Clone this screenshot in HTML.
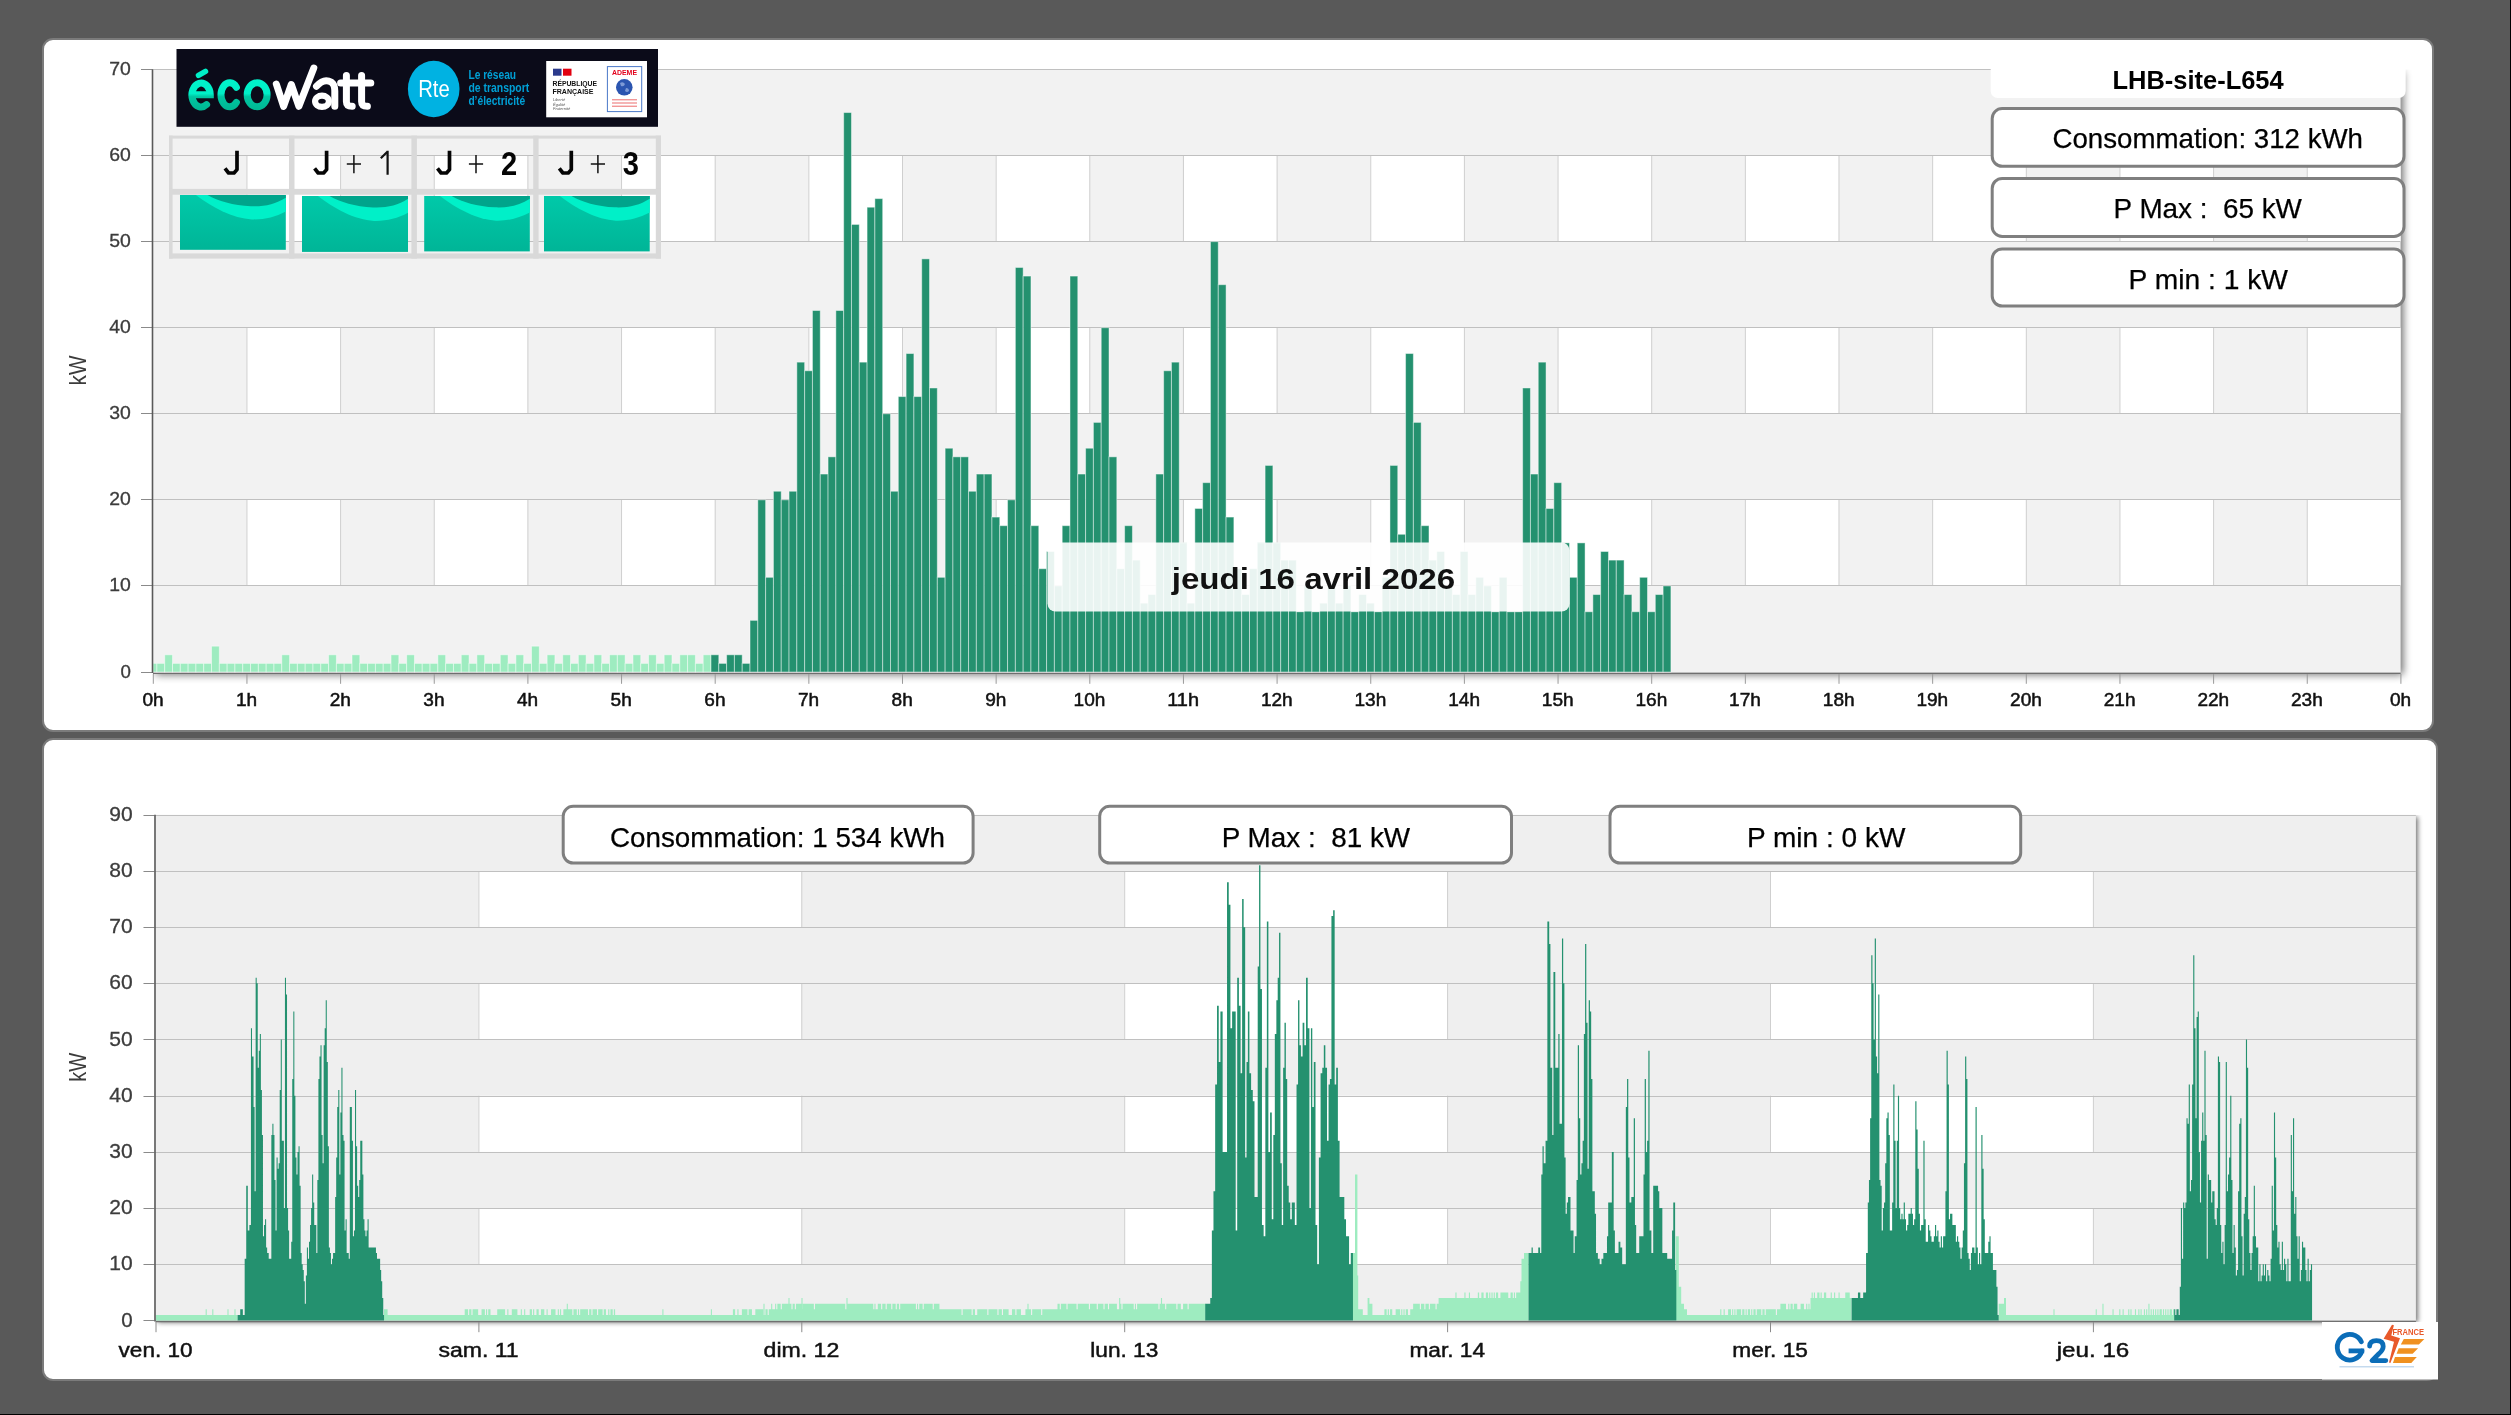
<!DOCTYPE html>
<html><head><meta charset="utf-8"><title>Consommation</title>
<style>
html,body{margin:0;padding:0;}
body{width:2511px;height:1415px;background:#595959;overflow:hidden;position:relative;font-family:'Liberation Sans', sans-serif;}
svg{position:absolute;left:0;top:0;will-change:transform;}
svg text{font-family:'Liberation Sans', sans-serif;}
</style></head><body>
<svg width="2511" height="1415" viewBox="0 0 2511 1415">
<defs>
<clipPath id="tclip"><rect x="153" y="69.5" width="2300" height="660"/></clipPath>
<clipPath id="bclip"><rect x="155.6" y="815" width="2300" height="560"/></clipPath>
<filter id="psh" x="-5%" y="-5%" width="110%" height="120%"><feGaussianBlur stdDeviation="4"/></filter>
<filter id="psh2" x="-5%" y="-5%" width="110%" height="120%"><feGaussianBlur stdDeviation="2.6"/></filter>
<filter id="bsh" x="-10%" y="-20%" width="120%" height="160%"><feGaussianBlur stdDeviation="2"/></filter>
</defs>
<rect x="2510" y="0" width="1" height="1415" fill="#000"/>
<rect x="0" y="1414" width="2511" height="1" fill="#000"/>

<rect x="43" y="39" width="2390" height="692" rx="10" ry="10" fill="#fff" stroke="#7b7b7b" stroke-width="2"/>
<rect x="43" y="739" width="2394" height="641" rx="10" ry="10" fill="#fff" stroke="#7b7b7b" stroke-width="2"/>
<rect x="155.5" y="72.0" width="2247.6" height="602.5" fill="#000" opacity="0.58" filter="url(#psh)" clip-path="url(#tclip)"/>
<rect x="153.0" y="69.5" width="2247.6" height="602.5" fill="#f2f2f2"/>
<rect x="246.65" y="499.86" width="93.65" height="86.07" fill="#fff"/>
<rect x="433.95" y="499.86" width="93.65" height="86.07" fill="#fff"/>
<rect x="621.25" y="499.86" width="93.65" height="86.07" fill="#fff"/>
<rect x="808.55" y="499.86" width="93.65" height="86.07" fill="#fff"/>
<rect x="995.85" y="499.86" width="93.65" height="86.07" fill="#fff"/>
<rect x="1183.15" y="499.86" width="93.65" height="86.07" fill="#fff"/>
<rect x="1370.45" y="499.86" width="93.65" height="86.07" fill="#fff"/>
<rect x="1557.75" y="499.86" width="93.65" height="86.07" fill="#fff"/>
<rect x="1745.05" y="499.86" width="93.65" height="86.07" fill="#fff"/>
<rect x="1932.35" y="499.86" width="93.65" height="86.07" fill="#fff"/>
<rect x="2119.65" y="499.86" width="93.65" height="86.07" fill="#fff"/>
<rect x="2306.95" y="499.86" width="93.65" height="86.07" fill="#fff"/>
<line x1="246.95" y1="499.9" x2="246.95" y2="585.9" stroke="#cfcfcf" stroke-width="1"/>
<line x1="340.6" y1="499.9" x2="340.6" y2="585.9" stroke="#cfcfcf" stroke-width="1"/>
<line x1="434.25" y1="499.9" x2="434.25" y2="585.9" stroke="#cfcfcf" stroke-width="1"/>
<line x1="527.9" y1="499.9" x2="527.9" y2="585.9" stroke="#cfcfcf" stroke-width="1"/>
<line x1="621.55" y1="499.9" x2="621.55" y2="585.9" stroke="#cfcfcf" stroke-width="1"/>
<line x1="715.2" y1="499.9" x2="715.2" y2="585.9" stroke="#cfcfcf" stroke-width="1"/>
<line x1="808.85" y1="499.9" x2="808.85" y2="585.9" stroke="#cfcfcf" stroke-width="1"/>
<line x1="902.5" y1="499.9" x2="902.5" y2="585.9" stroke="#cfcfcf" stroke-width="1"/>
<line x1="996.15" y1="499.9" x2="996.15" y2="585.9" stroke="#cfcfcf" stroke-width="1"/>
<line x1="1089.8" y1="499.9" x2="1089.8" y2="585.9" stroke="#cfcfcf" stroke-width="1"/>
<line x1="1183.45" y1="499.9" x2="1183.45" y2="585.9" stroke="#cfcfcf" stroke-width="1"/>
<line x1="1277.1" y1="499.9" x2="1277.1" y2="585.9" stroke="#cfcfcf" stroke-width="1"/>
<line x1="1370.75" y1="499.9" x2="1370.75" y2="585.9" stroke="#cfcfcf" stroke-width="1"/>
<line x1="1464.4" y1="499.9" x2="1464.4" y2="585.9" stroke="#cfcfcf" stroke-width="1"/>
<line x1="1558.05" y1="499.9" x2="1558.05" y2="585.9" stroke="#cfcfcf" stroke-width="1"/>
<line x1="1651.7" y1="499.9" x2="1651.7" y2="585.9" stroke="#cfcfcf" stroke-width="1"/>
<line x1="1745.35" y1="499.9" x2="1745.35" y2="585.9" stroke="#cfcfcf" stroke-width="1"/>
<line x1="1839.0" y1="499.9" x2="1839.0" y2="585.9" stroke="#cfcfcf" stroke-width="1"/>
<line x1="1932.65" y1="499.9" x2="1932.65" y2="585.9" stroke="#cfcfcf" stroke-width="1"/>
<line x1="2026.3" y1="499.9" x2="2026.3" y2="585.9" stroke="#cfcfcf" stroke-width="1"/>
<line x1="2119.95" y1="499.9" x2="2119.95" y2="585.9" stroke="#cfcfcf" stroke-width="1"/>
<line x1="2213.6" y1="499.9" x2="2213.6" y2="585.9" stroke="#cfcfcf" stroke-width="1"/>
<line x1="2307.25" y1="499.9" x2="2307.25" y2="585.9" stroke="#cfcfcf" stroke-width="1"/>
<rect x="246.65" y="327.72" width="93.65" height="86.07" fill="#fff"/>
<rect x="433.95" y="327.72" width="93.65" height="86.07" fill="#fff"/>
<rect x="621.25" y="327.72" width="93.65" height="86.07" fill="#fff"/>
<rect x="808.55" y="327.72" width="93.65" height="86.07" fill="#fff"/>
<rect x="995.85" y="327.72" width="93.65" height="86.07" fill="#fff"/>
<rect x="1183.15" y="327.72" width="93.65" height="86.07" fill="#fff"/>
<rect x="1370.45" y="327.72" width="93.65" height="86.07" fill="#fff"/>
<rect x="1557.75" y="327.72" width="93.65" height="86.07" fill="#fff"/>
<rect x="1745.05" y="327.72" width="93.65" height="86.07" fill="#fff"/>
<rect x="1932.35" y="327.72" width="93.65" height="86.07" fill="#fff"/>
<rect x="2119.65" y="327.72" width="93.65" height="86.07" fill="#fff"/>
<rect x="2306.95" y="327.72" width="93.65" height="86.07" fill="#fff"/>
<line x1="246.95" y1="327.7" x2="246.95" y2="413.8" stroke="#cfcfcf" stroke-width="1"/>
<line x1="340.6" y1="327.7" x2="340.6" y2="413.8" stroke="#cfcfcf" stroke-width="1"/>
<line x1="434.25" y1="327.7" x2="434.25" y2="413.8" stroke="#cfcfcf" stroke-width="1"/>
<line x1="527.9" y1="327.7" x2="527.9" y2="413.8" stroke="#cfcfcf" stroke-width="1"/>
<line x1="621.55" y1="327.7" x2="621.55" y2="413.8" stroke="#cfcfcf" stroke-width="1"/>
<line x1="715.2" y1="327.7" x2="715.2" y2="413.8" stroke="#cfcfcf" stroke-width="1"/>
<line x1="808.85" y1="327.7" x2="808.85" y2="413.8" stroke="#cfcfcf" stroke-width="1"/>
<line x1="902.5" y1="327.7" x2="902.5" y2="413.8" stroke="#cfcfcf" stroke-width="1"/>
<line x1="996.15" y1="327.7" x2="996.15" y2="413.8" stroke="#cfcfcf" stroke-width="1"/>
<line x1="1089.8" y1="327.7" x2="1089.8" y2="413.8" stroke="#cfcfcf" stroke-width="1"/>
<line x1="1183.45" y1="327.7" x2="1183.45" y2="413.8" stroke="#cfcfcf" stroke-width="1"/>
<line x1="1277.1" y1="327.7" x2="1277.1" y2="413.8" stroke="#cfcfcf" stroke-width="1"/>
<line x1="1370.75" y1="327.7" x2="1370.75" y2="413.8" stroke="#cfcfcf" stroke-width="1"/>
<line x1="1464.4" y1="327.7" x2="1464.4" y2="413.8" stroke="#cfcfcf" stroke-width="1"/>
<line x1="1558.05" y1="327.7" x2="1558.05" y2="413.8" stroke="#cfcfcf" stroke-width="1"/>
<line x1="1651.7" y1="327.7" x2="1651.7" y2="413.8" stroke="#cfcfcf" stroke-width="1"/>
<line x1="1745.35" y1="327.7" x2="1745.35" y2="413.8" stroke="#cfcfcf" stroke-width="1"/>
<line x1="1839.0" y1="327.7" x2="1839.0" y2="413.8" stroke="#cfcfcf" stroke-width="1"/>
<line x1="1932.65" y1="327.7" x2="1932.65" y2="413.8" stroke="#cfcfcf" stroke-width="1"/>
<line x1="2026.3" y1="327.7" x2="2026.3" y2="413.8" stroke="#cfcfcf" stroke-width="1"/>
<line x1="2119.95" y1="327.7" x2="2119.95" y2="413.8" stroke="#cfcfcf" stroke-width="1"/>
<line x1="2213.6" y1="327.7" x2="2213.6" y2="413.8" stroke="#cfcfcf" stroke-width="1"/>
<line x1="2307.25" y1="327.7" x2="2307.25" y2="413.8" stroke="#cfcfcf" stroke-width="1"/>
<rect x="246.65" y="155.58" width="93.65" height="86.07" fill="#fff"/>
<rect x="433.95" y="155.58" width="93.65" height="86.07" fill="#fff"/>
<rect x="621.25" y="155.58" width="93.65" height="86.07" fill="#fff"/>
<rect x="808.55" y="155.58" width="93.65" height="86.07" fill="#fff"/>
<rect x="995.85" y="155.58" width="93.65" height="86.07" fill="#fff"/>
<rect x="1183.15" y="155.58" width="93.65" height="86.07" fill="#fff"/>
<rect x="1370.45" y="155.58" width="93.65" height="86.07" fill="#fff"/>
<rect x="1557.75" y="155.58" width="93.65" height="86.07" fill="#fff"/>
<rect x="1745.05" y="155.58" width="93.65" height="86.07" fill="#fff"/>
<rect x="1932.35" y="155.58" width="93.65" height="86.07" fill="#fff"/>
<rect x="2119.65" y="155.58" width="93.65" height="86.07" fill="#fff"/>
<rect x="2306.95" y="155.58" width="93.65" height="86.07" fill="#fff"/>
<line x1="246.95" y1="155.6" x2="246.95" y2="241.7" stroke="#cfcfcf" stroke-width="1"/>
<line x1="340.6" y1="155.6" x2="340.6" y2="241.7" stroke="#cfcfcf" stroke-width="1"/>
<line x1="434.25" y1="155.6" x2="434.25" y2="241.7" stroke="#cfcfcf" stroke-width="1"/>
<line x1="527.9" y1="155.6" x2="527.9" y2="241.7" stroke="#cfcfcf" stroke-width="1"/>
<line x1="621.55" y1="155.6" x2="621.55" y2="241.7" stroke="#cfcfcf" stroke-width="1"/>
<line x1="715.2" y1="155.6" x2="715.2" y2="241.7" stroke="#cfcfcf" stroke-width="1"/>
<line x1="808.85" y1="155.6" x2="808.85" y2="241.7" stroke="#cfcfcf" stroke-width="1"/>
<line x1="902.5" y1="155.6" x2="902.5" y2="241.7" stroke="#cfcfcf" stroke-width="1"/>
<line x1="996.15" y1="155.6" x2="996.15" y2="241.7" stroke="#cfcfcf" stroke-width="1"/>
<line x1="1089.8" y1="155.6" x2="1089.8" y2="241.7" stroke="#cfcfcf" stroke-width="1"/>
<line x1="1183.45" y1="155.6" x2="1183.45" y2="241.7" stroke="#cfcfcf" stroke-width="1"/>
<line x1="1277.1" y1="155.6" x2="1277.1" y2="241.7" stroke="#cfcfcf" stroke-width="1"/>
<line x1="1370.75" y1="155.6" x2="1370.75" y2="241.7" stroke="#cfcfcf" stroke-width="1"/>
<line x1="1464.4" y1="155.6" x2="1464.4" y2="241.7" stroke="#cfcfcf" stroke-width="1"/>
<line x1="1558.05" y1="155.6" x2="1558.05" y2="241.7" stroke="#cfcfcf" stroke-width="1"/>
<line x1="1651.7" y1="155.6" x2="1651.7" y2="241.7" stroke="#cfcfcf" stroke-width="1"/>
<line x1="1745.35" y1="155.6" x2="1745.35" y2="241.7" stroke="#cfcfcf" stroke-width="1"/>
<line x1="1839.0" y1="155.6" x2="1839.0" y2="241.7" stroke="#cfcfcf" stroke-width="1"/>
<line x1="1932.65" y1="155.6" x2="1932.65" y2="241.7" stroke="#cfcfcf" stroke-width="1"/>
<line x1="2026.3" y1="155.6" x2="2026.3" y2="241.7" stroke="#cfcfcf" stroke-width="1"/>
<line x1="2119.95" y1="155.6" x2="2119.95" y2="241.7" stroke="#cfcfcf" stroke-width="1"/>
<line x1="2213.6" y1="155.6" x2="2213.6" y2="241.7" stroke="#cfcfcf" stroke-width="1"/>
<line x1="2307.25" y1="155.6" x2="2307.25" y2="241.7" stroke="#cfcfcf" stroke-width="1"/>
<line x1="141.0" y1="672.5" x2="2400.6" y2="672.5" stroke="#c0c0c0" stroke-width="1"/>
<line x1="141.0" y1="672.5" x2="153.0" y2="672.5" stroke="#8a8a8a" stroke-width="1"/>
<line x1="141.0" y1="585.5" x2="2400.6" y2="585.5" stroke="#c0c0c0" stroke-width="1"/>
<line x1="141.0" y1="585.5" x2="153.0" y2="585.5" stroke="#8a8a8a" stroke-width="1"/>
<line x1="141.0" y1="499.5" x2="2400.6" y2="499.5" stroke="#c0c0c0" stroke-width="1"/>
<line x1="141.0" y1="499.5" x2="153.0" y2="499.5" stroke="#8a8a8a" stroke-width="1"/>
<line x1="141.0" y1="413.5" x2="2400.6" y2="413.5" stroke="#c0c0c0" stroke-width="1"/>
<line x1="141.0" y1="413.5" x2="153.0" y2="413.5" stroke="#8a8a8a" stroke-width="1"/>
<line x1="141.0" y1="327.5" x2="2400.6" y2="327.5" stroke="#c0c0c0" stroke-width="1"/>
<line x1="141.0" y1="327.5" x2="153.0" y2="327.5" stroke="#8a8a8a" stroke-width="1"/>
<line x1="141.0" y1="241.5" x2="2400.6" y2="241.5" stroke="#c0c0c0" stroke-width="1"/>
<line x1="141.0" y1="241.5" x2="153.0" y2="241.5" stroke="#8a8a8a" stroke-width="1"/>
<line x1="141.0" y1="155.5" x2="2400.6" y2="155.5" stroke="#c0c0c0" stroke-width="1"/>
<line x1="141.0" y1="155.5" x2="153.0" y2="155.5" stroke="#8a8a8a" stroke-width="1"/>
<line x1="141.0" y1="69.5" x2="2400.6" y2="69.5" stroke="#c0c0c0" stroke-width="1"/>
<line x1="141.0" y1="69.5" x2="153.0" y2="69.5" stroke="#8a8a8a" stroke-width="1"/>
<rect x="153.00" y="663.39" width="3.90" height="8.61" fill="#9eecc0" stroke="#fff" stroke-opacity="0.45" stroke-width="1"/>
<rect x="156.90" y="663.39" width="7.80" height="8.61" fill="#9eecc0" stroke="#fff" stroke-opacity="0.45" stroke-width="1"/>
<rect x="164.71" y="654.79" width="7.80" height="17.21" fill="#9eecc0" stroke="#fff" stroke-opacity="0.45" stroke-width="1"/>
<rect x="172.51" y="663.39" width="7.80" height="8.61" fill="#9eecc0" stroke="#fff" stroke-opacity="0.45" stroke-width="1"/>
<rect x="180.31" y="663.39" width="7.80" height="8.61" fill="#9eecc0" stroke="#fff" stroke-opacity="0.45" stroke-width="1"/>
<rect x="188.12" y="663.39" width="7.80" height="8.61" fill="#9eecc0" stroke="#fff" stroke-opacity="0.45" stroke-width="1"/>
<rect x="195.92" y="663.39" width="7.80" height="8.61" fill="#9eecc0" stroke="#fff" stroke-opacity="0.45" stroke-width="1"/>
<rect x="203.73" y="663.39" width="7.80" height="8.61" fill="#9eecc0" stroke="#fff" stroke-opacity="0.45" stroke-width="1"/>
<rect x="211.53" y="646.18" width="7.80" height="25.82" fill="#9eecc0" stroke="#fff" stroke-opacity="0.45" stroke-width="1"/>
<rect x="219.34" y="663.39" width="7.80" height="8.61" fill="#9eecc0" stroke="#fff" stroke-opacity="0.45" stroke-width="1"/>
<rect x="227.14" y="663.39" width="7.80" height="8.61" fill="#9eecc0" stroke="#fff" stroke-opacity="0.45" stroke-width="1"/>
<rect x="234.94" y="663.39" width="7.80" height="8.61" fill="#9eecc0" stroke="#fff" stroke-opacity="0.45" stroke-width="1"/>
<rect x="242.75" y="663.39" width="7.80" height="8.61" fill="#9eecc0" stroke="#fff" stroke-opacity="0.45" stroke-width="1"/>
<rect x="250.55" y="663.39" width="7.80" height="8.61" fill="#9eecc0" stroke="#fff" stroke-opacity="0.45" stroke-width="1"/>
<rect x="258.36" y="663.39" width="7.80" height="8.61" fill="#9eecc0" stroke="#fff" stroke-opacity="0.45" stroke-width="1"/>
<rect x="266.16" y="663.39" width="7.80" height="8.61" fill="#9eecc0" stroke="#fff" stroke-opacity="0.45" stroke-width="1"/>
<rect x="273.96" y="663.39" width="7.80" height="8.61" fill="#9eecc0" stroke="#fff" stroke-opacity="0.45" stroke-width="1"/>
<rect x="281.77" y="654.79" width="7.80" height="17.21" fill="#9eecc0" stroke="#fff" stroke-opacity="0.45" stroke-width="1"/>
<rect x="289.57" y="663.39" width="7.80" height="8.61" fill="#9eecc0" stroke="#fff" stroke-opacity="0.45" stroke-width="1"/>
<rect x="297.38" y="663.39" width="7.80" height="8.61" fill="#9eecc0" stroke="#fff" stroke-opacity="0.45" stroke-width="1"/>
<rect x="305.18" y="663.39" width="7.80" height="8.61" fill="#9eecc0" stroke="#fff" stroke-opacity="0.45" stroke-width="1"/>
<rect x="312.99" y="663.39" width="7.80" height="8.61" fill="#9eecc0" stroke="#fff" stroke-opacity="0.45" stroke-width="1"/>
<rect x="320.79" y="663.39" width="7.80" height="8.61" fill="#9eecc0" stroke="#fff" stroke-opacity="0.45" stroke-width="1"/>
<rect x="328.59" y="654.79" width="7.80" height="17.21" fill="#9eecc0" stroke="#fff" stroke-opacity="0.45" stroke-width="1"/>
<rect x="336.40" y="663.39" width="7.80" height="8.61" fill="#9eecc0" stroke="#fff" stroke-opacity="0.45" stroke-width="1"/>
<rect x="344.20" y="663.39" width="7.80" height="8.61" fill="#9eecc0" stroke="#fff" stroke-opacity="0.45" stroke-width="1"/>
<rect x="352.01" y="654.79" width="7.80" height="17.21" fill="#9eecc0" stroke="#fff" stroke-opacity="0.45" stroke-width="1"/>
<rect x="359.81" y="663.39" width="7.80" height="8.61" fill="#9eecc0" stroke="#fff" stroke-opacity="0.45" stroke-width="1"/>
<rect x="367.61" y="663.39" width="7.80" height="8.61" fill="#9eecc0" stroke="#fff" stroke-opacity="0.45" stroke-width="1"/>
<rect x="375.42" y="663.39" width="7.80" height="8.61" fill="#9eecc0" stroke="#fff" stroke-opacity="0.45" stroke-width="1"/>
<rect x="383.22" y="663.39" width="7.80" height="8.61" fill="#9eecc0" stroke="#fff" stroke-opacity="0.45" stroke-width="1"/>
<rect x="391.03" y="654.79" width="7.80" height="17.21" fill="#9eecc0" stroke="#fff" stroke-opacity="0.45" stroke-width="1"/>
<rect x="398.83" y="663.39" width="7.80" height="8.61" fill="#9eecc0" stroke="#fff" stroke-opacity="0.45" stroke-width="1"/>
<rect x="406.64" y="654.79" width="7.80" height="17.21" fill="#9eecc0" stroke="#fff" stroke-opacity="0.45" stroke-width="1"/>
<rect x="414.44" y="663.39" width="7.80" height="8.61" fill="#9eecc0" stroke="#fff" stroke-opacity="0.45" stroke-width="1"/>
<rect x="422.24" y="663.39" width="7.80" height="8.61" fill="#9eecc0" stroke="#fff" stroke-opacity="0.45" stroke-width="1"/>
<rect x="430.05" y="663.39" width="7.80" height="8.61" fill="#9eecc0" stroke="#fff" stroke-opacity="0.45" stroke-width="1"/>
<rect x="437.85" y="654.79" width="7.80" height="17.21" fill="#9eecc0" stroke="#fff" stroke-opacity="0.45" stroke-width="1"/>
<rect x="445.66" y="663.39" width="7.80" height="8.61" fill="#9eecc0" stroke="#fff" stroke-opacity="0.45" stroke-width="1"/>
<rect x="453.46" y="663.39" width="7.80" height="8.61" fill="#9eecc0" stroke="#fff" stroke-opacity="0.45" stroke-width="1"/>
<rect x="461.26" y="654.79" width="7.80" height="17.21" fill="#9eecc0" stroke="#fff" stroke-opacity="0.45" stroke-width="1"/>
<rect x="469.07" y="663.39" width="7.80" height="8.61" fill="#9eecc0" stroke="#fff" stroke-opacity="0.45" stroke-width="1"/>
<rect x="476.87" y="654.79" width="7.80" height="17.21" fill="#9eecc0" stroke="#fff" stroke-opacity="0.45" stroke-width="1"/>
<rect x="484.68" y="663.39" width="7.80" height="8.61" fill="#9eecc0" stroke="#fff" stroke-opacity="0.45" stroke-width="1"/>
<rect x="492.48" y="663.39" width="7.80" height="8.61" fill="#9eecc0" stroke="#fff" stroke-opacity="0.45" stroke-width="1"/>
<rect x="500.29" y="654.79" width="7.80" height="17.21" fill="#9eecc0" stroke="#fff" stroke-opacity="0.45" stroke-width="1"/>
<rect x="508.09" y="663.39" width="7.80" height="8.61" fill="#9eecc0" stroke="#fff" stroke-opacity="0.45" stroke-width="1"/>
<rect x="515.89" y="654.79" width="7.80" height="17.21" fill="#9eecc0" stroke="#fff" stroke-opacity="0.45" stroke-width="1"/>
<rect x="523.70" y="663.39" width="7.80" height="8.61" fill="#9eecc0" stroke="#fff" stroke-opacity="0.45" stroke-width="1"/>
<rect x="531.50" y="646.18" width="7.80" height="25.82" fill="#9eecc0" stroke="#fff" stroke-opacity="0.45" stroke-width="1"/>
<rect x="539.31" y="663.39" width="7.80" height="8.61" fill="#9eecc0" stroke="#fff" stroke-opacity="0.45" stroke-width="1"/>
<rect x="547.11" y="654.79" width="7.80" height="17.21" fill="#9eecc0" stroke="#fff" stroke-opacity="0.45" stroke-width="1"/>
<rect x="554.91" y="663.39" width="7.80" height="8.61" fill="#9eecc0" stroke="#fff" stroke-opacity="0.45" stroke-width="1"/>
<rect x="562.72" y="654.79" width="7.80" height="17.21" fill="#9eecc0" stroke="#fff" stroke-opacity="0.45" stroke-width="1"/>
<rect x="570.52" y="663.39" width="7.80" height="8.61" fill="#9eecc0" stroke="#fff" stroke-opacity="0.45" stroke-width="1"/>
<rect x="578.33" y="654.79" width="7.80" height="17.21" fill="#9eecc0" stroke="#fff" stroke-opacity="0.45" stroke-width="1"/>
<rect x="586.13" y="663.39" width="7.80" height="8.61" fill="#9eecc0" stroke="#fff" stroke-opacity="0.45" stroke-width="1"/>
<rect x="593.94" y="654.79" width="7.80" height="17.21" fill="#9eecc0" stroke="#fff" stroke-opacity="0.45" stroke-width="1"/>
<rect x="601.74" y="663.39" width="7.80" height="8.61" fill="#9eecc0" stroke="#fff" stroke-opacity="0.45" stroke-width="1"/>
<rect x="609.54" y="654.79" width="7.80" height="17.21" fill="#9eecc0" stroke="#fff" stroke-opacity="0.45" stroke-width="1"/>
<rect x="617.35" y="654.79" width="7.80" height="17.21" fill="#9eecc0" stroke="#fff" stroke-opacity="0.45" stroke-width="1"/>
<rect x="625.15" y="663.39" width="7.80" height="8.61" fill="#9eecc0" stroke="#fff" stroke-opacity="0.45" stroke-width="1"/>
<rect x="632.96" y="654.79" width="7.80" height="17.21" fill="#9eecc0" stroke="#fff" stroke-opacity="0.45" stroke-width="1"/>
<rect x="640.76" y="663.39" width="7.80" height="8.61" fill="#9eecc0" stroke="#fff" stroke-opacity="0.45" stroke-width="1"/>
<rect x="648.56" y="654.79" width="7.80" height="17.21" fill="#9eecc0" stroke="#fff" stroke-opacity="0.45" stroke-width="1"/>
<rect x="656.37" y="663.39" width="7.80" height="8.61" fill="#9eecc0" stroke="#fff" stroke-opacity="0.45" stroke-width="1"/>
<rect x="664.17" y="654.79" width="7.80" height="17.21" fill="#9eecc0" stroke="#fff" stroke-opacity="0.45" stroke-width="1"/>
<rect x="671.98" y="663.39" width="7.80" height="8.61" fill="#9eecc0" stroke="#fff" stroke-opacity="0.45" stroke-width="1"/>
<rect x="679.78" y="654.79" width="7.80" height="17.21" fill="#9eecc0" stroke="#fff" stroke-opacity="0.45" stroke-width="1"/>
<rect x="687.59" y="654.79" width="7.80" height="17.21" fill="#9eecc0" stroke="#fff" stroke-opacity="0.45" stroke-width="1"/>
<rect x="695.39" y="663.39" width="7.80" height="8.61" fill="#9eecc0" stroke="#fff" stroke-opacity="0.45" stroke-width="1"/>
<rect x="703.19" y="654.79" width="7.80" height="17.21" fill="#9eecc0" stroke="#fff" stroke-opacity="0.45" stroke-width="1"/>
<rect x="711.00" y="654.79" width="7.80" height="17.21" fill="#24916f" stroke="#fff" stroke-opacity="0.45" stroke-width="1"/>
<rect x="718.80" y="663.39" width="7.80" height="8.61" fill="#24916f" stroke="#fff" stroke-opacity="0.45" stroke-width="1"/>
<rect x="726.61" y="654.79" width="7.80" height="17.21" fill="#24916f" stroke="#fff" stroke-opacity="0.45" stroke-width="1"/>
<rect x="734.41" y="654.79" width="7.80" height="17.21" fill="#24916f" stroke="#fff" stroke-opacity="0.45" stroke-width="1"/>
<rect x="742.21" y="663.39" width="7.80" height="8.61" fill="#24916f" stroke="#fff" stroke-opacity="0.45" stroke-width="1"/>
<rect x="750.02" y="620.36" width="7.80" height="51.64" fill="#24916f" stroke="#fff" stroke-opacity="0.45" stroke-width="1"/>
<rect x="757.82" y="499.86" width="7.80" height="172.14" fill="#24916f" stroke="#fff" stroke-opacity="0.45" stroke-width="1"/>
<rect x="765.63" y="577.32" width="7.80" height="94.68" fill="#24916f" stroke="#fff" stroke-opacity="0.45" stroke-width="1"/>
<rect x="773.43" y="491.25" width="7.80" height="180.75" fill="#24916f" stroke="#fff" stroke-opacity="0.45" stroke-width="1"/>
<rect x="781.24" y="499.86" width="7.80" height="172.14" fill="#24916f" stroke="#fff" stroke-opacity="0.45" stroke-width="1"/>
<rect x="789.04" y="491.25" width="7.80" height="180.75" fill="#24916f" stroke="#fff" stroke-opacity="0.45" stroke-width="1"/>
<rect x="796.84" y="362.15" width="7.80" height="309.85" fill="#24916f" stroke="#fff" stroke-opacity="0.45" stroke-width="1"/>
<rect x="804.65" y="370.75" width="7.80" height="301.25" fill="#24916f" stroke="#fff" stroke-opacity="0.45" stroke-width="1"/>
<rect x="812.45" y="310.51" width="7.80" height="361.49" fill="#24916f" stroke="#fff" stroke-opacity="0.45" stroke-width="1"/>
<rect x="820.26" y="474.04" width="7.80" height="197.96" fill="#24916f" stroke="#fff" stroke-opacity="0.45" stroke-width="1"/>
<rect x="828.06" y="456.83" width="7.80" height="215.17" fill="#24916f" stroke="#fff" stroke-opacity="0.45" stroke-width="1"/>
<rect x="835.86" y="310.51" width="7.80" height="361.49" fill="#24916f" stroke="#fff" stroke-opacity="0.45" stroke-width="1"/>
<rect x="843.67" y="112.55" width="7.80" height="559.45" fill="#24916f" stroke="#fff" stroke-opacity="0.45" stroke-width="1"/>
<rect x="851.47" y="224.44" width="7.80" height="447.56" fill="#24916f" stroke="#fff" stroke-opacity="0.45" stroke-width="1"/>
<rect x="859.28" y="362.15" width="7.80" height="309.85" fill="#24916f" stroke="#fff" stroke-opacity="0.45" stroke-width="1"/>
<rect x="867.08" y="207.22" width="7.80" height="464.78" fill="#24916f" stroke="#fff" stroke-opacity="0.45" stroke-width="1"/>
<rect x="874.89" y="198.62" width="7.80" height="473.38" fill="#24916f" stroke="#fff" stroke-opacity="0.45" stroke-width="1"/>
<rect x="882.69" y="413.79" width="7.80" height="258.21" fill="#24916f" stroke="#fff" stroke-opacity="0.45" stroke-width="1"/>
<rect x="890.49" y="491.25" width="7.80" height="180.75" fill="#24916f" stroke="#fff" stroke-opacity="0.45" stroke-width="1"/>
<rect x="898.30" y="396.58" width="7.80" height="275.42" fill="#24916f" stroke="#fff" stroke-opacity="0.45" stroke-width="1"/>
<rect x="906.10" y="353.54" width="7.80" height="318.46" fill="#24916f" stroke="#fff" stroke-opacity="0.45" stroke-width="1"/>
<rect x="913.91" y="396.58" width="7.80" height="275.42" fill="#24916f" stroke="#fff" stroke-opacity="0.45" stroke-width="1"/>
<rect x="921.71" y="258.86" width="7.80" height="413.14" fill="#24916f" stroke="#fff" stroke-opacity="0.45" stroke-width="1"/>
<rect x="929.51" y="387.97" width="7.80" height="284.03" fill="#24916f" stroke="#fff" stroke-opacity="0.45" stroke-width="1"/>
<rect x="937.32" y="577.32" width="7.80" height="94.68" fill="#24916f" stroke="#fff" stroke-opacity="0.45" stroke-width="1"/>
<rect x="945.12" y="448.22" width="7.80" height="223.78" fill="#24916f" stroke="#fff" stroke-opacity="0.45" stroke-width="1"/>
<rect x="952.93" y="456.83" width="7.80" height="215.17" fill="#24916f" stroke="#fff" stroke-opacity="0.45" stroke-width="1"/>
<rect x="960.73" y="456.83" width="7.80" height="215.17" fill="#24916f" stroke="#fff" stroke-opacity="0.45" stroke-width="1"/>
<rect x="968.54" y="491.25" width="7.80" height="180.75" fill="#24916f" stroke="#fff" stroke-opacity="0.45" stroke-width="1"/>
<rect x="976.34" y="474.04" width="7.80" height="197.96" fill="#24916f" stroke="#fff" stroke-opacity="0.45" stroke-width="1"/>
<rect x="984.14" y="474.04" width="7.80" height="197.96" fill="#24916f" stroke="#fff" stroke-opacity="0.45" stroke-width="1"/>
<rect x="991.95" y="517.07" width="7.80" height="154.93" fill="#24916f" stroke="#fff" stroke-opacity="0.45" stroke-width="1"/>
<rect x="999.75" y="525.68" width="7.80" height="146.32" fill="#24916f" stroke="#fff" stroke-opacity="0.45" stroke-width="1"/>
<rect x="1007.56" y="499.86" width="7.80" height="172.14" fill="#24916f" stroke="#fff" stroke-opacity="0.45" stroke-width="1"/>
<rect x="1015.36" y="267.47" width="7.80" height="404.53" fill="#24916f" stroke="#fff" stroke-opacity="0.45" stroke-width="1"/>
<rect x="1023.16" y="276.08" width="7.80" height="395.92" fill="#24916f" stroke="#fff" stroke-opacity="0.45" stroke-width="1"/>
<rect x="1030.97" y="525.68" width="7.80" height="146.32" fill="#24916f" stroke="#fff" stroke-opacity="0.45" stroke-width="1"/>
<rect x="1038.77" y="568.72" width="7.80" height="103.28" fill="#24916f" stroke="#fff" stroke-opacity="0.45" stroke-width="1"/>
<rect x="1046.58" y="551.50" width="7.80" height="120.50" fill="#24916f" stroke="#fff" stroke-opacity="0.45" stroke-width="1"/>
<rect x="1054.38" y="585.93" width="7.80" height="86.07" fill="#24916f" stroke="#fff" stroke-opacity="0.45" stroke-width="1"/>
<rect x="1062.19" y="525.68" width="7.80" height="146.32" fill="#24916f" stroke="#fff" stroke-opacity="0.45" stroke-width="1"/>
<rect x="1069.99" y="276.08" width="7.80" height="395.92" fill="#24916f" stroke="#fff" stroke-opacity="0.45" stroke-width="1"/>
<rect x="1077.79" y="474.04" width="7.80" height="197.96" fill="#24916f" stroke="#fff" stroke-opacity="0.45" stroke-width="1"/>
<rect x="1085.60" y="448.22" width="7.80" height="223.78" fill="#24916f" stroke="#fff" stroke-opacity="0.45" stroke-width="1"/>
<rect x="1093.40" y="422.40" width="7.80" height="249.60" fill="#24916f" stroke="#fff" stroke-opacity="0.45" stroke-width="1"/>
<rect x="1101.21" y="327.72" width="7.80" height="344.28" fill="#24916f" stroke="#fff" stroke-opacity="0.45" stroke-width="1"/>
<rect x="1109.01" y="456.83" width="7.80" height="215.17" fill="#24916f" stroke="#fff" stroke-opacity="0.45" stroke-width="1"/>
<rect x="1116.81" y="568.72" width="7.80" height="103.28" fill="#24916f" stroke="#fff" stroke-opacity="0.45" stroke-width="1"/>
<rect x="1124.62" y="525.68" width="7.80" height="146.32" fill="#24916f" stroke="#fff" stroke-opacity="0.45" stroke-width="1"/>
<rect x="1132.42" y="560.11" width="7.80" height="111.89" fill="#24916f" stroke="#fff" stroke-opacity="0.45" stroke-width="1"/>
<rect x="1140.23" y="603.14" width="7.80" height="68.86" fill="#24916f" stroke="#fff" stroke-opacity="0.45" stroke-width="1"/>
<rect x="1148.03" y="594.54" width="7.80" height="77.46" fill="#24916f" stroke="#fff" stroke-opacity="0.45" stroke-width="1"/>
<rect x="1155.84" y="474.04" width="7.80" height="197.96" fill="#24916f" stroke="#fff" stroke-opacity="0.45" stroke-width="1"/>
<rect x="1163.64" y="370.75" width="7.80" height="301.25" fill="#24916f" stroke="#fff" stroke-opacity="0.45" stroke-width="1"/>
<rect x="1171.44" y="362.15" width="7.80" height="309.85" fill="#24916f" stroke="#fff" stroke-opacity="0.45" stroke-width="1"/>
<rect x="1179.25" y="542.89" width="7.80" height="129.11" fill="#24916f" stroke="#fff" stroke-opacity="0.45" stroke-width="1"/>
<rect x="1187.05" y="603.14" width="7.80" height="68.86" fill="#24916f" stroke="#fff" stroke-opacity="0.45" stroke-width="1"/>
<rect x="1194.86" y="508.47" width="7.80" height="163.53" fill="#24916f" stroke="#fff" stroke-opacity="0.45" stroke-width="1"/>
<rect x="1202.66" y="482.65" width="7.80" height="189.35" fill="#24916f" stroke="#fff" stroke-opacity="0.45" stroke-width="1"/>
<rect x="1210.46" y="241.65" width="7.80" height="430.35" fill="#24916f" stroke="#fff" stroke-opacity="0.45" stroke-width="1"/>
<rect x="1218.27" y="284.69" width="7.80" height="387.31" fill="#24916f" stroke="#fff" stroke-opacity="0.45" stroke-width="1"/>
<rect x="1226.07" y="517.07" width="7.80" height="154.93" fill="#24916f" stroke="#fff" stroke-opacity="0.45" stroke-width="1"/>
<rect x="1233.88" y="568.72" width="7.80" height="103.28" fill="#24916f" stroke="#fff" stroke-opacity="0.45" stroke-width="1"/>
<rect x="1241.68" y="594.54" width="7.80" height="77.46" fill="#24916f" stroke="#fff" stroke-opacity="0.45" stroke-width="1"/>
<rect x="1249.49" y="568.72" width="7.80" height="103.28" fill="#24916f" stroke="#fff" stroke-opacity="0.45" stroke-width="1"/>
<rect x="1257.29" y="542.89" width="7.80" height="129.11" fill="#24916f" stroke="#fff" stroke-opacity="0.45" stroke-width="1"/>
<rect x="1265.09" y="465.43" width="7.80" height="206.57" fill="#24916f" stroke="#fff" stroke-opacity="0.45" stroke-width="1"/>
<rect x="1272.90" y="542.89" width="7.80" height="129.11" fill="#24916f" stroke="#fff" stroke-opacity="0.45" stroke-width="1"/>
<rect x="1280.70" y="560.11" width="7.80" height="111.89" fill="#24916f" stroke="#fff" stroke-opacity="0.45" stroke-width="1"/>
<rect x="1288.51" y="560.11" width="7.80" height="111.89" fill="#24916f" stroke="#fff" stroke-opacity="0.45" stroke-width="1"/>
<rect x="1296.31" y="611.75" width="7.80" height="60.25" fill="#24916f" stroke="#fff" stroke-opacity="0.45" stroke-width="1"/>
<rect x="1304.11" y="585.93" width="7.80" height="86.07" fill="#24916f" stroke="#fff" stroke-opacity="0.45" stroke-width="1"/>
<rect x="1311.92" y="611.75" width="7.80" height="60.25" fill="#24916f" stroke="#fff" stroke-opacity="0.45" stroke-width="1"/>
<rect x="1319.72" y="603.14" width="7.80" height="68.86" fill="#24916f" stroke="#fff" stroke-opacity="0.45" stroke-width="1"/>
<rect x="1327.53" y="585.93" width="7.80" height="86.07" fill="#24916f" stroke="#fff" stroke-opacity="0.45" stroke-width="1"/>
<rect x="1335.33" y="603.14" width="7.80" height="68.86" fill="#24916f" stroke="#fff" stroke-opacity="0.45" stroke-width="1"/>
<rect x="1343.14" y="585.93" width="7.80" height="86.07" fill="#24916f" stroke="#fff" stroke-opacity="0.45" stroke-width="1"/>
<rect x="1350.94" y="611.75" width="7.80" height="60.25" fill="#24916f" stroke="#fff" stroke-opacity="0.45" stroke-width="1"/>
<rect x="1358.74" y="594.54" width="7.80" height="77.46" fill="#24916f" stroke="#fff" stroke-opacity="0.45" stroke-width="1"/>
<rect x="1366.55" y="603.14" width="7.80" height="68.86" fill="#24916f" stroke="#fff" stroke-opacity="0.45" stroke-width="1"/>
<rect x="1374.35" y="611.75" width="7.80" height="60.25" fill="#24916f" stroke="#fff" stroke-opacity="0.45" stroke-width="1"/>
<rect x="1382.16" y="577.32" width="7.80" height="94.68" fill="#24916f" stroke="#fff" stroke-opacity="0.45" stroke-width="1"/>
<rect x="1389.96" y="465.43" width="7.80" height="206.57" fill="#24916f" stroke="#fff" stroke-opacity="0.45" stroke-width="1"/>
<rect x="1397.76" y="534.29" width="7.80" height="137.71" fill="#24916f" stroke="#fff" stroke-opacity="0.45" stroke-width="1"/>
<rect x="1405.57" y="353.54" width="7.80" height="318.46" fill="#24916f" stroke="#fff" stroke-opacity="0.45" stroke-width="1"/>
<rect x="1413.37" y="422.40" width="7.80" height="249.60" fill="#24916f" stroke="#fff" stroke-opacity="0.45" stroke-width="1"/>
<rect x="1421.18" y="525.68" width="7.80" height="146.32" fill="#24916f" stroke="#fff" stroke-opacity="0.45" stroke-width="1"/>
<rect x="1428.98" y="560.11" width="7.80" height="111.89" fill="#24916f" stroke="#fff" stroke-opacity="0.45" stroke-width="1"/>
<rect x="1436.79" y="551.50" width="7.80" height="120.50" fill="#24916f" stroke="#fff" stroke-opacity="0.45" stroke-width="1"/>
<rect x="1444.59" y="585.93" width="7.80" height="86.07" fill="#24916f" stroke="#fff" stroke-opacity="0.45" stroke-width="1"/>
<rect x="1452.39" y="594.54" width="7.80" height="77.46" fill="#24916f" stroke="#fff" stroke-opacity="0.45" stroke-width="1"/>
<rect x="1460.20" y="551.50" width="7.80" height="120.50" fill="#24916f" stroke="#fff" stroke-opacity="0.45" stroke-width="1"/>
<rect x="1468.00" y="594.54" width="7.80" height="77.46" fill="#24916f" stroke="#fff" stroke-opacity="0.45" stroke-width="1"/>
<rect x="1475.81" y="577.32" width="7.80" height="94.68" fill="#24916f" stroke="#fff" stroke-opacity="0.45" stroke-width="1"/>
<rect x="1483.61" y="585.93" width="7.80" height="86.07" fill="#24916f" stroke="#fff" stroke-opacity="0.45" stroke-width="1"/>
<rect x="1491.41" y="611.75" width="7.80" height="60.25" fill="#24916f" stroke="#fff" stroke-opacity="0.45" stroke-width="1"/>
<rect x="1499.22" y="577.32" width="7.80" height="94.68" fill="#24916f" stroke="#fff" stroke-opacity="0.45" stroke-width="1"/>
<rect x="1507.02" y="611.75" width="7.80" height="60.25" fill="#24916f" stroke="#fff" stroke-opacity="0.45" stroke-width="1"/>
<rect x="1514.83" y="611.75" width="7.80" height="60.25" fill="#24916f" stroke="#fff" stroke-opacity="0.45" stroke-width="1"/>
<rect x="1522.63" y="387.97" width="7.80" height="284.03" fill="#24916f" stroke="#fff" stroke-opacity="0.45" stroke-width="1"/>
<rect x="1530.44" y="474.04" width="7.80" height="197.96" fill="#24916f" stroke="#fff" stroke-opacity="0.45" stroke-width="1"/>
<rect x="1538.24" y="362.15" width="7.80" height="309.85" fill="#24916f" stroke="#fff" stroke-opacity="0.45" stroke-width="1"/>
<rect x="1546.04" y="508.47" width="7.80" height="163.53" fill="#24916f" stroke="#fff" stroke-opacity="0.45" stroke-width="1"/>
<rect x="1553.85" y="482.65" width="7.80" height="189.35" fill="#24916f" stroke="#fff" stroke-opacity="0.45" stroke-width="1"/>
<rect x="1561.65" y="542.89" width="7.80" height="129.11" fill="#24916f" stroke="#fff" stroke-opacity="0.45" stroke-width="1"/>
<rect x="1569.46" y="577.32" width="7.80" height="94.68" fill="#24916f" stroke="#fff" stroke-opacity="0.45" stroke-width="1"/>
<rect x="1577.26" y="542.89" width="7.80" height="129.11" fill="#24916f" stroke="#fff" stroke-opacity="0.45" stroke-width="1"/>
<rect x="1585.06" y="611.75" width="7.80" height="60.25" fill="#24916f" stroke="#fff" stroke-opacity="0.45" stroke-width="1"/>
<rect x="1592.87" y="594.54" width="7.80" height="77.46" fill="#24916f" stroke="#fff" stroke-opacity="0.45" stroke-width="1"/>
<rect x="1600.67" y="551.50" width="7.80" height="120.50" fill="#24916f" stroke="#fff" stroke-opacity="0.45" stroke-width="1"/>
<rect x="1608.48" y="560.11" width="7.80" height="111.89" fill="#24916f" stroke="#fff" stroke-opacity="0.45" stroke-width="1"/>
<rect x="1616.28" y="560.11" width="7.80" height="111.89" fill="#24916f" stroke="#fff" stroke-opacity="0.45" stroke-width="1"/>
<rect x="1624.09" y="594.54" width="7.80" height="77.46" fill="#24916f" stroke="#fff" stroke-opacity="0.45" stroke-width="1"/>
<rect x="1631.89" y="611.75" width="7.80" height="60.25" fill="#24916f" stroke="#fff" stroke-opacity="0.45" stroke-width="1"/>
<rect x="1639.69" y="577.32" width="7.80" height="94.68" fill="#24916f" stroke="#fff" stroke-opacity="0.45" stroke-width="1"/>
<rect x="1647.50" y="611.75" width="7.80" height="60.25" fill="#24916f" stroke="#fff" stroke-opacity="0.45" stroke-width="1"/>
<rect x="1655.30" y="594.54" width="7.80" height="77.46" fill="#24916f" stroke="#fff" stroke-opacity="0.45" stroke-width="1"/>
<rect x="1663.11" y="585.93" width="7.80" height="86.07" fill="#24916f" stroke="#fff" stroke-opacity="0.45" stroke-width="1"/>
<line x1="152.5" y1="69.5" x2="152.5" y2="673.0" stroke="#5a5a5a" stroke-width="1.6"/>
<line x1="153.0" y1="673.5" x2="2400.6" y2="673.5" stroke="#6f6f6f" stroke-width="1"/>
<line x1="153.30" y1="674" x2="153.30" y2="683.8" stroke="#9a9a9a" stroke-width="1"/>
<line x1="246.95" y1="674" x2="246.95" y2="683.8" stroke="#9a9a9a" stroke-width="1"/>
<line x1="340.60" y1="674" x2="340.60" y2="683.8" stroke="#9a9a9a" stroke-width="1"/>
<line x1="434.25" y1="674" x2="434.25" y2="683.8" stroke="#9a9a9a" stroke-width="1"/>
<line x1="527.90" y1="674" x2="527.90" y2="683.8" stroke="#9a9a9a" stroke-width="1"/>
<line x1="621.55" y1="674" x2="621.55" y2="683.8" stroke="#9a9a9a" stroke-width="1"/>
<line x1="715.20" y1="674" x2="715.20" y2="683.8" stroke="#9a9a9a" stroke-width="1"/>
<line x1="808.85" y1="674" x2="808.85" y2="683.8" stroke="#9a9a9a" stroke-width="1"/>
<line x1="902.50" y1="674" x2="902.50" y2="683.8" stroke="#9a9a9a" stroke-width="1"/>
<line x1="996.15" y1="674" x2="996.15" y2="683.8" stroke="#9a9a9a" stroke-width="1"/>
<line x1="1089.80" y1="674" x2="1089.80" y2="683.8" stroke="#9a9a9a" stroke-width="1"/>
<line x1="1183.45" y1="674" x2="1183.45" y2="683.8" stroke="#9a9a9a" stroke-width="1"/>
<line x1="1277.10" y1="674" x2="1277.10" y2="683.8" stroke="#9a9a9a" stroke-width="1"/>
<line x1="1370.75" y1="674" x2="1370.75" y2="683.8" stroke="#9a9a9a" stroke-width="1"/>
<line x1="1464.40" y1="674" x2="1464.40" y2="683.8" stroke="#9a9a9a" stroke-width="1"/>
<line x1="1558.05" y1="674" x2="1558.05" y2="683.8" stroke="#9a9a9a" stroke-width="1"/>
<line x1="1651.70" y1="674" x2="1651.70" y2="683.8" stroke="#9a9a9a" stroke-width="1"/>
<line x1="1745.35" y1="674" x2="1745.35" y2="683.8" stroke="#9a9a9a" stroke-width="1"/>
<line x1="1839.00" y1="674" x2="1839.00" y2="683.8" stroke="#9a9a9a" stroke-width="1"/>
<line x1="1932.65" y1="674" x2="1932.65" y2="683.8" stroke="#9a9a9a" stroke-width="1"/>
<line x1="2026.30" y1="674" x2="2026.30" y2="683.8" stroke="#9a9a9a" stroke-width="1"/>
<line x1="2119.95" y1="674" x2="2119.95" y2="683.8" stroke="#9a9a9a" stroke-width="1"/>
<line x1="2213.60" y1="674" x2="2213.60" y2="683.8" stroke="#9a9a9a" stroke-width="1"/>
<line x1="2307.25" y1="674" x2="2307.25" y2="683.8" stroke="#9a9a9a" stroke-width="1"/>
<line x1="2400.90" y1="674" x2="2400.90" y2="683.8" stroke="#9a9a9a" stroke-width="1"/>
<text x="130.8" y="677.5" font-size="17.5" fill="#3c3c3c" text-anchor="end" font-weight="normal" textLength="10.4" lengthAdjust="spacingAndGlyphs" stroke="#3c3c3c" stroke-width="0.3">0</text>
<text x="130.8" y="591.4" font-size="17.5" fill="#3c3c3c" text-anchor="end" font-weight="normal" textLength="21.6" lengthAdjust="spacingAndGlyphs" stroke="#3c3c3c" stroke-width="0.3">10</text>
<text x="130.8" y="505.4" font-size="17.5" fill="#3c3c3c" text-anchor="end" font-weight="normal" textLength="21.6" lengthAdjust="spacingAndGlyphs" stroke="#3c3c3c" stroke-width="0.3">20</text>
<text x="130.8" y="419.3" font-size="17.5" fill="#3c3c3c" text-anchor="end" font-weight="normal" textLength="21.6" lengthAdjust="spacingAndGlyphs" stroke="#3c3c3c" stroke-width="0.3">30</text>
<text x="130.8" y="333.2" font-size="17.5" fill="#3c3c3c" text-anchor="end" font-weight="normal" textLength="21.6" lengthAdjust="spacingAndGlyphs" stroke="#3c3c3c" stroke-width="0.3">40</text>
<text x="130.8" y="247.2" font-size="17.5" fill="#3c3c3c" text-anchor="end" font-weight="normal" textLength="21.6" lengthAdjust="spacingAndGlyphs" stroke="#3c3c3c" stroke-width="0.3">50</text>
<text x="130.8" y="161.1" font-size="17.5" fill="#3c3c3c" text-anchor="end" font-weight="normal" textLength="21.6" lengthAdjust="spacingAndGlyphs" stroke="#3c3c3c" stroke-width="0.3">60</text>
<text x="130.8" y="75.0" font-size="17.5" fill="#3c3c3c" text-anchor="end" font-weight="normal" textLength="21.6" lengthAdjust="spacingAndGlyphs" stroke="#3c3c3c" stroke-width="0.3">70</text>
<text x="153.0" y="706.4" font-size="17.9" fill="#111" text-anchor="middle" font-weight="normal" textLength="21.2" lengthAdjust="spacingAndGlyphs" stroke="#111" stroke-width="0.5">0h</text>
<text x="246.6" y="706.4" font-size="17.9" fill="#111" text-anchor="middle" font-weight="normal" textLength="21.2" lengthAdjust="spacingAndGlyphs" stroke="#111" stroke-width="0.5">1h</text>
<text x="340.3" y="706.4" font-size="17.9" fill="#111" text-anchor="middle" font-weight="normal" textLength="21.2" lengthAdjust="spacingAndGlyphs" stroke="#111" stroke-width="0.5">2h</text>
<text x="433.9" y="706.4" font-size="17.9" fill="#111" text-anchor="middle" font-weight="normal" textLength="21.2" lengthAdjust="spacingAndGlyphs" stroke="#111" stroke-width="0.5">3h</text>
<text x="527.6" y="706.4" font-size="17.9" fill="#111" text-anchor="middle" font-weight="normal" textLength="21.2" lengthAdjust="spacingAndGlyphs" stroke="#111" stroke-width="0.5">4h</text>
<text x="621.2" y="706.4" font-size="17.9" fill="#111" text-anchor="middle" font-weight="normal" textLength="21.2" lengthAdjust="spacingAndGlyphs" stroke="#111" stroke-width="0.5">5h</text>
<text x="714.9" y="706.4" font-size="17.9" fill="#111" text-anchor="middle" font-weight="normal" textLength="21.2" lengthAdjust="spacingAndGlyphs" stroke="#111" stroke-width="0.5">6h</text>
<text x="808.5" y="706.4" font-size="17.9" fill="#111" text-anchor="middle" font-weight="normal" textLength="21.2" lengthAdjust="spacingAndGlyphs" stroke="#111" stroke-width="0.5">7h</text>
<text x="902.2" y="706.4" font-size="17.9" fill="#111" text-anchor="middle" font-weight="normal" textLength="21.2" lengthAdjust="spacingAndGlyphs" stroke="#111" stroke-width="0.5">8h</text>
<text x="995.8" y="706.4" font-size="17.9" fill="#111" text-anchor="middle" font-weight="normal" textLength="21.2" lengthAdjust="spacingAndGlyphs" stroke="#111" stroke-width="0.5">9h</text>
<text x="1089.5" y="706.4" font-size="17.9" fill="#111" text-anchor="middle" font-weight="normal" textLength="31.8" lengthAdjust="spacingAndGlyphs" stroke="#111" stroke-width="0.5">10h</text>
<text x="1183.1" y="706.4" font-size="17.9" fill="#111" text-anchor="middle" font-weight="normal" textLength="31.8" lengthAdjust="spacingAndGlyphs" stroke="#111" stroke-width="0.5">11h</text>
<text x="1276.8" y="706.4" font-size="17.9" fill="#111" text-anchor="middle" font-weight="normal" textLength="31.8" lengthAdjust="spacingAndGlyphs" stroke="#111" stroke-width="0.5">12h</text>
<text x="1370.4" y="706.4" font-size="17.9" fill="#111" text-anchor="middle" font-weight="normal" textLength="31.8" lengthAdjust="spacingAndGlyphs" stroke="#111" stroke-width="0.5">13h</text>
<text x="1464.1" y="706.4" font-size="17.9" fill="#111" text-anchor="middle" font-weight="normal" textLength="31.8" lengthAdjust="spacingAndGlyphs" stroke="#111" stroke-width="0.5">14h</text>
<text x="1557.7" y="706.4" font-size="17.9" fill="#111" text-anchor="middle" font-weight="normal" textLength="31.8" lengthAdjust="spacingAndGlyphs" stroke="#111" stroke-width="0.5">15h</text>
<text x="1651.4" y="706.4" font-size="17.9" fill="#111" text-anchor="middle" font-weight="normal" textLength="31.8" lengthAdjust="spacingAndGlyphs" stroke="#111" stroke-width="0.5">16h</text>
<text x="1745.0" y="706.4" font-size="17.9" fill="#111" text-anchor="middle" font-weight="normal" textLength="31.8" lengthAdjust="spacingAndGlyphs" stroke="#111" stroke-width="0.5">17h</text>
<text x="1838.7" y="706.4" font-size="17.9" fill="#111" text-anchor="middle" font-weight="normal" textLength="31.8" lengthAdjust="spacingAndGlyphs" stroke="#111" stroke-width="0.5">18h</text>
<text x="1932.3" y="706.4" font-size="17.9" fill="#111" text-anchor="middle" font-weight="normal" textLength="31.8" lengthAdjust="spacingAndGlyphs" stroke="#111" stroke-width="0.5">19h</text>
<text x="2026.0" y="706.4" font-size="17.9" fill="#111" text-anchor="middle" font-weight="normal" textLength="31.8" lengthAdjust="spacingAndGlyphs" stroke="#111" stroke-width="0.5">20h</text>
<text x="2119.6" y="706.4" font-size="17.9" fill="#111" text-anchor="middle" font-weight="normal" textLength="31.8" lengthAdjust="spacingAndGlyphs" stroke="#111" stroke-width="0.5">21h</text>
<text x="2213.3" y="706.4" font-size="17.9" fill="#111" text-anchor="middle" font-weight="normal" textLength="31.8" lengthAdjust="spacingAndGlyphs" stroke="#111" stroke-width="0.5">22h</text>
<text x="2306.9" y="706.4" font-size="17.9" fill="#111" text-anchor="middle" font-weight="normal" textLength="31.8" lengthAdjust="spacingAndGlyphs" stroke="#111" stroke-width="0.5">23h</text>
<text x="2400.6" y="706.4" font-size="17.9" fill="#111" text-anchor="middle" font-weight="normal" textLength="21.2" lengthAdjust="spacingAndGlyphs" stroke="#111" stroke-width="0.5">0h</text>
<text transform="translate(85.8,370.5) rotate(-90)" font-size="24" fill="#3c3c3c" text-anchor="middle" textLength="30" lengthAdjust="spacingAndGlyphs">kW</text>
<rect x="157.6" y="816.8" width="2260.3" height="505.7" fill="#000" opacity="0.55" filter="url(#psh2)" clip-path="url(#bclip)"/>
<rect x="155.6" y="814.8" width="2260.3" height="505.7" fill="#efefef"/>
<rect x="478.50" y="1208.12" width="322.90" height="56.19" fill="#fff"/>
<rect x="1124.30" y="1208.12" width="322.90" height="56.19" fill="#fff"/>
<rect x="1770.10" y="1208.12" width="322.90" height="56.19" fill="#fff"/>
<line x1="478.9" y1="1208.1" x2="478.9" y2="1264.3" stroke="#cfcfcf" stroke-width="1"/>
<line x1="801.8" y1="1208.1" x2="801.8" y2="1264.3" stroke="#cfcfcf" stroke-width="1"/>
<line x1="1124.7" y1="1208.1" x2="1124.7" y2="1264.3" stroke="#cfcfcf" stroke-width="1"/>
<line x1="1447.6" y1="1208.1" x2="1447.6" y2="1264.3" stroke="#cfcfcf" stroke-width="1"/>
<line x1="1770.5" y1="1208.1" x2="1770.5" y2="1264.3" stroke="#cfcfcf" stroke-width="1"/>
<line x1="2093.4" y1="1208.1" x2="2093.4" y2="1264.3" stroke="#cfcfcf" stroke-width="1"/>
<rect x="478.50" y="1095.74" width="322.90" height="56.19" fill="#fff"/>
<rect x="1124.30" y="1095.74" width="322.90" height="56.19" fill="#fff"/>
<rect x="1770.10" y="1095.74" width="322.90" height="56.19" fill="#fff"/>
<line x1="478.9" y1="1095.7" x2="478.9" y2="1151.9" stroke="#cfcfcf" stroke-width="1"/>
<line x1="801.8" y1="1095.7" x2="801.8" y2="1151.9" stroke="#cfcfcf" stroke-width="1"/>
<line x1="1124.7" y1="1095.7" x2="1124.7" y2="1151.9" stroke="#cfcfcf" stroke-width="1"/>
<line x1="1447.6" y1="1095.7" x2="1447.6" y2="1151.9" stroke="#cfcfcf" stroke-width="1"/>
<line x1="1770.5" y1="1095.7" x2="1770.5" y2="1151.9" stroke="#cfcfcf" stroke-width="1"/>
<line x1="2093.4" y1="1095.7" x2="2093.4" y2="1151.9" stroke="#cfcfcf" stroke-width="1"/>
<rect x="478.50" y="983.36" width="322.90" height="56.19" fill="#fff"/>
<rect x="1124.30" y="983.36" width="322.90" height="56.19" fill="#fff"/>
<rect x="1770.10" y="983.36" width="322.90" height="56.19" fill="#fff"/>
<line x1="478.9" y1="983.4" x2="478.9" y2="1039.5" stroke="#cfcfcf" stroke-width="1"/>
<line x1="801.8" y1="983.4" x2="801.8" y2="1039.5" stroke="#cfcfcf" stroke-width="1"/>
<line x1="1124.7" y1="983.4" x2="1124.7" y2="1039.5" stroke="#cfcfcf" stroke-width="1"/>
<line x1="1447.6" y1="983.4" x2="1447.6" y2="1039.5" stroke="#cfcfcf" stroke-width="1"/>
<line x1="1770.5" y1="983.4" x2="1770.5" y2="1039.5" stroke="#cfcfcf" stroke-width="1"/>
<line x1="2093.4" y1="983.4" x2="2093.4" y2="1039.5" stroke="#cfcfcf" stroke-width="1"/>
<rect x="478.50" y="870.98" width="322.90" height="56.19" fill="#fff"/>
<rect x="1124.30" y="870.98" width="322.90" height="56.19" fill="#fff"/>
<rect x="1770.10" y="870.98" width="322.90" height="56.19" fill="#fff"/>
<line x1="478.9" y1="871.0" x2="478.9" y2="927.2" stroke="#cfcfcf" stroke-width="1"/>
<line x1="801.8" y1="871.0" x2="801.8" y2="927.2" stroke="#cfcfcf" stroke-width="1"/>
<line x1="1124.7" y1="871.0" x2="1124.7" y2="927.2" stroke="#cfcfcf" stroke-width="1"/>
<line x1="1447.6" y1="871.0" x2="1447.6" y2="927.2" stroke="#cfcfcf" stroke-width="1"/>
<line x1="1770.5" y1="871.0" x2="1770.5" y2="927.2" stroke="#cfcfcf" stroke-width="1"/>
<line x1="2093.4" y1="871.0" x2="2093.4" y2="927.2" stroke="#cfcfcf" stroke-width="1"/>
<line x1="143.6" y1="1320.5" x2="2415.9" y2="1320.5" stroke="#c0c0c0" stroke-width="1"/>
<line x1="143.6" y1="1320.5" x2="155.6" y2="1320.5" stroke="#8a8a8a" stroke-width="1"/>
<line x1="143.6" y1="1264.5" x2="2415.9" y2="1264.5" stroke="#c0c0c0" stroke-width="1"/>
<line x1="143.6" y1="1264.5" x2="155.6" y2="1264.5" stroke="#8a8a8a" stroke-width="1"/>
<line x1="143.6" y1="1208.5" x2="2415.9" y2="1208.5" stroke="#c0c0c0" stroke-width="1"/>
<line x1="143.6" y1="1208.5" x2="155.6" y2="1208.5" stroke="#8a8a8a" stroke-width="1"/>
<line x1="143.6" y1="1152.5" x2="2415.9" y2="1152.5" stroke="#c0c0c0" stroke-width="1"/>
<line x1="143.6" y1="1152.5" x2="155.6" y2="1152.5" stroke="#8a8a8a" stroke-width="1"/>
<line x1="143.6" y1="1096.5" x2="2415.9" y2="1096.5" stroke="#c0c0c0" stroke-width="1"/>
<line x1="143.6" y1="1096.5" x2="155.6" y2="1096.5" stroke="#8a8a8a" stroke-width="1"/>
<line x1="143.6" y1="1039.5" x2="2415.9" y2="1039.5" stroke="#c0c0c0" stroke-width="1"/>
<line x1="143.6" y1="1039.5" x2="155.6" y2="1039.5" stroke="#8a8a8a" stroke-width="1"/>
<line x1="143.6" y1="983.5" x2="2415.9" y2="983.5" stroke="#c0c0c0" stroke-width="1"/>
<line x1="143.6" y1="983.5" x2="155.6" y2="983.5" stroke="#8a8a8a" stroke-width="1"/>
<line x1="143.6" y1="927.5" x2="2415.9" y2="927.5" stroke="#c0c0c0" stroke-width="1"/>
<line x1="143.6" y1="927.5" x2="155.6" y2="927.5" stroke="#8a8a8a" stroke-width="1"/>
<line x1="143.6" y1="871.5" x2="2415.9" y2="871.5" stroke="#c0c0c0" stroke-width="1"/>
<line x1="143.6" y1="871.5" x2="155.6" y2="871.5" stroke="#8a8a8a" stroke-width="1"/>
<line x1="143.6" y1="815.5" x2="2415.9" y2="815.5" stroke="#c0c0c0" stroke-width="1"/>
<line x1="143.6" y1="815.5" x2="155.6" y2="815.5" stroke="#8a8a8a" stroke-width="1"/>
<path d="M155.60 1320.5V1314.88H156.72V1320.5ZM156.72 1320.5V1314.88H157.84V1320.5ZM157.84 1320.5V1314.88H158.96V1320.5ZM158.96 1320.5V1314.88H160.08V1320.5ZM160.08 1320.5V1314.88H161.21V1320.5ZM161.21 1320.5V1314.88H162.33V1320.5ZM162.33 1320.5V1314.88H163.45V1320.5ZM163.45 1320.5V1314.88H164.57V1320.5ZM164.57 1320.5V1314.88H165.69V1320.5ZM165.69 1320.5V1314.88H166.81V1320.5ZM166.81 1320.5V1314.88H167.93V1320.5ZM167.93 1320.5V1314.88H169.05V1320.5ZM169.05 1320.5V1314.88H170.18V1320.5ZM170.18 1320.5V1314.88H171.30V1320.5ZM171.30 1320.5V1314.88H172.42V1320.5ZM172.42 1320.5V1314.88H173.54V1320.5ZM173.54 1320.5V1314.88H174.66V1320.5ZM174.66 1320.5V1314.88H175.78V1320.5ZM175.78 1320.5V1314.88H176.90V1320.5ZM176.90 1320.5V1314.88H178.02V1320.5ZM178.02 1320.5V1314.88H179.14V1320.5ZM179.14 1320.5V1314.88H180.27V1320.5ZM180.27 1320.5V1314.88H181.39V1320.5ZM181.39 1320.5V1314.88H182.51V1320.5ZM182.51 1320.5V1314.88H183.63V1320.5ZM183.63 1320.5V1314.88H184.75V1320.5ZM184.75 1320.5V1314.88H185.87V1320.5ZM185.87 1320.5V1314.88H186.99V1320.5ZM186.99 1320.5V1314.88H188.11V1320.5ZM188.11 1320.5V1314.88H189.24V1320.5ZM189.24 1320.5V1314.88H190.36V1320.5ZM190.36 1320.5V1314.88H191.48V1320.5ZM191.48 1320.5V1314.88H192.60V1320.5ZM192.60 1320.5V1314.88H193.72V1320.5ZM193.72 1320.5V1314.88H194.84V1320.5ZM194.84 1320.5V1314.88H195.96V1320.5ZM195.96 1320.5V1314.88H197.08V1320.5ZM197.08 1320.5V1314.88H198.20V1320.5ZM198.20 1320.5V1314.88H199.33V1320.5ZM199.33 1320.5V1314.88H200.45V1320.5ZM200.45 1320.5V1314.88H201.57V1320.5ZM201.57 1320.5V1314.88H202.69V1320.5ZM202.69 1320.5V1314.88H203.81V1320.5ZM203.81 1320.5V1314.88H204.93V1320.5ZM204.93 1320.5V1314.88H206.05V1320.5ZM206.05 1320.5V1314.88H207.17V1320.5ZM207.17 1320.5V1314.88H208.30V1320.5ZM208.30 1320.5V1314.88H209.42V1320.5ZM209.42 1320.5V1314.88H210.54V1320.5ZM210.54 1320.5V1314.88H211.66V1320.5ZM211.66 1320.5V1314.88H212.78V1320.5ZM212.78 1320.5V1314.88H213.90V1320.5ZM213.90 1320.5V1314.88H215.02V1320.5ZM215.02 1320.5V1314.88H216.14V1320.5ZM216.14 1320.5V1314.88H217.26V1320.5ZM217.26 1320.5V1314.88H218.39V1320.5ZM218.39 1320.5V1314.88H219.51V1320.5ZM219.51 1320.5V1314.88H220.63V1320.5ZM220.63 1320.5V1314.88H221.75V1320.5ZM221.75 1320.5V1314.88H222.87V1320.5ZM222.87 1320.5V1314.88H223.99V1320.5ZM223.99 1320.5V1314.88H225.11V1320.5ZM225.11 1320.5V1314.88H226.23V1320.5ZM226.23 1320.5V1314.88H227.36V1320.5ZM227.36 1320.5V1314.88H228.48V1320.5ZM228.48 1320.5V1314.88H229.60V1320.5ZM229.60 1320.5V1314.88H230.72V1320.5ZM230.72 1320.5V1314.88H231.84V1320.5ZM231.84 1320.5V1314.88H232.96V1320.5ZM232.96 1320.5V1314.88H234.08V1320.5ZM234.08 1320.5V1314.88H235.20V1320.5ZM235.20 1320.5V1314.88H236.32V1320.5ZM236.32 1320.5V1314.88H237.45V1320.5ZM237.45 1320.5V1314.88H237.60V1320.5ZM384.00 1320.5V1309.26H385.12V1320.5ZM385.12 1320.5V1309.26H386.24V1320.5ZM386.24 1320.5V1309.26H387.36V1320.5ZM387.36 1320.5V1309.26H387.60V1320.5ZM387.60 1320.5V1314.88H388.72V1320.5ZM388.72 1320.5V1314.88H389.84V1320.5ZM389.84 1320.5V1314.88H390.96V1320.5ZM390.96 1320.5V1314.88H392.08V1320.5ZM392.08 1320.5V1314.88H393.21V1320.5ZM393.21 1320.5V1314.88H394.33V1320.5ZM394.33 1320.5V1314.88H395.45V1320.5ZM395.45 1320.5V1314.88H396.57V1320.5ZM396.57 1320.5V1314.88H397.69V1320.5ZM397.69 1320.5V1314.88H398.81V1320.5ZM398.81 1320.5V1314.88H399.93V1320.5ZM399.93 1320.5V1314.88H401.05V1320.5ZM401.05 1320.5V1314.88H402.18V1320.5ZM402.18 1320.5V1314.88H403.30V1320.5ZM403.30 1320.5V1314.88H404.42V1320.5ZM404.42 1320.5V1314.88H405.54V1320.5ZM405.54 1320.5V1314.88H406.66V1320.5ZM406.66 1320.5V1314.88H407.78V1320.5ZM407.78 1320.5V1314.88H408.90V1320.5ZM408.90 1320.5V1314.88H410.02V1320.5ZM410.02 1320.5V1314.88H411.14V1320.5ZM411.14 1320.5V1314.88H412.27V1320.5ZM412.27 1320.5V1314.88H413.39V1320.5ZM413.39 1320.5V1314.88H414.51V1320.5ZM414.51 1320.5V1314.88H415.63V1320.5ZM415.63 1320.5V1314.88H416.75V1320.5ZM416.75 1320.5V1314.88H417.87V1320.5ZM417.87 1320.5V1314.88H418.99V1320.5ZM418.99 1320.5V1314.88H420.11V1320.5ZM420.11 1320.5V1314.88H421.24V1320.5ZM421.24 1320.5V1314.88H422.36V1320.5ZM422.36 1320.5V1314.88H423.48V1320.5ZM423.48 1320.5V1314.88H424.60V1320.5ZM424.60 1320.5V1314.88H425.72V1320.5ZM425.72 1320.5V1314.88H426.84V1320.5ZM426.84 1320.5V1314.88H427.96V1320.5ZM427.96 1320.5V1314.88H429.08V1320.5ZM429.08 1320.5V1314.88H430.20V1320.5ZM430.20 1320.5V1314.88H431.33V1320.5ZM431.33 1320.5V1314.88H432.45V1320.5ZM432.45 1320.5V1314.88H433.57V1320.5ZM433.57 1320.5V1314.88H434.69V1320.5ZM434.69 1320.5V1314.88H435.81V1320.5ZM435.81 1320.5V1314.88H436.93V1320.5ZM436.93 1320.5V1314.88H438.05V1320.5ZM438.05 1320.5V1314.88H439.17V1320.5ZM439.17 1320.5V1314.88H440.30V1320.5ZM440.30 1320.5V1314.88H441.42V1320.5ZM441.42 1320.5V1314.88H442.54V1320.5ZM442.54 1320.5V1314.88H443.66V1320.5ZM443.66 1320.5V1314.88H444.78V1320.5ZM444.78 1320.5V1314.88H445.90V1320.5ZM445.90 1320.5V1314.88H447.02V1320.5ZM447.02 1320.5V1314.88H448.14V1320.5ZM448.14 1320.5V1314.88H449.26V1320.5ZM449.26 1320.5V1314.88H450.39V1320.5ZM450.39 1320.5V1314.88H451.51V1320.5ZM451.51 1320.5V1314.88H452.63V1320.5ZM452.63 1320.5V1314.88H453.75V1320.5ZM453.75 1320.5V1314.88H454.87V1320.5ZM454.87 1320.5V1314.88H455.99V1320.5ZM455.99 1320.5V1314.88H457.11V1320.5ZM457.11 1320.5V1314.88H458.23V1320.5ZM458.23 1320.5V1314.88H459.36V1320.5ZM459.36 1320.5V1314.88H460.48V1320.5ZM460.48 1320.5V1314.88H461.60V1320.5ZM461.60 1320.5V1314.88H462.72V1320.5ZM462.72 1320.5V1314.88H463.84V1320.5ZM463.84 1320.5V1314.88H464.70V1320.5ZM464.70 1320.5V1309.26H465.82V1320.5ZM465.82 1320.5V1309.26H466.94V1320.5ZM466.94 1320.5V1309.26H468.06V1320.5ZM468.06 1320.5V1314.88H469.18V1320.5ZM469.18 1320.5V1309.26H470.31V1320.5ZM470.31 1320.5V1309.26H471.43V1320.5ZM471.43 1320.5V1314.88H472.55V1320.5ZM472.55 1320.5V1309.26H473.67V1320.5ZM473.67 1320.5V1309.26H474.79V1320.5ZM474.79 1320.5V1309.26H475.91V1320.5ZM475.91 1320.5V1309.26H477.03V1320.5ZM477.03 1320.5V1309.26H478.15V1320.5ZM478.15 1320.5V1314.88H479.28V1320.5ZM479.28 1320.5V1314.88H480.40V1320.5ZM480.40 1320.5V1314.88H481.52V1320.5ZM481.52 1320.5V1309.26H482.64V1320.5ZM482.64 1320.5V1309.26H483.76V1320.5ZM483.76 1320.5V1309.26H484.88V1320.5ZM484.88 1320.5V1314.88H486.00V1320.5ZM486.00 1320.5V1309.26H487.12V1320.5ZM487.12 1320.5V1314.88H488.24V1320.5ZM488.24 1320.5V1309.26H489.37V1320.5ZM489.37 1320.5V1309.26H490.49V1320.5ZM490.49 1320.5V1314.88H491.61V1320.5ZM491.61 1320.5V1314.88H492.73V1320.5ZM492.73 1320.5V1314.88H493.85V1320.5ZM493.85 1320.5V1314.88H494.97V1320.5ZM494.97 1320.5V1314.88H496.09V1320.5ZM496.09 1320.5V1314.88H497.21V1320.5ZM497.21 1320.5V1309.26H498.34V1320.5ZM498.34 1320.5V1309.26H499.46V1320.5ZM499.46 1320.5V1309.26H500.58V1320.5ZM500.58 1320.5V1309.26H501.70V1320.5ZM501.70 1320.5V1309.26H502.82V1320.5ZM502.82 1320.5V1309.26H503.94V1320.5ZM503.94 1320.5V1309.26H505.06V1320.5ZM505.06 1320.5V1314.88H506.18V1320.5ZM506.18 1320.5V1314.88H507.30V1320.5ZM507.30 1320.5V1309.26H508.43V1320.5ZM508.43 1320.5V1314.88H509.55V1320.5ZM509.55 1320.5V1314.88H510.67V1320.5ZM510.67 1320.5V1314.88H511.79V1320.5ZM511.79 1320.5V1309.26H512.91V1320.5ZM512.91 1320.5V1309.26H514.03V1320.5ZM514.03 1320.5V1309.26H515.15V1320.5ZM515.15 1320.5V1309.26H516.27V1320.5ZM516.27 1320.5V1309.26H517.40V1320.5ZM517.40 1320.5V1314.88H518.52V1320.5ZM518.52 1320.5V1314.88H519.64V1320.5ZM519.64 1320.5V1314.88H520.76V1320.5ZM520.76 1320.5V1309.26H521.88V1320.5ZM521.88 1320.5V1314.88H523.00V1320.5ZM523.00 1320.5V1314.88H524.12V1320.5ZM524.12 1320.5V1309.26H525.24V1320.5ZM525.24 1320.5V1314.88H526.36V1320.5ZM526.36 1320.5V1314.88H527.49V1320.5ZM527.49 1320.5V1314.88H528.61V1320.5ZM528.61 1320.5V1314.88H529.73V1320.5ZM529.73 1320.5V1309.26H530.85V1320.5ZM530.85 1320.5V1309.26H531.97V1320.5ZM531.97 1320.5V1314.88H533.09V1320.5ZM533.09 1320.5V1309.26H534.21V1320.5ZM534.21 1320.5V1314.88H535.33V1320.5ZM535.33 1320.5V1314.88H536.46V1320.5ZM536.46 1320.5V1309.26H537.58V1320.5ZM537.58 1320.5V1309.26H538.70V1320.5ZM538.70 1320.5V1314.88H539.82V1320.5ZM539.82 1320.5V1314.88H540.94V1320.5ZM540.94 1320.5V1309.26H542.06V1320.5ZM542.06 1320.5V1309.26H543.18V1320.5ZM543.18 1320.5V1309.26H544.30V1320.5ZM544.30 1320.5V1314.88H545.43V1320.5ZM545.43 1320.5V1314.88H546.55V1320.5ZM546.55 1320.5V1309.26H547.67V1320.5ZM547.67 1320.5V1314.88H548.79V1320.5ZM548.79 1320.5V1314.88H549.91V1320.5ZM549.91 1320.5V1314.88H551.03V1320.5ZM551.03 1320.5V1309.26H552.15V1320.5ZM552.15 1320.5V1309.26H553.27V1320.5ZM553.27 1320.5V1309.26H554.39V1320.5ZM554.39 1320.5V1309.26H555.52V1320.5ZM555.52 1320.5V1314.88H556.64V1320.5ZM556.64 1320.5V1314.88H557.76V1320.5ZM557.76 1320.5V1309.26H558.88V1320.5ZM558.88 1320.5V1314.88H560.00V1320.5ZM560.00 1320.5V1309.26H561.12V1320.5ZM561.12 1320.5V1314.88H562.24V1320.5ZM562.24 1320.5V1314.88H563.36V1320.5ZM563.36 1320.5V1309.26H564.49V1320.5ZM564.49 1320.5V1309.26H565.61V1320.5ZM565.61 1320.5V1309.26H566.73V1320.5ZM566.73 1320.5V1309.26H567.85V1320.5ZM567.85 1320.5V1309.26H568.97V1320.5ZM568.97 1320.5V1309.26H570.09V1320.5ZM570.09 1320.5V1309.26H571.21V1320.5ZM571.21 1320.5V1309.26H572.33V1320.5ZM572.33 1320.5V1314.88H573.45V1320.5ZM573.45 1320.5V1309.26H574.58V1320.5ZM574.58 1320.5V1309.26H575.70V1320.5ZM575.70 1320.5V1309.26H576.82V1320.5ZM576.82 1320.5V1314.88H577.94V1320.5ZM577.94 1320.5V1309.26H579.06V1320.5ZM579.06 1320.5V1314.88H580.18V1320.5ZM580.18 1320.5V1309.26H581.30V1320.5ZM581.30 1320.5V1309.26H582.42V1320.5ZM582.42 1320.5V1309.26H583.55V1320.5ZM583.55 1320.5V1309.26H584.67V1320.5ZM584.67 1320.5V1309.26H585.79V1320.5ZM585.79 1320.5V1309.26H586.91V1320.5ZM586.91 1320.5V1309.26H588.03V1320.5ZM588.03 1320.5V1314.88H589.15V1320.5ZM589.15 1320.5V1309.26H590.27V1320.5ZM590.27 1320.5V1309.26H591.39V1320.5ZM591.39 1320.5V1314.88H592.51V1320.5ZM592.51 1320.5V1309.26H593.64V1320.5ZM593.64 1320.5V1309.26H594.76V1320.5ZM594.76 1320.5V1309.26H595.88V1320.5ZM595.88 1320.5V1309.26H597.00V1320.5ZM597.00 1320.5V1314.88H598.12V1320.5ZM598.12 1320.5V1309.26H599.24V1320.5ZM599.24 1320.5V1309.26H600.36V1320.5ZM600.36 1320.5V1309.26H601.48V1320.5ZM601.48 1320.5V1309.26H602.61V1320.5ZM602.61 1320.5V1314.88H603.73V1320.5ZM603.73 1320.5V1309.26H604.85V1320.5ZM604.85 1320.5V1309.26H605.97V1320.5ZM605.97 1320.5V1314.88H607.09V1320.5ZM607.09 1320.5V1314.88H608.21V1320.5ZM608.21 1320.5V1309.26H609.33V1320.5ZM609.33 1320.5V1314.88H610.45V1320.5ZM610.45 1320.5V1309.26H611.57V1320.5ZM611.57 1320.5V1309.26H612.70V1320.5ZM612.70 1320.5V1314.88H613.82V1320.5ZM613.82 1320.5V1309.26H614.94V1320.5ZM614.94 1320.5V1309.26H615.10V1320.5ZM615.10 1320.5V1314.88H616.22V1320.5ZM616.22 1320.5V1314.88H617.34V1320.5ZM617.34 1320.5V1314.88H618.46V1320.5ZM618.46 1320.5V1314.88H619.58V1320.5ZM619.58 1320.5V1314.88H620.71V1320.5ZM620.71 1320.5V1314.88H621.83V1320.5ZM621.83 1320.5V1314.88H622.95V1320.5ZM622.95 1320.5V1314.88H624.07V1320.5ZM624.07 1320.5V1314.88H625.19V1320.5ZM625.19 1320.5V1314.88H626.31V1320.5ZM626.31 1320.5V1314.88H627.43V1320.5ZM627.43 1320.5V1314.88H628.55V1320.5ZM628.55 1320.5V1314.88H629.68V1320.5ZM629.68 1320.5V1314.88H630.80V1320.5ZM630.80 1320.5V1314.88H631.92V1320.5ZM631.92 1320.5V1314.88H633.04V1320.5ZM633.04 1320.5V1314.88H634.16V1320.5ZM634.16 1320.5V1314.88H635.28V1320.5ZM635.28 1320.5V1314.88H636.40V1320.5ZM636.40 1320.5V1314.88H637.52V1320.5ZM637.52 1320.5V1314.88H638.64V1320.5ZM638.64 1320.5V1314.88H639.77V1320.5ZM639.77 1320.5V1314.88H640.89V1320.5ZM640.89 1320.5V1314.88H642.01V1320.5ZM642.01 1320.5V1314.88H643.13V1320.5ZM643.13 1320.5V1314.88H644.25V1320.5ZM644.25 1320.5V1314.88H645.37V1320.5ZM645.37 1320.5V1314.88H646.49V1320.5ZM646.49 1320.5V1314.88H647.61V1320.5ZM647.61 1320.5V1314.88H648.74V1320.5ZM648.74 1320.5V1314.88H649.86V1320.5ZM649.86 1320.5V1314.88H650.98V1320.5ZM650.98 1320.5V1314.88H652.10V1320.5ZM652.10 1320.5V1314.88H653.22V1320.5ZM653.22 1320.5V1314.88H654.34V1320.5ZM654.34 1320.5V1314.88H655.46V1320.5ZM655.46 1320.5V1314.88H656.58V1320.5ZM656.58 1320.5V1314.88H657.70V1320.5ZM657.70 1320.5V1314.88H658.83V1320.5ZM658.83 1320.5V1314.88H659.95V1320.5ZM659.95 1320.5V1314.88H661.07V1320.5ZM661.07 1320.5V1314.88H662.19V1320.5ZM662.19 1320.5V1314.88H663.31V1320.5ZM663.31 1320.5V1314.88H664.43V1320.5ZM664.43 1320.5V1314.88H665.55V1320.5ZM665.55 1320.5V1314.88H666.67V1320.5ZM666.67 1320.5V1314.88H667.80V1320.5ZM667.80 1320.5V1314.88H668.92V1320.5ZM668.92 1320.5V1314.88H670.04V1320.5ZM670.04 1320.5V1314.88H671.16V1320.5ZM671.16 1320.5V1314.88H672.28V1320.5ZM672.28 1320.5V1314.88H673.40V1320.5ZM673.40 1320.5V1314.88H674.52V1320.5ZM674.52 1320.5V1314.88H675.64V1320.5ZM675.64 1320.5V1314.88H676.76V1320.5ZM676.76 1320.5V1314.88H677.89V1320.5ZM677.89 1320.5V1314.88H679.01V1320.5ZM679.01 1320.5V1314.88H680.13V1320.5ZM680.13 1320.5V1314.88H681.25V1320.5ZM681.25 1320.5V1314.88H682.37V1320.5ZM682.37 1320.5V1314.88H683.49V1320.5ZM683.49 1320.5V1314.88H684.61V1320.5ZM684.61 1320.5V1314.88H685.73V1320.5ZM685.73 1320.5V1314.88H686.86V1320.5ZM686.86 1320.5V1314.88H687.98V1320.5ZM687.98 1320.5V1314.88H689.10V1320.5ZM689.10 1320.5V1314.88H690.22V1320.5ZM690.22 1320.5V1314.88H691.34V1320.5ZM691.34 1320.5V1314.88H692.46V1320.5ZM692.46 1320.5V1314.88H693.58V1320.5ZM693.58 1320.5V1314.88H694.70V1320.5ZM694.70 1320.5V1314.88H695.83V1320.5ZM695.83 1320.5V1314.88H696.95V1320.5ZM696.95 1320.5V1314.88H698.07V1320.5ZM698.07 1320.5V1314.88H699.19V1320.5ZM699.19 1320.5V1314.88H700.31V1320.5ZM700.31 1320.5V1314.88H701.43V1320.5ZM701.43 1320.5V1314.88H702.55V1320.5ZM702.55 1320.5V1314.88H703.67V1320.5ZM703.67 1320.5V1314.88H704.79V1320.5ZM704.79 1320.5V1314.88H705.92V1320.5ZM705.92 1320.5V1314.88H707.04V1320.5ZM707.04 1320.5V1314.88H708.16V1320.5ZM708.16 1320.5V1314.88H709.28V1320.5ZM709.28 1320.5V1314.88H710.40V1320.5ZM710.40 1320.5V1314.88H711.52V1320.5ZM711.52 1320.5V1314.88H712.64V1320.5ZM712.64 1320.5V1314.88H713.76V1320.5ZM713.76 1320.5V1314.88H714.89V1320.5ZM714.89 1320.5V1314.88H716.01V1320.5ZM716.01 1320.5V1314.88H717.13V1320.5ZM717.13 1320.5V1314.88H718.25V1320.5ZM718.25 1320.5V1314.88H719.37V1320.5ZM719.37 1320.5V1314.88H720.49V1320.5ZM720.49 1320.5V1314.88H721.61V1320.5ZM721.61 1320.5V1314.88H722.73V1320.5ZM722.73 1320.5V1314.88H723.85V1320.5ZM723.85 1320.5V1314.88H724.98V1320.5ZM724.98 1320.5V1314.88H726.10V1320.5ZM726.10 1320.5V1314.88H727.22V1320.5ZM727.22 1320.5V1314.88H728.34V1320.5ZM728.34 1320.5V1314.88H729.46V1320.5ZM729.46 1320.5V1314.88H730.58V1320.5ZM730.58 1320.5V1314.88H731.70V1320.5ZM731.70 1320.5V1314.88H732.82V1320.5ZM732.82 1320.5V1314.88H732.90V1320.5ZM732.90 1320.5V1309.26H734.02V1320.5ZM734.02 1320.5V1309.26H735.14V1320.5ZM735.14 1320.5V1314.88H736.26V1320.5ZM736.26 1320.5V1314.88H737.38V1320.5ZM737.38 1320.5V1309.26H738.51V1320.5ZM738.51 1320.5V1314.88H739.63V1320.5ZM739.63 1320.5V1314.88H740.75V1320.5ZM740.75 1320.5V1314.88H741.87V1320.5ZM741.87 1320.5V1309.26H742.99V1320.5ZM742.99 1320.5V1309.26H744.11V1320.5ZM744.11 1320.5V1309.26H745.23V1320.5ZM745.23 1320.5V1309.26H746.35V1320.5ZM746.35 1320.5V1309.26H747.48V1320.5ZM747.48 1320.5V1314.88H748.60V1320.5ZM748.60 1320.5V1309.26H749.72V1320.5ZM749.72 1320.5V1309.26H750.84V1320.5ZM750.84 1320.5V1309.26H751.96V1320.5ZM751.96 1320.5V1314.88H753.08V1320.5ZM753.08 1320.5V1314.88H754.20V1320.5ZM754.20 1320.5V1314.88H755.32V1320.5ZM755.32 1320.5V1309.26H756.44V1320.5ZM756.44 1320.5V1309.26H757.57V1320.5ZM757.57 1320.5V1309.26H758.69V1320.5ZM758.69 1320.5V1309.26H759.81V1320.5ZM759.81 1320.5V1309.26H760.93V1320.5ZM760.93 1320.5V1309.26H762.05V1320.5ZM762.05 1320.5V1309.26H763.17V1320.5ZM763.17 1320.5V1314.88H764.29V1320.5ZM764.29 1320.5V1314.88H765.41V1320.5ZM765.41 1320.5V1309.26H766.54V1320.5ZM766.54 1320.5V1309.26H767.66V1320.5ZM767.66 1320.5V1314.88H768.78V1320.5ZM768.78 1320.5V1309.26H769.90V1320.5ZM769.90 1320.5V1309.26H771.02V1320.5ZM771.02 1320.5V1309.26H772.14V1320.5ZM772.14 1320.5V1309.26H773.26V1320.5ZM773.26 1320.5V1309.26H774.00V1320.5ZM774.00 1320.5V1309.26H775.12V1320.5ZM775.12 1320.5V1303.64H776.24V1320.5ZM776.24 1320.5V1309.26H777.36V1320.5ZM777.36 1320.5V1303.64H778.48V1320.5ZM778.48 1320.5V1303.64H779.61V1320.5ZM779.61 1320.5V1303.64H780.73V1320.5ZM780.73 1320.5V1309.26H781.85V1320.5ZM781.85 1320.5V1303.64H782.97V1320.5ZM782.97 1320.5V1303.64H783.60V1320.5ZM783.60 1320.5V1303.64H784.72V1320.5ZM784.72 1320.5V1303.64H785.84V1320.5ZM785.84 1320.5V1303.64H786.96V1320.5ZM786.96 1320.5V1303.64H788.08V1320.5ZM788.08 1320.5V1303.64H789.21V1320.5ZM789.21 1320.5V1303.64H790.33V1320.5ZM790.33 1320.5V1303.64H791.45V1320.5ZM791.45 1320.5V1309.26H792.57V1320.5ZM792.57 1320.5V1303.64H793.69V1320.5ZM793.69 1320.5V1303.64H794.81V1320.5ZM794.81 1320.5V1309.26H795.93V1320.5ZM795.93 1320.5V1303.64H797.05V1320.5ZM797.05 1320.5V1303.64H798.18V1320.5ZM798.18 1320.5V1303.64H799.30V1320.5ZM799.30 1320.5V1303.64H800.42V1320.5ZM800.42 1320.5V1303.64H801.54V1320.5ZM801.54 1320.5V1309.26H802.66V1320.5ZM802.66 1320.5V1303.64H803.78V1320.5ZM803.78 1320.5V1303.64H804.90V1320.5ZM804.90 1320.5V1303.64H806.02V1320.5ZM806.02 1320.5V1303.64H807.14V1320.5ZM807.14 1320.5V1303.64H808.27V1320.5ZM808.27 1320.5V1303.64H809.39V1320.5ZM809.39 1320.5V1303.64H810.51V1320.5ZM810.51 1320.5V1303.64H811.63V1320.5ZM811.63 1320.5V1303.64H812.75V1320.5ZM812.75 1320.5V1303.64H813.87V1320.5ZM813.87 1320.5V1309.26H814.99V1320.5ZM814.99 1320.5V1303.64H816.11V1320.5ZM816.11 1320.5V1303.64H817.24V1320.5ZM817.24 1320.5V1303.64H818.36V1320.5ZM818.36 1320.5V1303.64H819.48V1320.5ZM819.48 1320.5V1303.64H820.60V1320.5ZM820.60 1320.5V1303.64H821.72V1320.5ZM821.72 1320.5V1303.64H822.84V1320.5ZM822.84 1320.5V1303.64H823.96V1320.5ZM823.96 1320.5V1303.64H825.08V1320.5ZM825.08 1320.5V1303.64H826.20V1320.5ZM826.20 1320.5V1303.64H827.33V1320.5ZM827.33 1320.5V1303.64H828.45V1320.5ZM828.45 1320.5V1303.64H829.57V1320.5ZM829.57 1320.5V1303.64H830.69V1320.5ZM830.69 1320.5V1303.64H831.81V1320.5ZM831.81 1320.5V1303.64H832.93V1320.5ZM832.93 1320.5V1303.64H834.05V1320.5ZM834.05 1320.5V1303.64H835.17V1320.5ZM835.17 1320.5V1303.64H836.30V1320.5ZM836.30 1320.5V1303.64H837.42V1320.5ZM837.42 1320.5V1303.64H838.54V1320.5ZM838.54 1320.5V1303.64H839.66V1320.5ZM839.66 1320.5V1303.64H840.78V1320.5ZM840.78 1320.5V1303.64H841.90V1320.5ZM841.90 1320.5V1303.64H843.02V1320.5ZM843.02 1320.5V1303.64H844.14V1320.5ZM844.14 1320.5V1303.64H845.26V1320.5ZM845.26 1320.5V1309.26H846.39V1320.5ZM846.39 1320.5V1303.64H847.51V1320.5ZM847.51 1320.5V1303.64H848.63V1320.5ZM848.63 1320.5V1303.64H849.75V1320.5ZM849.75 1320.5V1303.64H850.87V1320.5ZM850.87 1320.5V1303.64H851.99V1320.5ZM851.99 1320.5V1303.64H853.11V1320.5ZM853.11 1320.5V1303.64H854.23V1320.5ZM854.23 1320.5V1303.64H855.36V1320.5ZM855.36 1320.5V1303.64H856.48V1320.5ZM856.48 1320.5V1303.64H857.60V1320.5ZM857.60 1320.5V1303.64H858.72V1320.5ZM858.72 1320.5V1303.64H859.84V1320.5ZM859.84 1320.5V1303.64H860.96V1320.5ZM860.96 1320.5V1303.64H862.08V1320.5ZM862.08 1320.5V1303.64H863.20V1320.5ZM863.20 1320.5V1303.64H864.33V1320.5ZM864.33 1320.5V1303.64H865.45V1320.5ZM865.45 1320.5V1303.64H866.57V1320.5ZM866.57 1320.5V1303.64H867.69V1320.5ZM867.69 1320.5V1303.64H868.81V1320.5ZM868.81 1320.5V1303.64H869.93V1320.5ZM869.93 1320.5V1303.64H871.05V1320.5ZM871.05 1320.5V1303.64H872.17V1320.5ZM872.17 1320.5V1303.64H873.29V1320.5ZM873.29 1320.5V1309.26H874.42V1320.5ZM874.42 1320.5V1303.64H875.54V1320.5ZM875.54 1320.5V1309.26H876.66V1320.5ZM876.66 1320.5V1309.26H877.78V1320.5ZM877.78 1320.5V1303.64H878.90V1320.5ZM878.90 1320.5V1303.64H880.02V1320.5ZM880.02 1320.5V1303.64H881.14V1320.5ZM881.14 1320.5V1309.26H882.26V1320.5ZM882.26 1320.5V1303.64H883.39V1320.5ZM883.39 1320.5V1303.64H884.51V1320.5ZM884.51 1320.5V1303.64H885.63V1320.5ZM885.63 1320.5V1309.26H886.75V1320.5ZM886.75 1320.5V1303.64H887.87V1320.5ZM887.87 1320.5V1303.64H888.99V1320.5ZM888.99 1320.5V1303.64H890.11V1320.5ZM890.11 1320.5V1303.64H891.23V1320.5ZM891.23 1320.5V1309.26H892.35V1320.5ZM892.35 1320.5V1303.64H893.48V1320.5ZM893.48 1320.5V1303.64H894.60V1320.5ZM894.60 1320.5V1303.64H895.72V1320.5ZM895.72 1320.5V1309.26H896.84V1320.5ZM896.84 1320.5V1303.64H897.96V1320.5ZM897.96 1320.5V1303.64H899.08V1320.5ZM899.08 1320.5V1309.26H900.20V1320.5ZM900.20 1320.5V1303.64H901.32V1320.5ZM901.32 1320.5V1303.64H902.45V1320.5ZM902.45 1320.5V1303.64H903.57V1320.5ZM903.57 1320.5V1303.64H904.69V1320.5ZM904.69 1320.5V1303.64H905.81V1320.5ZM905.81 1320.5V1303.64H906.93V1320.5ZM906.93 1320.5V1303.64H908.05V1320.5ZM908.05 1320.5V1303.64H909.17V1320.5ZM909.17 1320.5V1303.64H910.29V1320.5ZM910.29 1320.5V1303.64H911.41V1320.5ZM911.41 1320.5V1303.64H912.54V1320.5ZM912.54 1320.5V1303.64H913.66V1320.5ZM913.66 1320.5V1303.64H914.78V1320.5ZM914.78 1320.5V1303.64H915.90V1320.5ZM915.90 1320.5V1309.26H917.02V1320.5ZM917.02 1320.5V1303.64H918.14V1320.5ZM918.14 1320.5V1309.26H919.26V1320.5ZM919.26 1320.5V1303.64H920.38V1320.5ZM920.38 1320.5V1303.64H921.51V1320.5ZM921.51 1320.5V1303.64H922.63V1320.5ZM922.63 1320.5V1309.26H923.75V1320.5ZM923.75 1320.5V1303.64H924.87V1320.5ZM924.87 1320.5V1303.64H925.99V1320.5ZM925.99 1320.5V1303.64H927.11V1320.5ZM927.11 1320.5V1303.64H928.23V1320.5ZM928.23 1320.5V1303.64H929.35V1320.5ZM929.35 1320.5V1303.64H930.47V1320.5ZM930.47 1320.5V1303.64H931.60V1320.5ZM931.60 1320.5V1303.64H932.72V1320.5ZM932.72 1320.5V1309.26H933.84V1320.5ZM933.84 1320.5V1303.64H934.96V1320.5ZM934.96 1320.5V1303.64H936.08V1320.5ZM936.08 1320.5V1303.64H937.20V1320.5ZM937.20 1320.5V1303.64H938.32V1320.5ZM938.32 1320.5V1303.64H939.44V1320.5ZM939.44 1320.5V1309.26H940.57V1320.5ZM940.57 1320.5V1309.26H941.30V1320.5ZM941.30 1320.5V1309.26H942.42V1320.5ZM942.42 1320.5V1309.26H943.54V1320.5ZM943.54 1320.5V1309.26H944.66V1320.5ZM944.66 1320.5V1309.26H945.78V1320.5ZM945.78 1320.5V1309.26H946.91V1320.5ZM946.91 1320.5V1309.26H948.03V1320.5ZM948.03 1320.5V1309.26H949.15V1320.5ZM949.15 1320.5V1309.26H950.27V1320.5ZM950.27 1320.5V1309.26H951.39V1320.5ZM951.39 1320.5V1309.26H952.51V1320.5ZM952.51 1320.5V1309.26H953.63V1320.5ZM953.63 1320.5V1309.26H954.75V1320.5ZM954.75 1320.5V1309.26H955.88V1320.5ZM955.88 1320.5V1309.26H957.00V1320.5ZM957.00 1320.5V1309.26H958.12V1320.5ZM958.12 1320.5V1309.26H959.24V1320.5ZM959.24 1320.5V1309.26H960.36V1320.5ZM960.36 1320.5V1309.26H960.40V1320.5ZM960.40 1320.5V1309.26H961.52V1320.5ZM961.52 1320.5V1314.88H962.64V1320.5ZM962.64 1320.5V1309.26H963.76V1320.5ZM963.76 1320.5V1309.26H964.88V1320.5ZM964.88 1320.5V1309.26H966.01V1320.5ZM966.01 1320.5V1309.26H967.13V1320.5ZM967.13 1320.5V1309.26H968.25V1320.5ZM968.25 1320.5V1309.26H969.37V1320.5ZM969.37 1320.5V1309.26H970.49V1320.5ZM970.49 1320.5V1309.26H971.61V1320.5ZM971.61 1320.5V1314.88H972.73V1320.5ZM972.73 1320.5V1309.26H973.85V1320.5ZM973.85 1320.5V1309.26H974.98V1320.5ZM974.98 1320.5V1314.88H976.10V1320.5ZM976.10 1320.5V1314.88H977.22V1320.5ZM977.22 1320.5V1309.26H978.34V1320.5ZM978.34 1320.5V1309.26H979.46V1320.5ZM979.46 1320.5V1309.26H980.58V1320.5ZM980.58 1320.5V1309.26H981.70V1320.5ZM981.70 1320.5V1309.26H982.82V1320.5ZM982.82 1320.5V1309.26H983.94V1320.5ZM983.94 1320.5V1309.26H985.07V1320.5ZM985.07 1320.5V1309.26H986.19V1320.5ZM986.19 1320.5V1309.26H987.31V1320.5ZM987.31 1320.5V1314.88H988.43V1320.5ZM988.43 1320.5V1309.26H989.55V1320.5ZM989.55 1320.5V1309.26H990.67V1320.5ZM990.67 1320.5V1309.26H991.79V1320.5ZM991.79 1320.5V1309.26H992.91V1320.5ZM992.91 1320.5V1309.26H994.04V1320.5ZM994.04 1320.5V1309.26H995.16V1320.5ZM995.16 1320.5V1309.26H996.28V1320.5ZM996.28 1320.5V1309.26H997.40V1320.5ZM997.40 1320.5V1314.88H998.52V1320.5ZM998.52 1320.5V1309.26H999.64V1320.5ZM999.64 1320.5V1309.26H1000.76V1320.5ZM1000.76 1320.5V1309.26H1001.88V1320.5ZM1001.88 1320.5V1314.88H1003.00V1320.5ZM1003.00 1320.5V1309.26H1004.13V1320.5ZM1004.13 1320.5V1309.26H1005.25V1320.5ZM1005.25 1320.5V1309.26H1006.37V1320.5ZM1006.37 1320.5V1309.26H1007.49V1320.5ZM1007.49 1320.5V1309.26H1008.61V1320.5ZM1008.61 1320.5V1314.88H1009.73V1320.5ZM1009.73 1320.5V1314.88H1010.85V1320.5ZM1010.85 1320.5V1314.88H1011.97V1320.5ZM1011.97 1320.5V1309.26H1013.10V1320.5ZM1013.10 1320.5V1309.26H1014.22V1320.5ZM1014.22 1320.5V1309.26H1015.34V1320.5ZM1015.34 1320.5V1314.88H1016.46V1320.5ZM1016.46 1320.5V1309.26H1017.58V1320.5ZM1017.58 1320.5V1309.26H1018.70V1320.5ZM1018.70 1320.5V1309.26H1019.82V1320.5ZM1019.82 1320.5V1309.26H1020.94V1320.5ZM1020.94 1320.5V1314.88H1022.06V1320.5ZM1022.06 1320.5V1314.88H1023.19V1320.5ZM1023.19 1320.5V1314.88H1024.31V1320.5ZM1024.31 1320.5V1314.88H1025.43V1320.5ZM1025.43 1320.5V1309.26H1026.55V1320.5ZM1026.55 1320.5V1309.26H1027.67V1320.5ZM1027.67 1320.5V1309.26H1028.79V1320.5ZM1028.79 1320.5V1309.26H1029.91V1320.5ZM1029.91 1320.5V1309.26H1031.03V1320.5ZM1031.03 1320.5V1314.88H1032.16V1320.5ZM1032.16 1320.5V1309.26H1033.28V1320.5ZM1033.28 1320.5V1309.26H1034.40V1320.5ZM1034.40 1320.5V1309.26H1035.52V1320.5ZM1035.52 1320.5V1309.26H1036.64V1320.5ZM1036.64 1320.5V1309.26H1037.76V1320.5ZM1037.76 1320.5V1309.26H1038.88V1320.5ZM1038.88 1320.5V1309.26H1040.00V1320.5ZM1040.00 1320.5V1309.26H1041.13V1320.5ZM1041.13 1320.5V1314.88H1042.25V1320.5ZM1042.25 1320.5V1309.26H1043.37V1320.5ZM1043.37 1320.5V1309.26H1044.49V1320.5ZM1044.49 1320.5V1309.26H1045.61V1320.5ZM1045.61 1320.5V1309.26H1046.73V1320.5ZM1046.73 1320.5V1309.26H1047.85V1320.5ZM1047.85 1320.5V1309.26H1048.97V1320.5ZM1048.97 1320.5V1309.26H1050.09V1320.5ZM1050.09 1320.5V1309.26H1051.22V1320.5ZM1051.22 1320.5V1309.26H1052.34V1320.5ZM1052.34 1320.5V1309.26H1053.46V1320.5ZM1053.46 1320.5V1309.26H1054.58V1320.5ZM1054.58 1320.5V1309.26H1055.70V1320.5ZM1055.70 1320.5V1309.26H1056.82V1320.5ZM1056.82 1320.5V1309.26H1057.50V1320.5ZM1057.50 1320.5V1303.64H1058.62V1320.5ZM1058.62 1320.5V1303.64H1059.74V1320.5ZM1059.74 1320.5V1309.26H1060.86V1320.5ZM1060.86 1320.5V1303.64H1061.98V1320.5ZM1061.98 1320.5V1303.64H1063.11V1320.5ZM1063.11 1320.5V1303.64H1064.23V1320.5ZM1064.23 1320.5V1303.64H1065.35V1320.5ZM1065.35 1320.5V1303.64H1066.47V1320.5ZM1066.47 1320.5V1309.26H1067.59V1320.5ZM1067.59 1320.5V1303.64H1068.71V1320.5ZM1068.71 1320.5V1303.64H1069.83V1320.5ZM1069.83 1320.5V1303.64H1070.95V1320.5ZM1070.95 1320.5V1303.64H1072.08V1320.5ZM1072.08 1320.5V1303.64H1073.20V1320.5ZM1073.20 1320.5V1303.64H1074.32V1320.5ZM1074.32 1320.5V1303.64H1075.44V1320.5ZM1075.44 1320.5V1303.64H1076.56V1320.5ZM1076.56 1320.5V1309.26H1077.68V1320.5ZM1077.68 1320.5V1303.64H1078.80V1320.5ZM1078.80 1320.5V1303.64H1079.92V1320.5ZM1079.92 1320.5V1303.64H1081.04V1320.5ZM1081.04 1320.5V1303.64H1082.17V1320.5ZM1082.17 1320.5V1303.64H1083.29V1320.5ZM1083.29 1320.5V1303.64H1084.41V1320.5ZM1084.41 1320.5V1303.64H1085.53V1320.5ZM1085.53 1320.5V1303.64H1086.65V1320.5ZM1086.65 1320.5V1303.64H1087.77V1320.5ZM1087.77 1320.5V1303.64H1088.89V1320.5ZM1088.89 1320.5V1309.26H1090.01V1320.5ZM1090.01 1320.5V1303.64H1091.14V1320.5ZM1091.14 1320.5V1303.64H1092.26V1320.5ZM1092.26 1320.5V1303.64H1093.38V1320.5ZM1093.38 1320.5V1303.64H1094.50V1320.5ZM1094.50 1320.5V1303.64H1095.62V1320.5ZM1095.62 1320.5V1303.64H1096.74V1320.5ZM1096.74 1320.5V1309.26H1097.86V1320.5ZM1097.86 1320.5V1303.64H1098.98V1320.5ZM1098.98 1320.5V1303.64H1100.10V1320.5ZM1100.10 1320.5V1303.64H1101.23V1320.5ZM1101.23 1320.5V1303.64H1102.35V1320.5ZM1102.35 1320.5V1303.64H1103.47V1320.5ZM1103.47 1320.5V1309.26H1104.59V1320.5ZM1104.59 1320.5V1303.64H1105.71V1320.5ZM1105.71 1320.5V1303.64H1106.83V1320.5ZM1106.83 1320.5V1303.64H1107.95V1320.5ZM1107.95 1320.5V1309.26H1109.07V1320.5ZM1109.07 1320.5V1303.64H1110.20V1320.5ZM1110.20 1320.5V1303.64H1111.32V1320.5ZM1111.32 1320.5V1303.64H1112.44V1320.5ZM1112.44 1320.5V1303.64H1113.56V1320.5ZM1113.56 1320.5V1303.64H1114.68V1320.5ZM1114.68 1320.5V1303.64H1115.80V1320.5ZM1115.80 1320.5V1303.64H1116.92V1320.5ZM1116.92 1320.5V1309.26H1118.04V1320.5ZM1118.04 1320.5V1309.26H1119.16V1320.5ZM1119.16 1320.5V1303.64H1120.29V1320.5ZM1120.29 1320.5V1303.64H1121.41V1320.5ZM1121.41 1320.5V1309.26H1122.53V1320.5ZM1122.53 1320.5V1303.64H1123.65V1320.5ZM1123.65 1320.5V1303.64H1124.77V1320.5ZM1124.77 1320.5V1303.64H1125.89V1320.5ZM1125.89 1320.5V1303.64H1127.01V1320.5ZM1127.01 1320.5V1303.64H1128.13V1320.5ZM1128.13 1320.5V1303.64H1129.26V1320.5ZM1129.26 1320.5V1303.64H1130.38V1320.5ZM1130.38 1320.5V1303.64H1131.50V1320.5ZM1131.50 1320.5V1303.64H1132.62V1320.5ZM1132.62 1320.5V1303.64H1133.74V1320.5ZM1133.74 1320.5V1309.26H1134.86V1320.5ZM1134.86 1320.5V1303.64H1135.98V1320.5ZM1135.98 1320.5V1309.26H1137.10V1320.5ZM1137.10 1320.5V1303.64H1138.23V1320.5ZM1138.23 1320.5V1303.64H1139.35V1320.5ZM1139.35 1320.5V1303.64H1140.47V1320.5ZM1140.47 1320.5V1303.64H1141.59V1320.5ZM1141.59 1320.5V1303.64H1142.71V1320.5ZM1142.71 1320.5V1303.64H1143.83V1320.5ZM1143.83 1320.5V1303.64H1144.95V1320.5ZM1144.95 1320.5V1303.64H1146.07V1320.5ZM1146.07 1320.5V1303.64H1147.19V1320.5ZM1147.19 1320.5V1303.64H1148.32V1320.5ZM1148.32 1320.5V1303.64H1149.44V1320.5ZM1149.44 1320.5V1303.64H1150.56V1320.5ZM1150.56 1320.5V1303.64H1151.68V1320.5ZM1151.68 1320.5V1303.64H1152.80V1320.5ZM1152.80 1320.5V1303.64H1153.92V1320.5ZM1153.92 1320.5V1303.64H1155.04V1320.5ZM1155.04 1320.5V1303.64H1156.16V1320.5ZM1156.16 1320.5V1303.64H1157.29V1320.5ZM1157.29 1320.5V1303.64H1158.41V1320.5ZM1158.41 1320.5V1309.26H1159.53V1320.5ZM1159.53 1320.5V1303.64H1160.65V1320.5ZM1160.65 1320.5V1303.64H1161.77V1320.5ZM1161.77 1320.5V1303.64H1162.89V1320.5ZM1162.89 1320.5V1303.64H1164.01V1320.5ZM1164.01 1320.5V1303.64H1165.13V1320.5ZM1165.13 1320.5V1309.26H1166.25V1320.5ZM1166.25 1320.5V1303.64H1167.38V1320.5ZM1167.38 1320.5V1303.64H1168.50V1320.5ZM1168.50 1320.5V1303.64H1169.62V1320.5ZM1169.62 1320.5V1303.64H1170.74V1320.5ZM1170.74 1320.5V1303.64H1171.86V1320.5ZM1171.86 1320.5V1303.64H1172.98V1320.5ZM1172.98 1320.5V1303.64H1174.10V1320.5ZM1174.10 1320.5V1303.64H1175.22V1320.5ZM1175.22 1320.5V1303.64H1176.35V1320.5ZM1176.35 1320.5V1309.26H1177.47V1320.5ZM1177.47 1320.5V1303.64H1178.59V1320.5ZM1178.59 1320.5V1303.64H1179.71V1320.5ZM1179.71 1320.5V1303.64H1180.83V1320.5ZM1180.83 1320.5V1309.26H1181.95V1320.5ZM1181.95 1320.5V1309.26H1183.07V1320.5ZM1183.07 1320.5V1303.64H1184.19V1320.5ZM1184.19 1320.5V1303.64H1185.31V1320.5ZM1185.31 1320.5V1303.64H1186.44V1320.5ZM1186.44 1320.5V1303.64H1187.56V1320.5ZM1187.56 1320.5V1309.26H1188.68V1320.5ZM1188.68 1320.5V1303.64H1189.80V1320.5ZM1189.80 1320.5V1303.64H1190.92V1320.5ZM1190.92 1320.5V1303.64H1192.04V1320.5ZM1192.04 1320.5V1303.64H1193.16V1320.5ZM1193.16 1320.5V1303.64H1194.28V1320.5ZM1194.28 1320.5V1303.64H1195.41V1320.5ZM1195.41 1320.5V1303.64H1196.53V1320.5ZM1196.53 1320.5V1303.64H1197.65V1320.5ZM1197.65 1320.5V1303.64H1198.77V1320.5ZM1198.77 1320.5V1303.64H1199.89V1320.5ZM1199.89 1320.5V1303.64H1201.01V1320.5ZM1201.01 1320.5V1303.64H1202.13V1320.5ZM1202.13 1320.5V1303.64H1203.25V1320.5ZM1203.25 1320.5V1303.64H1204.37V1320.5ZM1204.37 1320.5V1303.64H1205.50V1320.5ZM1205.50 1320.5V1303.64H1205.60V1320.5ZM1352.60 1320.5V1253.07H1353.72V1320.5ZM1353.72 1320.5V1253.07H1354.84V1320.5ZM1354.84 1320.5V1253.07H1355.00V1320.5ZM1355.00 1320.5V1174.41H1356.12V1320.5ZM1356.12 1320.5V1174.41H1357.24V1320.5ZM1357.24 1320.5V1174.41H1357.40V1320.5ZM1357.40 1320.5V1275.55H1358.20V1320.5ZM1358.20 1320.5V1309.26H1359.32V1320.5ZM1359.32 1320.5V1309.26H1360.44V1320.5ZM1360.44 1320.5V1309.26H1361.56V1320.5ZM1361.56 1320.5V1309.26H1362.68V1320.5ZM1362.68 1320.5V1309.26H1362.80V1320.5ZM1362.80 1320.5V1314.88H1363.92V1320.5ZM1363.92 1320.5V1314.88H1365.04V1320.5ZM1365.04 1320.5V1314.88H1366.16V1320.5ZM1366.16 1320.5V1314.88H1367.28V1320.5ZM1367.28 1320.5V1314.88H1367.60V1320.5ZM1367.60 1320.5V1298.02H1368.72V1320.5ZM1368.72 1320.5V1298.02H1369.40V1320.5ZM1369.40 1320.5V1303.64H1370.52V1320.5ZM1370.52 1320.5V1303.64H1371.64V1320.5ZM1371.64 1320.5V1303.64H1372.40V1320.5ZM1372.40 1320.5V1314.88H1373.52V1320.5ZM1373.52 1320.5V1314.88H1374.64V1320.5ZM1374.64 1320.5V1314.88H1375.76V1320.5ZM1375.76 1320.5V1314.88H1376.88V1320.5ZM1376.88 1320.5V1314.88H1378.01V1320.5ZM1378.01 1320.5V1314.88H1379.13V1320.5ZM1379.13 1320.5V1314.88H1380.25V1320.5ZM1380.25 1320.5V1314.88H1381.37V1320.5ZM1381.37 1320.5V1314.88H1382.49V1320.5ZM1382.49 1320.5V1314.88H1383.30V1320.5ZM1383.30 1320.5V1314.88H1384.42V1320.5ZM1384.42 1320.5V1309.26H1385.54V1320.5ZM1385.54 1320.5V1309.26H1386.66V1320.5ZM1386.66 1320.5V1314.88H1387.78V1320.5ZM1387.78 1320.5V1309.26H1388.91V1320.5ZM1388.91 1320.5V1314.88H1390.03V1320.5ZM1390.03 1320.5V1309.26H1391.15V1320.5ZM1391.15 1320.5V1309.26H1392.27V1320.5ZM1392.27 1320.5V1314.88H1393.39V1320.5ZM1393.39 1320.5V1314.88H1394.51V1320.5ZM1394.51 1320.5V1314.88H1395.63V1320.5ZM1395.63 1320.5V1309.26H1396.75V1320.5ZM1396.75 1320.5V1309.26H1397.88V1320.5ZM1397.88 1320.5V1309.26H1399.00V1320.5ZM1399.00 1320.5V1309.26H1400.12V1320.5ZM1400.12 1320.5V1314.88H1401.24V1320.5ZM1401.24 1320.5V1309.26H1402.36V1320.5ZM1402.36 1320.5V1314.88H1403.48V1320.5ZM1403.48 1320.5V1309.26H1404.60V1320.5ZM1404.60 1320.5V1314.88H1405.72V1320.5ZM1405.72 1320.5V1309.26H1406.84V1320.5ZM1406.84 1320.5V1309.26H1407.97V1320.5ZM1407.97 1320.5V1314.88H1409.09V1320.5ZM1409.09 1320.5V1314.88H1410.21V1320.5ZM1410.21 1320.5V1309.26H1411.33V1320.5ZM1411.33 1320.5V1309.26H1412.00V1320.5ZM1412.00 1320.5V1309.26H1413.12V1320.5ZM1413.12 1320.5V1303.64H1414.24V1320.5ZM1414.24 1320.5V1303.64H1415.36V1320.5ZM1415.36 1320.5V1303.64H1416.48V1320.5ZM1416.48 1320.5V1303.64H1417.61V1320.5ZM1417.61 1320.5V1303.64H1418.73V1320.5ZM1418.73 1320.5V1303.64H1419.85V1320.5ZM1419.85 1320.5V1309.26H1420.97V1320.5ZM1420.97 1320.5V1303.64H1422.09V1320.5ZM1422.09 1320.5V1303.64H1423.21V1320.5ZM1423.21 1320.5V1303.64H1424.33V1320.5ZM1424.33 1320.5V1309.26H1425.45V1320.5ZM1425.45 1320.5V1303.64H1426.58V1320.5ZM1426.58 1320.5V1303.64H1427.70V1320.5ZM1427.70 1320.5V1303.64H1428.82V1320.5ZM1428.82 1320.5V1309.26H1429.94V1320.5ZM1429.94 1320.5V1303.64H1431.06V1320.5ZM1431.06 1320.5V1303.64H1432.18V1320.5ZM1432.18 1320.5V1303.64H1433.30V1320.5ZM1433.30 1320.5V1303.64H1434.42V1320.5ZM1434.42 1320.5V1303.64H1435.54V1320.5ZM1435.54 1320.5V1309.26H1436.67V1320.5ZM1436.67 1320.5V1303.64H1437.79V1320.5ZM1437.79 1320.5V1303.64H1438.60V1320.5ZM1438.60 1320.5V1298.02H1439.72V1320.5ZM1439.72 1320.5V1298.02H1440.84V1320.5ZM1440.84 1320.5V1298.02H1441.96V1320.5ZM1441.96 1320.5V1298.02H1443.08V1320.5ZM1443.08 1320.5V1298.02H1444.21V1320.5ZM1444.21 1320.5V1298.02H1445.33V1320.5ZM1445.33 1320.5V1298.02H1446.45V1320.5ZM1446.45 1320.5V1298.02H1447.57V1320.5ZM1447.57 1320.5V1298.02H1448.69V1320.5ZM1448.69 1320.5V1298.02H1449.81V1320.5ZM1449.81 1320.5V1298.02H1450.93V1320.5ZM1450.93 1320.5V1298.02H1452.05V1320.5ZM1452.05 1320.5V1298.02H1453.18V1320.5ZM1453.18 1320.5V1298.02H1454.30V1320.5ZM1454.30 1320.5V1298.02H1455.42V1320.5ZM1455.42 1320.5V1292.40H1456.54V1320.5ZM1456.54 1320.5V1298.02H1457.66V1320.5ZM1457.66 1320.5V1298.02H1458.78V1320.5ZM1458.78 1320.5V1298.02H1459.90V1320.5ZM1459.90 1320.5V1298.02H1461.02V1320.5ZM1461.02 1320.5V1298.02H1462.14V1320.5ZM1462.14 1320.5V1298.02H1463.27V1320.5ZM1463.27 1320.5V1298.02H1464.39V1320.5ZM1464.39 1320.5V1292.40H1465.51V1320.5ZM1465.51 1320.5V1298.02H1466.63V1320.5ZM1466.63 1320.5V1298.02H1467.75V1320.5ZM1467.75 1320.5V1298.02H1468.87V1320.5ZM1468.87 1320.5V1292.40H1469.99V1320.5ZM1469.99 1320.5V1298.02H1471.11V1320.5ZM1471.11 1320.5V1298.02H1472.24V1320.5ZM1472.24 1320.5V1298.02H1473.36V1320.5ZM1473.36 1320.5V1298.02H1474.48V1320.5ZM1474.48 1320.5V1298.02H1475.60V1320.5ZM1475.60 1320.5V1298.02H1476.72V1320.5ZM1476.72 1320.5V1298.02H1477.84V1320.5ZM1477.84 1320.5V1292.40H1478.00V1320.5ZM1478.00 1320.5V1292.40H1479.12V1320.5ZM1479.12 1320.5V1298.02H1480.24V1320.5ZM1480.24 1320.5V1298.02H1481.36V1320.5ZM1481.36 1320.5V1292.40H1482.48V1320.5ZM1482.48 1320.5V1292.40H1483.61V1320.5ZM1483.61 1320.5V1298.02H1484.73V1320.5ZM1484.73 1320.5V1298.02H1485.85V1320.5ZM1485.85 1320.5V1292.40H1486.97V1320.5ZM1486.97 1320.5V1292.40H1488.09V1320.5ZM1488.09 1320.5V1298.02H1489.21V1320.5ZM1489.21 1320.5V1292.40H1490.33V1320.5ZM1490.33 1320.5V1298.02H1491.45V1320.5ZM1491.45 1320.5V1292.40H1492.58V1320.5ZM1492.58 1320.5V1298.02H1493.70V1320.5ZM1493.70 1320.5V1292.40H1494.82V1320.5ZM1494.82 1320.5V1298.02H1495.94V1320.5ZM1495.94 1320.5V1292.40H1497.06V1320.5ZM1497.06 1320.5V1292.40H1498.18V1320.5ZM1498.18 1320.5V1298.02H1499.30V1320.5ZM1499.30 1320.5V1298.02H1500.42V1320.5ZM1500.42 1320.5V1292.40H1501.54V1320.5ZM1501.54 1320.5V1292.40H1502.67V1320.5ZM1502.67 1320.5V1292.40H1503.79V1320.5ZM1503.79 1320.5V1292.40H1504.91V1320.5ZM1504.91 1320.5V1292.40H1506.03V1320.5ZM1506.03 1320.5V1292.40H1507.15V1320.5ZM1507.15 1320.5V1292.40H1508.27V1320.5ZM1508.27 1320.5V1298.02H1509.39V1320.5ZM1509.39 1320.5V1298.02H1510.51V1320.5ZM1510.51 1320.5V1292.40H1511.64V1320.5ZM1511.64 1320.5V1292.40H1512.76V1320.5ZM1512.76 1320.5V1298.02H1513.88V1320.5ZM1513.88 1320.5V1292.40H1515.00V1320.5ZM1515.00 1320.5V1298.02H1516.12V1320.5ZM1516.12 1320.5V1292.40H1517.24V1320.5ZM1517.24 1320.5V1292.40H1518.36V1320.5ZM1518.36 1320.5V1292.40H1519.48V1320.5ZM1519.48 1320.5V1292.40H1520.30V1320.5ZM1520.30 1320.5V1281.17H1521.42V1320.5ZM1521.42 1320.5V1281.17H1521.50V1320.5ZM1521.50 1320.5V1258.69H1522.62V1320.5ZM1522.62 1320.5V1258.69H1523.74V1320.5ZM1523.74 1320.5V1258.69H1524.00V1320.5ZM1524.00 1320.5V1253.07H1525.12V1320.5ZM1525.12 1320.5V1253.07H1526.24V1320.5ZM1526.24 1320.5V1253.07H1527.36V1320.5ZM1527.36 1320.5V1253.07H1528.48V1320.5ZM1528.48 1320.5V1253.07H1528.50V1320.5ZM1675.70 1320.5V1236.21H1676.82V1320.5ZM1676.82 1320.5V1236.21H1677.94V1320.5ZM1677.94 1320.5V1236.21H1678.80V1320.5ZM1678.80 1320.5V1286.79H1679.92V1320.5ZM1679.92 1320.5V1286.79H1681.04V1320.5ZM1681.04 1320.5V1286.79H1681.20V1320.5ZM1681.20 1320.5V1303.64H1682.32V1320.5ZM1682.32 1320.5V1303.64H1683.44V1320.5ZM1683.44 1320.5V1303.64H1684.00V1320.5ZM1684.00 1320.5V1309.26H1685.12V1320.5ZM1685.12 1320.5V1309.26H1686.24V1320.5ZM1686.24 1320.5V1309.26H1687.00V1320.5ZM1687.00 1320.5V1314.88H1688.12V1320.5ZM1688.12 1320.5V1314.88H1689.24V1320.5ZM1689.24 1320.5V1314.88H1690.36V1320.5ZM1690.36 1320.5V1314.88H1691.48V1320.5ZM1691.48 1320.5V1314.88H1692.61V1320.5ZM1692.61 1320.5V1314.88H1693.73V1320.5ZM1693.73 1320.5V1314.88H1694.85V1320.5ZM1694.85 1320.5V1314.88H1695.97V1320.5ZM1695.97 1320.5V1314.88H1697.09V1320.5ZM1697.09 1320.5V1314.88H1698.21V1320.5ZM1698.21 1320.5V1314.88H1699.33V1320.5ZM1699.33 1320.5V1314.88H1700.45V1320.5ZM1700.45 1320.5V1314.88H1701.58V1320.5ZM1701.58 1320.5V1314.88H1702.70V1320.5ZM1702.70 1320.5V1314.88H1703.82V1320.5ZM1703.82 1320.5V1314.88H1704.94V1320.5ZM1704.94 1320.5V1314.88H1706.06V1320.5ZM1706.06 1320.5V1314.88H1707.18V1320.5ZM1707.18 1320.5V1314.88H1708.30V1320.5ZM1708.30 1320.5V1314.88H1709.42V1320.5ZM1709.42 1320.5V1314.88H1710.54V1320.5ZM1710.54 1320.5V1314.88H1711.67V1320.5ZM1711.67 1320.5V1314.88H1712.79V1320.5ZM1712.79 1320.5V1314.88H1713.91V1320.5ZM1713.91 1320.5V1314.88H1715.03V1320.5ZM1715.03 1320.5V1314.88H1716.15V1320.5ZM1716.15 1320.5V1314.88H1717.27V1320.5ZM1717.27 1320.5V1314.88H1718.00V1320.5ZM1718.00 1320.5V1314.88H1719.12V1320.5ZM1719.12 1320.5V1314.88H1720.24V1320.5ZM1720.24 1320.5V1309.26H1721.36V1320.5ZM1721.36 1320.5V1314.88H1722.48V1320.5ZM1722.48 1320.5V1314.88H1723.61V1320.5ZM1723.61 1320.5V1309.26H1724.73V1320.5ZM1724.73 1320.5V1314.88H1725.85V1320.5ZM1725.85 1320.5V1314.88H1726.97V1320.5ZM1726.97 1320.5V1314.88H1728.09V1320.5ZM1728.09 1320.5V1309.26H1729.21V1320.5ZM1729.21 1320.5V1309.26H1730.33V1320.5ZM1730.33 1320.5V1309.26H1731.00V1320.5ZM1731.00 1320.5V1314.88H1732.12V1320.5ZM1732.12 1320.5V1309.26H1733.24V1320.5ZM1733.24 1320.5V1314.88H1734.36V1320.5ZM1734.36 1320.5V1309.26H1735.48V1320.5ZM1735.48 1320.5V1314.88H1736.61V1320.5ZM1736.61 1320.5V1309.26H1737.73V1320.5ZM1737.73 1320.5V1309.26H1738.85V1320.5ZM1738.85 1320.5V1309.26H1739.97V1320.5ZM1739.97 1320.5V1309.26H1741.09V1320.5ZM1741.09 1320.5V1314.88H1742.21V1320.5ZM1742.21 1320.5V1309.26H1743.33V1320.5ZM1743.33 1320.5V1309.26H1744.45V1320.5ZM1744.45 1320.5V1314.88H1745.58V1320.5ZM1745.58 1320.5V1309.26H1746.70V1320.5ZM1746.70 1320.5V1314.88H1747.82V1320.5ZM1747.82 1320.5V1309.26H1748.94V1320.5ZM1748.94 1320.5V1309.26H1750.06V1320.5ZM1750.06 1320.5V1314.88H1751.18V1320.5ZM1751.18 1320.5V1309.26H1752.30V1320.5ZM1752.30 1320.5V1314.88H1753.42V1320.5ZM1753.42 1320.5V1309.26H1754.54V1320.5ZM1754.54 1320.5V1309.26H1755.67V1320.5ZM1755.67 1320.5V1314.88H1756.79V1320.5ZM1756.79 1320.5V1309.26H1757.91V1320.5ZM1757.91 1320.5V1309.26H1759.03V1320.5ZM1759.03 1320.5V1309.26H1760.15V1320.5ZM1760.15 1320.5V1309.26H1761.27V1320.5ZM1761.27 1320.5V1314.88H1762.39V1320.5ZM1762.39 1320.5V1309.26H1763.51V1320.5ZM1763.51 1320.5V1309.26H1764.64V1320.5ZM1764.64 1320.5V1314.88H1765.76V1320.5ZM1765.76 1320.5V1309.26H1766.88V1320.5ZM1766.88 1320.5V1309.26H1768.00V1320.5ZM1768.00 1320.5V1309.26H1769.12V1320.5ZM1769.12 1320.5V1309.26H1770.24V1320.5ZM1770.24 1320.5V1309.26H1771.36V1320.5ZM1771.36 1320.5V1309.26H1772.48V1320.5ZM1772.48 1320.5V1309.26H1773.60V1320.5ZM1773.60 1320.5V1309.26H1774.73V1320.5ZM1774.73 1320.5V1309.26H1775.85V1320.5ZM1775.85 1320.5V1314.88H1776.97V1320.5ZM1776.97 1320.5V1309.26H1778.09V1320.5ZM1778.09 1320.5V1309.26H1779.21V1320.5ZM1779.21 1320.5V1309.26H1780.33V1320.5ZM1780.33 1320.5V1309.26H1780.40V1320.5ZM1780.40 1320.5V1303.64H1781.52V1320.5ZM1781.52 1320.5V1303.64H1782.64V1320.5ZM1782.64 1320.5V1303.64H1783.76V1320.5ZM1783.76 1320.5V1303.64H1784.88V1320.5ZM1784.88 1320.5V1303.64H1786.01V1320.5ZM1786.01 1320.5V1309.26H1787.13V1320.5ZM1787.13 1320.5V1309.26H1788.25V1320.5ZM1788.25 1320.5V1303.64H1789.37V1320.5ZM1789.37 1320.5V1309.26H1790.49V1320.5ZM1790.49 1320.5V1303.64H1791.61V1320.5ZM1791.61 1320.5V1303.64H1792.73V1320.5ZM1792.73 1320.5V1309.26H1793.85V1320.5ZM1793.85 1320.5V1303.64H1794.98V1320.5ZM1794.98 1320.5V1303.64H1796.10V1320.5ZM1796.10 1320.5V1303.64H1797.22V1320.5ZM1797.22 1320.5V1309.26H1798.34V1320.5ZM1798.34 1320.5V1309.26H1799.46V1320.5ZM1799.46 1320.5V1309.26H1800.58V1320.5ZM1800.58 1320.5V1303.64H1801.70V1320.5ZM1801.70 1320.5V1303.64H1802.82V1320.5ZM1802.82 1320.5V1303.64H1803.94V1320.5ZM1803.94 1320.5V1309.26H1805.07V1320.5ZM1805.07 1320.5V1309.26H1806.19V1320.5ZM1806.19 1320.5V1303.64H1807.31V1320.5ZM1807.31 1320.5V1309.26H1808.43V1320.5ZM1808.43 1320.5V1303.64H1809.55V1320.5ZM1809.55 1320.5V1309.26H1810.50V1320.5ZM1810.50 1320.5V1298.02H1811.62V1320.5ZM1811.62 1320.5V1292.40H1812.74V1320.5ZM1812.74 1320.5V1298.02H1813.86V1320.5ZM1813.86 1320.5V1292.40H1814.98V1320.5ZM1814.98 1320.5V1298.02H1816.11V1320.5ZM1816.11 1320.5V1298.02H1817.23V1320.5ZM1817.23 1320.5V1292.40H1818.35V1320.5ZM1818.35 1320.5V1292.40H1819.47V1320.5ZM1819.47 1320.5V1298.02H1820.59V1320.5ZM1820.59 1320.5V1292.40H1821.71V1320.5ZM1821.71 1320.5V1298.02H1822.83V1320.5ZM1822.83 1320.5V1298.02H1823.95V1320.5ZM1823.95 1320.5V1292.40H1825.08V1320.5ZM1825.08 1320.5V1292.40H1826.20V1320.5ZM1826.20 1320.5V1298.02H1827.32V1320.5ZM1827.32 1320.5V1298.02H1828.44V1320.5ZM1828.44 1320.5V1298.02H1829.56V1320.5ZM1829.56 1320.5V1298.02H1830.68V1320.5ZM1830.68 1320.5V1292.40H1831.80V1320.5ZM1831.80 1320.5V1298.02H1832.92V1320.5ZM1832.92 1320.5V1298.02H1834.04V1320.5ZM1834.04 1320.5V1292.40H1835.17V1320.5ZM1835.17 1320.5V1298.02H1836.29V1320.5ZM1836.29 1320.5V1298.02H1837.41V1320.5ZM1837.41 1320.5V1298.02H1838.53V1320.5ZM1838.53 1320.5V1292.40H1839.65V1320.5ZM1839.65 1320.5V1298.02H1840.77V1320.5ZM1840.77 1320.5V1298.02H1841.89V1320.5ZM1841.89 1320.5V1298.02H1843.01V1320.5ZM1843.01 1320.5V1298.02H1844.14V1320.5ZM1844.14 1320.5V1298.02H1845.26V1320.5ZM1845.26 1320.5V1292.40H1846.38V1320.5ZM1846.38 1320.5V1292.40H1847.50V1320.5ZM1847.50 1320.5V1292.40H1848.62V1320.5ZM1848.62 1320.5V1292.40H1849.74V1320.5ZM1849.74 1320.5V1298.02H1850.86V1320.5ZM1850.86 1320.5V1298.02H1851.40V1320.5ZM1998.70 1320.5V1303.64H1999.82V1320.5ZM1999.82 1320.5V1303.64H2000.94V1320.5ZM2000.94 1320.5V1303.64H2002.06V1320.5ZM2002.06 1320.5V1303.64H2003.18V1320.5ZM2003.18 1320.5V1303.64H2004.00V1320.5ZM2004.00 1320.5V1298.02H2005.12V1320.5ZM2005.12 1320.5V1298.02H2006.00V1320.5ZM2006.00 1320.5V1314.88H2007.12V1320.5ZM2007.12 1320.5V1314.88H2008.24V1320.5ZM2008.24 1320.5V1314.88H2009.36V1320.5ZM2009.36 1320.5V1314.88H2010.48V1320.5ZM2010.48 1320.5V1314.88H2011.61V1320.5ZM2011.61 1320.5V1314.88H2012.73V1320.5ZM2012.73 1320.5V1314.88H2013.85V1320.5ZM2013.85 1320.5V1314.88H2014.97V1320.5ZM2014.97 1320.5V1314.88H2016.09V1320.5ZM2016.09 1320.5V1314.88H2017.21V1320.5ZM2017.21 1320.5V1314.88H2018.33V1320.5ZM2018.33 1320.5V1314.88H2019.45V1320.5ZM2019.45 1320.5V1314.88H2020.58V1320.5ZM2020.58 1320.5V1314.88H2021.70V1320.5ZM2021.70 1320.5V1314.88H2022.82V1320.5ZM2022.82 1320.5V1314.88H2023.94V1320.5ZM2023.94 1320.5V1314.88H2025.06V1320.5ZM2025.06 1320.5V1314.88H2026.18V1320.5ZM2026.18 1320.5V1314.88H2027.30V1320.5ZM2027.30 1320.5V1314.88H2028.42V1320.5ZM2028.42 1320.5V1314.88H2029.54V1320.5ZM2029.54 1320.5V1314.88H2030.67V1320.5ZM2030.67 1320.5V1314.88H2031.79V1320.5ZM2031.79 1320.5V1314.88H2032.91V1320.5ZM2032.91 1320.5V1314.88H2034.03V1320.5ZM2034.03 1320.5V1314.88H2035.15V1320.5ZM2035.15 1320.5V1314.88H2036.27V1320.5ZM2036.27 1320.5V1314.88H2037.39V1320.5ZM2037.39 1320.5V1314.88H2038.51V1320.5ZM2038.51 1320.5V1314.88H2039.64V1320.5ZM2039.64 1320.5V1314.88H2040.76V1320.5ZM2040.76 1320.5V1314.88H2041.88V1320.5ZM2041.88 1320.5V1314.88H2043.00V1320.5ZM2043.00 1320.5V1314.88H2044.12V1320.5ZM2044.12 1320.5V1314.88H2045.24V1320.5ZM2045.24 1320.5V1314.88H2046.36V1320.5ZM2046.36 1320.5V1314.88H2047.48V1320.5ZM2047.48 1320.5V1314.88H2048.60V1320.5ZM2048.60 1320.5V1314.88H2049.73V1320.5ZM2049.73 1320.5V1314.88H2050.85V1320.5ZM2050.85 1320.5V1314.88H2051.97V1320.5ZM2051.97 1320.5V1314.88H2053.09V1320.5ZM2053.09 1320.5V1314.88H2054.21V1320.5ZM2054.21 1320.5V1314.88H2055.33V1320.5ZM2055.33 1320.5V1314.88H2056.45V1320.5ZM2056.45 1320.5V1314.88H2057.57V1320.5ZM2057.57 1320.5V1314.88H2058.70V1320.5ZM2058.70 1320.5V1314.88H2059.82V1320.5ZM2059.82 1320.5V1314.88H2060.94V1320.5ZM2060.94 1320.5V1314.88H2062.06V1320.5ZM2062.06 1320.5V1314.88H2063.18V1320.5ZM2063.18 1320.5V1314.88H2064.30V1320.5ZM2064.30 1320.5V1314.88H2065.42V1320.5ZM2065.42 1320.5V1314.88H2066.54V1320.5ZM2066.54 1320.5V1314.88H2067.66V1320.5ZM2067.66 1320.5V1314.88H2068.79V1320.5ZM2068.79 1320.5V1314.88H2069.91V1320.5ZM2069.91 1320.5V1314.88H2071.03V1320.5ZM2071.03 1320.5V1314.88H2072.15V1320.5ZM2072.15 1320.5V1314.88H2073.27V1320.5ZM2073.27 1320.5V1314.88H2074.39V1320.5ZM2074.39 1320.5V1314.88H2075.51V1320.5ZM2075.51 1320.5V1314.88H2076.63V1320.5ZM2076.63 1320.5V1314.88H2077.76V1320.5ZM2077.76 1320.5V1314.88H2078.88V1320.5ZM2078.88 1320.5V1314.88H2080.00V1320.5ZM2080.00 1320.5V1314.88H2081.12V1320.5ZM2081.12 1320.5V1314.88H2082.24V1320.5ZM2082.24 1320.5V1314.88H2083.36V1320.5ZM2083.36 1320.5V1314.88H2084.48V1320.5ZM2084.48 1320.5V1314.88H2085.60V1320.5ZM2085.60 1320.5V1314.88H2086.72V1320.5ZM2086.72 1320.5V1314.88H2087.85V1320.5ZM2087.85 1320.5V1314.88H2088.97V1320.5ZM2088.97 1320.5V1314.88H2090.09V1320.5ZM2090.09 1320.5V1314.88H2091.21V1320.5ZM2091.21 1320.5V1314.88H2092.33V1320.5ZM2092.33 1320.5V1314.88H2093.45V1320.5ZM2093.45 1320.5V1314.88H2093.50V1320.5ZM205.65 1320.5V1309.26H206.75V1320.5ZM212.25 1320.5V1309.26H213.35V1320.5ZM227.45 1320.5V1309.26H228.55V1320.5ZM234.45 1320.5V1309.26H235.55V1320.5ZM566.75 1320.5V1303.64H567.85V1320.5ZM662.35 1320.5V1309.26H663.45V1320.5ZM710.85 1320.5V1309.26H711.95V1320.5ZM763.45 1320.5V1303.64H764.55V1320.5ZM771.15 1320.5V1303.64H772.25V1320.5ZM788.45 1320.5V1298.02H789.55V1320.5ZM801.45 1320.5V1298.02H802.55V1320.5ZM846.45 1320.5V1298.02H847.55V1320.5ZM1027.45 1320.5V1303.64H1028.55V1320.5ZM1119.15 1320.5V1298.02H1120.25V1320.5ZM1160.95 1320.5V1298.02H1162.05V1320.5ZM2053.45 1320.5V1309.26H2054.55V1320.5ZM2093.44 1320.5V1314.88H2094.56V1320.5ZM2094.56 1320.5V1314.88H2095.68V1320.5ZM2095.68 1320.5V1309.26H2096.80V1320.5ZM2096.80 1320.5V1314.88H2097.92V1320.5ZM2097.92 1320.5V1314.88H2099.05V1320.5ZM2099.05 1320.5V1314.88H2100.17V1320.5ZM2100.17 1320.5V1314.88H2101.29V1320.5ZM2101.29 1320.5V1314.88H2102.41V1320.5ZM2102.41 1320.5V1303.64H2103.53V1320.5ZM2103.53 1320.5V1314.88H2104.65V1320.5ZM2104.65 1320.5V1314.88H2105.77V1320.5ZM2105.77 1320.5V1314.88H2106.89V1320.5ZM2106.89 1320.5V1314.88H2108.01V1320.5ZM2108.01 1320.5V1314.88H2109.14V1320.5ZM2109.14 1320.5V1314.88H2110.26V1320.5ZM2110.26 1320.5V1314.88H2111.38V1320.5ZM2111.38 1320.5V1314.88H2112.50V1320.5ZM2112.50 1320.5V1309.26H2113.62V1320.5ZM2113.62 1320.5V1314.88H2114.74V1320.5ZM2114.74 1320.5V1314.88H2115.86V1320.5ZM2115.86 1320.5V1314.88H2116.98V1320.5ZM2116.98 1320.5V1314.88H2118.11V1320.5ZM2118.11 1320.5V1314.88H2119.23V1320.5ZM2119.23 1320.5V1309.26H2120.35V1320.5ZM2120.35 1320.5V1314.88H2121.47V1320.5ZM2121.47 1320.5V1314.88H2122.59V1320.5ZM2122.59 1320.5V1309.26H2123.71V1320.5ZM2123.71 1320.5V1314.88H2124.83V1320.5ZM2124.83 1320.5V1314.88H2125.95V1320.5ZM2125.95 1320.5V1314.88H2127.07V1320.5ZM2127.07 1320.5V1314.88H2128.20V1320.5ZM2128.20 1320.5V1309.26H2129.32V1320.5ZM2129.32 1320.5V1314.88H2130.44V1320.5ZM2130.44 1320.5V1309.26H2131.56V1320.5ZM2131.56 1320.5V1314.88H2132.68V1320.5ZM2132.68 1320.5V1314.88H2133.80V1320.5ZM2133.80 1320.5V1314.88H2134.92V1320.5ZM2134.92 1320.5V1309.26H2136.04V1320.5ZM2136.04 1320.5V1314.88H2137.17V1320.5ZM2137.17 1320.5V1314.88H2138.29V1320.5ZM2138.29 1320.5V1309.26H2139.41V1320.5ZM2139.41 1320.5V1314.88H2140.53V1320.5ZM2140.53 1320.5V1309.26H2141.65V1320.5ZM2141.65 1320.5V1314.88H2142.77V1320.5ZM2142.77 1320.5V1314.88H2143.89V1320.5ZM2143.89 1320.5V1309.26H2145.01V1320.5ZM2145.01 1320.5V1314.88H2146.13V1320.5ZM2146.13 1320.5V1309.26H2147.26V1320.5ZM2147.26 1320.5V1314.88H2148.38V1320.5ZM2148.38 1320.5V1303.64H2149.50V1320.5ZM2149.50 1320.5V1314.88H2150.62V1320.5ZM2150.62 1320.5V1309.26H2151.74V1320.5ZM2151.74 1320.5V1314.88H2152.86V1320.5ZM2152.86 1320.5V1309.26H2153.98V1320.5ZM2153.98 1320.5V1314.88H2155.10V1320.5ZM2155.10 1320.5V1309.26H2156.23V1320.5ZM2156.23 1320.5V1314.88H2157.35V1320.5ZM2157.35 1320.5V1309.26H2158.47V1320.5ZM2158.47 1320.5V1314.88H2159.59V1320.5ZM2159.59 1320.5V1309.26H2160.71V1320.5ZM2160.71 1320.5V1309.26H2161.83V1320.5ZM2161.83 1320.5V1314.88H2162.95V1320.5ZM2162.95 1320.5V1309.26H2164.07V1320.5ZM2164.07 1320.5V1314.88H2165.19V1320.5ZM2165.19 1320.5V1309.26H2166.32V1320.5ZM2166.32 1320.5V1314.88H2167.44V1320.5ZM2167.44 1320.5V1309.26H2168.56V1320.5ZM2168.56 1320.5V1314.88H2169.68V1320.5ZM2169.68 1320.5V1309.26H2170.80V1320.5ZM2170.80 1320.5V1309.26H2171.92V1320.5ZM2171.92 1320.5V1314.88H2173.04V1320.5ZM2173.04 1320.5V1309.26H2174.16V1320.5Z" fill="#9eecc0"/>
<path d="M237.60 1320.5V1314.88H240.22V1320.5ZM240.22 1320.5V1309.26H242.83V1320.5ZM242.83 1320.5V1314.88H244.67V1320.5ZM244.67 1320.5V1258.69H246.23V1320.5ZM246.23 1320.5V1185.64H247.80V1320.5ZM247.80 1320.5V1230.60H249.37V1320.5ZM249.37 1320.5V1224.98H250.94V1320.5ZM250.94 1320.5V1028.31H251.99V1320.5ZM251.99 1320.5V1056.41H253.56V1320.5ZM253.56 1320.5V1106.98H254.60V1320.5ZM254.60 1320.5V1191.26H255.65V1320.5ZM255.65 1320.5V977.74H256.69V1320.5ZM256.69 1320.5V983.36H257.74V1320.5ZM257.74 1320.5V1067.64H258.79V1320.5ZM258.79 1320.5V1050.79H259.83V1320.5ZM259.83 1320.5V1033.93H260.88V1320.5ZM260.88 1320.5V1090.12H261.92V1320.5ZM261.92 1320.5V1135.07H262.97V1320.5ZM262.97 1320.5V1236.21H264.02V1320.5ZM264.02 1320.5V1224.98H265.06V1320.5ZM265.06 1320.5V1219.36H266.11V1320.5ZM266.11 1320.5V1247.45H267.15V1320.5ZM267.15 1320.5V1253.07H268.72V1320.5ZM268.72 1320.5V1258.69H271.34V1320.5ZM271.34 1320.5V1135.07H272.38V1320.5ZM272.38 1320.5V1123.84H273.43V1320.5ZM273.43 1320.5V1135.07H274.48V1320.5ZM274.48 1320.5V1180.03H275.52V1320.5ZM275.52 1320.5V1230.60H276.57V1320.5ZM276.57 1320.5V1157.55H277.62V1320.5ZM277.62 1320.5V1168.79H278.66V1320.5ZM278.66 1320.5V1163.17H279.71V1320.5ZM279.71 1320.5V1090.12H280.75V1320.5ZM280.75 1320.5V1039.55H281.80V1320.5ZM281.80 1320.5V1140.69H283.89V1320.5ZM283.89 1320.5V1208.12H284.94V1320.5ZM284.94 1320.5V977.74H285.98V1320.5ZM285.98 1320.5V994.60H287.03V1320.5ZM287.03 1320.5V1208.12H288.08V1320.5ZM288.08 1320.5V1230.60H289.12V1320.5ZM289.12 1320.5V1258.69H291.21V1320.5ZM291.21 1320.5V1241.83H292.26V1320.5ZM292.26 1320.5V1078.88H293.31V1320.5ZM293.31 1320.5V1011.46H294.35V1320.5ZM294.35 1320.5V1095.74H295.40V1320.5ZM295.40 1320.5V1157.55H296.44V1320.5ZM296.44 1320.5V1174.41H297.49V1320.5ZM297.49 1320.5V1151.93H298.54V1320.5ZM298.54 1320.5V1146.31H299.58V1320.5ZM299.58 1320.5V1185.64H300.63V1320.5ZM300.63 1320.5V1253.07H301.67V1320.5ZM301.67 1320.5V1264.31H302.72V1320.5ZM302.72 1320.5V1269.93H303.77V1320.5ZM303.77 1320.5V1281.17H304.81V1320.5ZM304.81 1320.5V1303.64H305.86V1320.5ZM305.86 1320.5V1275.55H306.90V1320.5ZM306.90 1320.5V1247.45H307.95V1320.5ZM307.95 1320.5V1258.69H309.00V1320.5ZM309.00 1320.5V1241.83H310.04V1320.5ZM310.04 1320.5V1224.98H311.09V1320.5ZM311.09 1320.5V1208.12H312.13V1320.5ZM312.13 1320.5V1174.41H313.18V1320.5ZM313.18 1320.5V1202.50H314.23V1320.5ZM314.23 1320.5V1224.98H316.32V1320.5ZM316.32 1320.5V1253.07H317.36V1320.5ZM317.36 1320.5V1180.03H318.41V1320.5ZM318.41 1320.5V1078.88H319.46V1320.5ZM319.46 1320.5V1056.41H320.50V1320.5ZM320.50 1320.5V1045.17H321.55V1320.5ZM321.55 1320.5V1135.07H322.59V1320.5ZM322.59 1320.5V1163.17H323.64V1320.5ZM323.64 1320.5V1045.17H324.69V1320.5ZM324.69 1320.5V1028.31H325.73V1320.5ZM325.73 1320.5V1000.22H326.78V1320.5ZM326.78 1320.5V1062.03H327.82V1320.5ZM327.82 1320.5V1146.31H328.87V1320.5ZM328.87 1320.5V1247.45H329.92V1320.5ZM329.92 1320.5V1253.07H330.96V1320.5ZM330.96 1320.5V1264.31H332.01V1320.5ZM332.01 1320.5V1258.69H333.05V1320.5ZM333.05 1320.5V1253.07H335.15V1320.5ZM335.15 1320.5V1196.88H336.19V1320.5ZM336.19 1320.5V1157.55H337.24V1320.5ZM337.24 1320.5V1106.98H338.28V1320.5ZM338.28 1320.5V1090.12H339.33V1320.5ZM339.33 1320.5V1174.41H340.38V1320.5ZM340.38 1320.5V1112.60H341.42V1320.5ZM341.42 1320.5V1067.64H342.47V1320.5ZM342.47 1320.5V1135.07H343.51V1320.5ZM343.51 1320.5V1140.69H344.56V1320.5ZM344.56 1320.5V1230.60H345.61V1320.5ZM345.61 1320.5V1219.36H346.65V1320.5ZM346.65 1320.5V1253.07H348.74V1320.5ZM348.74 1320.5V1258.69H349.79V1320.5ZM349.79 1320.5V1106.98H351.88V1320.5ZM351.88 1320.5V1140.69H352.93V1320.5ZM352.93 1320.5V1236.21H353.97V1320.5ZM353.97 1320.5V1230.60H355.02V1320.5ZM355.02 1320.5V1090.12H356.07V1320.5ZM356.07 1320.5V1146.31H357.11V1320.5ZM357.11 1320.5V1185.64H358.16V1320.5ZM358.16 1320.5V1196.88H359.21V1320.5ZM359.21 1320.5V1180.03H360.25V1320.5ZM360.25 1320.5V1140.69H362.34V1320.5ZM362.34 1320.5V1174.41H363.39V1320.5ZM363.39 1320.5V1219.36H364.44V1320.5ZM364.44 1320.5V1230.60H365.48V1320.5ZM365.48 1320.5V1236.21H366.53V1320.5ZM366.53 1320.5V1230.60H367.57V1320.5ZM367.57 1320.5V1219.36H368.62V1320.5ZM368.62 1320.5V1247.45H375.94V1320.5ZM375.94 1320.5V1253.07H376.99V1320.5ZM376.99 1320.5V1258.69H380.13V1320.5ZM380.13 1320.5V1269.93H381.17V1320.5ZM381.17 1320.5V1281.17H382.22V1320.5ZM382.22 1320.5V1298.02H383.26V1320.5ZM383.26 1320.5V1314.88H384.05V1320.5ZM1205.22 1320.5V1303.64H1206.86V1320.5ZM1206.86 1320.5V1303.64H1208.56V1320.5ZM1208.56 1320.5V1303.64H1210.25V1320.5ZM1210.25 1320.5V1298.02H1211.86V1320.5ZM1211.86 1320.5V1230.60H1213.47V1320.5ZM1213.47 1320.5V1191.26H1215.17V1320.5ZM1215.17 1320.5V1084.50H1217.03V1320.5ZM1217.03 1320.5V1005.84H1218.73V1320.5ZM1218.73 1320.5V1062.03H1220.42V1320.5ZM1220.42 1320.5V1011.46H1222.63V1320.5ZM1222.63 1320.5V1151.93H1225.00V1320.5ZM1225.00 1320.5V1151.93H1227.03V1320.5ZM1227.03 1320.5V882.22H1228.73V1320.5ZM1228.73 1320.5V904.69H1230.42V1320.5ZM1230.42 1320.5V1028.31H1232.12V1320.5ZM1232.12 1320.5V1011.46H1233.98V1320.5ZM1233.98 1320.5V1011.46H1235.68V1320.5ZM1235.68 1320.5V1230.60H1237.20V1320.5ZM1237.20 1320.5V977.74H1238.90V1320.5ZM1238.90 1320.5V1005.84H1240.59V1320.5ZM1240.59 1320.5V1073.26H1242.12V1320.5ZM1242.12 1320.5V899.08H1243.64V1320.5ZM1243.64 1320.5V927.17H1245.17V1320.5ZM1245.17 1320.5V1157.55H1246.53V1320.5ZM1246.53 1320.5V1062.03H1247.88V1320.5ZM1247.88 1320.5V1011.46H1249.41V1320.5ZM1249.41 1320.5V1073.26H1251.10V1320.5ZM1251.10 1320.5V1090.12H1252.80V1320.5ZM1252.80 1320.5V1101.36H1254.49V1320.5ZM1254.49 1320.5V1196.88H1256.19V1320.5ZM1256.19 1320.5V1196.88H1257.71V1320.5ZM1257.71 1320.5V966.50H1259.07V1320.5ZM1259.07 1320.5V865.36H1260.42V1320.5ZM1260.42 1320.5V988.98H1261.95V1320.5ZM1261.95 1320.5V1224.98H1263.64V1320.5ZM1263.64 1320.5V1236.21H1265.34V1320.5ZM1265.34 1320.5V1067.64H1266.86V1320.5ZM1266.86 1320.5V921.55H1268.39V1320.5ZM1268.39 1320.5V1151.93H1270.08V1320.5ZM1270.08 1320.5V1112.60H1271.78V1320.5ZM1271.78 1320.5V1219.36H1273.31V1320.5ZM1273.31 1320.5V1135.07H1274.83V1320.5ZM1274.83 1320.5V1033.93H1276.36V1320.5ZM1276.36 1320.5V1000.22H1277.71V1320.5ZM1277.71 1320.5V977.74H1279.07V1320.5ZM1279.07 1320.5V932.79H1280.42V1320.5ZM1280.42 1320.5V1163.17H1281.78V1320.5ZM1281.78 1320.5V1224.98H1283.14V1320.5ZM1283.14 1320.5V1067.64H1284.49V1320.5ZM1284.49 1320.5V1022.69H1285.85V1320.5ZM1285.85 1320.5V1078.88H1287.20V1320.5ZM1287.20 1320.5V1185.64H1288.73V1320.5ZM1288.73 1320.5V1202.50H1290.25V1320.5ZM1290.25 1320.5V1219.36H1291.78V1320.5ZM1291.78 1320.5V1202.50H1293.31V1320.5ZM1293.31 1320.5V1202.50H1294.83V1320.5ZM1294.83 1320.5V1224.98H1296.53V1320.5ZM1296.53 1320.5V1084.50H1298.05V1320.5ZM1298.05 1320.5V1000.22H1299.41V1320.5ZM1299.41 1320.5V1045.17H1300.93V1320.5ZM1300.93 1320.5V1056.41H1302.63V1320.5ZM1302.63 1320.5V1022.69H1304.32V1320.5ZM1304.32 1320.5V1045.17H1306.02V1320.5ZM1306.02 1320.5V977.74H1307.71V1320.5ZM1307.71 1320.5V1028.31H1309.41V1320.5ZM1309.41 1320.5V1208.12H1310.93V1320.5ZM1310.93 1320.5V1028.31H1312.29V1320.5ZM1312.29 1320.5V1106.98H1313.81V1320.5ZM1313.81 1320.5V1062.03H1315.51V1320.5ZM1315.51 1320.5V1224.98H1317.20V1320.5ZM1317.20 1320.5V1264.31H1318.90V1320.5ZM1318.90 1320.5V1157.55H1320.59V1320.5ZM1320.59 1320.5V1073.26H1322.29V1320.5ZM1322.29 1320.5V1067.64H1323.81V1320.5ZM1323.81 1320.5V1045.17H1325.34V1320.5ZM1325.34 1320.5V1067.64H1327.03V1320.5ZM1327.03 1320.5V1140.69H1328.56V1320.5ZM1328.56 1320.5V1084.50H1329.92V1320.5ZM1329.92 1320.5V1078.88H1331.44V1320.5ZM1331.44 1320.5V915.93H1333.14V1320.5ZM1333.14 1320.5V910.31H1334.66V1320.5ZM1334.66 1320.5V1084.50H1336.19V1320.5ZM1336.19 1320.5V1067.64H1337.88V1320.5ZM1337.88 1320.5V1140.69H1339.58V1320.5ZM1339.58 1320.5V1196.88H1341.27V1320.5ZM1341.27 1320.5V1196.88H1342.80V1320.5ZM1342.80 1320.5V1196.88H1344.32V1320.5ZM1344.32 1320.5V1219.36H1346.02V1320.5ZM1346.02 1320.5V1236.21H1347.54V1320.5ZM1347.54 1320.5V1236.21H1349.07V1320.5ZM1349.07 1320.5V1264.31H1350.76V1320.5ZM1350.76 1320.5V1253.07H1352.97V1320.5ZM1528.52 1320.5V1253.07H1531.56V1320.5ZM1531.56 1320.5V1247.45H1532.77V1320.5ZM1532.77 1320.5V1253.07H1538.25V1320.5ZM1538.25 1320.5V1247.45H1540.07V1320.5ZM1540.07 1320.5V1253.07H1541.29V1320.5ZM1541.29 1320.5V1174.41H1542.51V1320.5ZM1542.51 1320.5V1146.31H1543.72V1320.5ZM1543.72 1320.5V1163.17H1545.55V1320.5ZM1545.55 1320.5V1140.69H1547.37V1320.5ZM1547.37 1320.5V921.55H1549.20V1320.5ZM1549.20 1320.5V944.03H1550.41V1320.5ZM1550.41 1320.5V1067.64H1552.24V1320.5ZM1552.24 1320.5V1135.07H1553.45V1320.5ZM1553.45 1320.5V972.12H1555.28V1320.5ZM1555.28 1320.5V1067.64H1558.32V1320.5ZM1558.32 1320.5V1033.93H1559.54V1320.5ZM1559.54 1320.5V1123.84H1561.97V1320.5ZM1561.97 1320.5V938.41H1563.19V1320.5ZM1563.19 1320.5V983.36H1564.40V1320.5ZM1564.40 1320.5V1157.55H1565.62V1320.5ZM1565.62 1320.5V1213.74H1566.84V1320.5ZM1566.84 1320.5V1202.50H1568.05V1320.5ZM1568.05 1320.5V1196.88H1570.49V1320.5ZM1570.49 1320.5V1230.60H1573.53V1320.5ZM1573.53 1320.5V1253.07H1574.74V1320.5ZM1574.74 1320.5V1236.21H1576.57V1320.5ZM1576.57 1320.5V1180.03H1577.79V1320.5ZM1577.79 1320.5V1045.17H1579.00V1320.5ZM1579.00 1320.5V1118.22H1580.22V1320.5ZM1580.22 1320.5V1174.41H1581.44V1320.5ZM1581.44 1320.5V1163.17H1582.65V1320.5ZM1582.65 1320.5V1140.69H1583.87V1320.5ZM1583.87 1320.5V1033.93H1585.09V1320.5ZM1585.09 1320.5V944.03H1586.30V1320.5ZM1586.30 1320.5V1022.69H1587.52V1320.5ZM1587.52 1320.5V1168.79H1588.73V1320.5ZM1588.73 1320.5V1000.22H1589.95V1320.5ZM1589.95 1320.5V1011.46H1591.17V1320.5ZM1591.17 1320.5V1078.88H1592.38V1320.5ZM1592.38 1320.5V1191.26H1594.82V1320.5ZM1594.82 1320.5V1213.74H1596.03V1320.5ZM1596.03 1320.5V1253.07H1597.86V1320.5ZM1597.86 1320.5V1258.69H1599.68V1320.5ZM1599.68 1320.5V1264.31H1601.51V1320.5ZM1601.51 1320.5V1258.69H1603.33V1320.5ZM1603.33 1320.5V1253.07H1606.98V1320.5ZM1606.98 1320.5V1236.21H1608.20V1320.5ZM1608.20 1320.5V1202.50H1611.85V1320.5ZM1611.85 1320.5V1151.93H1613.67V1320.5ZM1613.67 1320.5V1230.60H1614.89V1320.5ZM1614.89 1320.5V1253.07H1618.54V1320.5ZM1618.54 1320.5V1241.83H1620.36V1320.5ZM1620.36 1320.5V1247.45H1622.19V1320.5ZM1622.19 1320.5V1264.31H1625.84V1320.5ZM1625.84 1320.5V1106.98H1627.06V1320.5ZM1627.06 1320.5V1078.88H1628.27V1320.5ZM1628.27 1320.5V1157.55H1629.49V1320.5ZM1629.49 1320.5V1202.50H1631.31V1320.5ZM1631.31 1320.5V1196.88H1633.75V1320.5ZM1633.75 1320.5V1118.22H1634.96V1320.5ZM1634.96 1320.5V1224.98H1636.18V1320.5ZM1636.18 1320.5V1253.07H1639.22V1320.5ZM1639.22 1320.5V1236.21H1643.48V1320.5ZM1643.48 1320.5V1174.41H1644.70V1320.5ZM1644.70 1320.5V1078.88H1645.91V1320.5ZM1645.91 1320.5V1151.93H1647.13V1320.5ZM1647.13 1320.5V1140.69H1648.35V1320.5ZM1648.35 1320.5V1050.79H1649.56V1320.5ZM1649.56 1320.5V1230.60H1651.39V1320.5ZM1651.39 1320.5V1253.07H1653.21V1320.5ZM1653.21 1320.5V1185.64H1658.08V1320.5ZM1658.08 1320.5V1191.26H1659.29V1320.5ZM1659.29 1320.5V1208.12H1662.34V1320.5ZM1662.34 1320.5V1253.07H1667.20V1320.5ZM1667.20 1320.5V1258.69H1672.07V1320.5ZM1672.07 1320.5V1230.60H1673.28V1320.5ZM1673.28 1320.5V1202.50H1675.11V1320.5ZM1675.11 1320.5V1269.93H1676.33V1320.5ZM1851.58 1320.5V1298.02H1857.96V1320.5ZM1857.96 1320.5V1292.40H1860.27V1320.5ZM1860.27 1320.5V1298.02H1863.17V1320.5ZM1863.17 1320.5V1292.40H1866.06V1320.5ZM1866.06 1320.5V1253.07H1867.80V1320.5ZM1867.80 1320.5V1202.50H1868.96V1320.5ZM1868.96 1320.5V1180.03H1870.12V1320.5ZM1870.12 1320.5V1118.22H1871.28V1320.5ZM1871.28 1320.5V955.26H1872.44V1320.5ZM1872.44 1320.5V983.36H1873.59V1320.5ZM1873.59 1320.5V1039.55H1874.75V1320.5ZM1874.75 1320.5V938.41H1875.91V1320.5ZM1875.91 1320.5V1056.41H1877.07V1320.5ZM1877.07 1320.5V1073.26H1878.23V1320.5ZM1878.23 1320.5V994.60H1879.39V1320.5ZM1879.39 1320.5V1180.03H1880.54V1320.5ZM1880.54 1320.5V1185.64H1881.70V1320.5ZM1881.70 1320.5V1230.60H1882.86V1320.5ZM1882.86 1320.5V1208.12H1884.02V1320.5ZM1884.02 1320.5V1202.50H1885.18V1320.5ZM1885.18 1320.5V1163.17H1886.34V1320.5ZM1886.34 1320.5V1118.22H1887.49V1320.5ZM1887.49 1320.5V1112.60H1888.65V1320.5ZM1888.65 1320.5V1135.07H1889.81V1320.5ZM1889.81 1320.5V1230.60H1892.13V1320.5ZM1892.13 1320.5V1202.50H1893.29V1320.5ZM1893.29 1320.5V1084.50H1894.45V1320.5ZM1894.45 1320.5V1140.69H1895.60V1320.5ZM1895.60 1320.5V1208.12H1896.76V1320.5ZM1896.76 1320.5V1140.69H1897.92V1320.5ZM1897.92 1320.5V1095.74H1899.08V1320.5ZM1899.08 1320.5V1208.12H1900.24V1320.5ZM1900.24 1320.5V1219.36H1901.40V1320.5ZM1901.40 1320.5V1213.74H1902.55V1320.5ZM1902.55 1320.5V1219.36H1903.71V1320.5ZM1903.71 1320.5V1202.50H1904.87V1320.5ZM1904.87 1320.5V1219.36H1906.03V1320.5ZM1906.03 1320.5V1230.60H1907.19V1320.5ZM1907.19 1320.5V1224.98H1908.35V1320.5ZM1908.35 1320.5V1213.74H1910.66V1320.5ZM1910.66 1320.5V1208.12H1911.82V1320.5ZM1911.82 1320.5V1213.74H1912.98V1320.5ZM1912.98 1320.5V1224.98H1914.14V1320.5ZM1914.14 1320.5V1219.36H1915.30V1320.5ZM1915.30 1320.5V1101.36H1916.46V1320.5ZM1916.46 1320.5V1129.45H1917.61V1320.5ZM1917.61 1320.5V1168.79H1918.77V1320.5ZM1918.77 1320.5V1213.74H1919.93V1320.5ZM1919.93 1320.5V1230.60H1921.09V1320.5ZM1921.09 1320.5V1224.98H1923.41V1320.5ZM1923.41 1320.5V1140.69H1924.56V1320.5ZM1924.56 1320.5V1219.36H1925.72V1320.5ZM1925.72 1320.5V1241.83H1928.04V1320.5ZM1928.04 1320.5V1224.98H1929.20V1320.5ZM1929.20 1320.5V1230.60H1930.36V1320.5ZM1930.36 1320.5V1236.21H1931.51V1320.5ZM1931.51 1320.5V1241.83H1933.83V1320.5ZM1933.83 1320.5V1236.21H1934.99V1320.5ZM1934.99 1320.5V1224.98H1936.15V1320.5ZM1936.15 1320.5V1236.21H1937.31V1320.5ZM1937.31 1320.5V1230.60H1938.47V1320.5ZM1938.47 1320.5V1241.83H1939.62V1320.5ZM1939.62 1320.5V1247.45H1940.78V1320.5ZM1940.78 1320.5V1236.21H1941.94V1320.5ZM1941.94 1320.5V1247.45H1943.10V1320.5ZM1943.10 1320.5V1236.21H1945.42V1320.5ZM1945.42 1320.5V1191.26H1946.57V1320.5ZM1946.57 1320.5V1050.79H1947.73V1320.5ZM1947.73 1320.5V1084.50H1948.89V1320.5ZM1948.89 1320.5V1219.36H1950.05V1320.5ZM1950.05 1320.5V1213.74H1952.37V1320.5ZM1952.37 1320.5V1224.98H1955.84V1320.5ZM1955.84 1320.5V1241.83H1957.00V1320.5ZM1957.00 1320.5V1236.21H1958.16V1320.5ZM1958.16 1320.5V1241.83H1959.32V1320.5ZM1959.32 1320.5V1247.45H1960.47V1320.5ZM1960.47 1320.5V1258.69H1961.63V1320.5ZM1961.63 1320.5V1247.45H1962.79V1320.5ZM1962.79 1320.5V1230.60H1963.95V1320.5ZM1963.95 1320.5V1163.17H1965.11V1320.5ZM1965.11 1320.5V1056.41H1966.27V1320.5ZM1966.27 1320.5V1078.88H1967.43V1320.5ZM1967.43 1320.5V1253.07H1968.58V1320.5ZM1968.58 1320.5V1258.69H1969.74V1320.5ZM1969.74 1320.5V1269.93H1970.90V1320.5ZM1970.90 1320.5V1253.07H1972.06V1320.5ZM1972.06 1320.5V1247.45H1974.38V1320.5ZM1974.38 1320.5V1253.07H1975.53V1320.5ZM1975.53 1320.5V1106.98H1976.69V1320.5ZM1976.69 1320.5V1247.45H1977.85V1320.5ZM1977.85 1320.5V1264.31H1979.01V1320.5ZM1979.01 1320.5V1253.07H1980.17V1320.5ZM1980.17 1320.5V1264.31H1981.33V1320.5ZM1981.33 1320.5V1135.07H1982.48V1320.5ZM1982.48 1320.5V1168.79H1983.64V1320.5ZM1983.64 1320.5V1219.36H1984.80V1320.5ZM1984.80 1320.5V1253.07H1988.28V1320.5ZM1988.28 1320.5V1241.83H1989.44V1320.5ZM1989.44 1320.5V1236.21H1990.59V1320.5ZM1990.59 1320.5V1253.07H1992.91V1320.5ZM1992.91 1320.5V1269.93H1996.39V1320.5ZM1996.39 1320.5V1286.79H1997.54V1320.5ZM1997.54 1320.5V1314.88H1998.70V1320.5ZM2174.16 1320.5V1309.26H2175.29V1320.5ZM2175.29 1320.5V1314.88H2176.41V1320.5ZM2176.41 1320.5V1309.26H2177.53V1320.5ZM2177.53 1320.5V1309.26H2178.65V1320.5ZM2178.65 1320.5V1314.88H2179.77V1320.5ZM2179.77 1320.5V1286.79H2180.89V1320.5ZM2180.89 1320.5V1208.12H2182.01V1320.5ZM2182.01 1320.5V1258.69H2183.13V1320.5ZM2183.13 1320.5V1202.50H2184.26V1320.5ZM2184.26 1320.5V1208.12H2185.38V1320.5ZM2185.38 1320.5V1202.50H2186.50V1320.5ZM2186.50 1320.5V1118.22H2187.62V1320.5ZM2187.62 1320.5V1123.84H2188.74V1320.5ZM2188.74 1320.5V1084.50H2189.86V1320.5ZM2189.86 1320.5V1191.26H2190.98V1320.5ZM2190.98 1320.5V1180.03H2192.10V1320.5ZM2192.10 1320.5V1084.50H2193.22V1320.5ZM2193.22 1320.5V955.26H2194.35V1320.5ZM2194.35 1320.5V1028.31H2195.47V1320.5ZM2195.47 1320.5V1118.22H2196.59V1320.5ZM2196.59 1320.5V1017.07H2197.71V1320.5ZM2197.71 1320.5V1011.46H2198.83V1320.5ZM2198.83 1320.5V1151.93H2199.95V1320.5ZM2199.95 1320.5V1202.50H2201.07V1320.5ZM2201.07 1320.5V1140.69H2202.19V1320.5ZM2202.19 1320.5V1112.60H2203.32V1320.5ZM2203.32 1320.5V1140.69H2204.44V1320.5ZM2204.44 1320.5V1050.79H2205.56V1320.5ZM2205.56 1320.5V1135.07H2206.68V1320.5ZM2206.68 1320.5V1258.69H2207.80V1320.5ZM2207.80 1320.5V1174.41H2208.92V1320.5ZM2208.92 1320.5V1180.03H2210.04V1320.5ZM2210.04 1320.5V1180.03H2211.16V1320.5ZM2211.16 1320.5V1202.50H2212.28V1320.5ZM2212.28 1320.5V1191.26H2213.41V1320.5ZM2213.41 1320.5V1191.26H2214.53V1320.5ZM2214.53 1320.5V1219.36H2215.65V1320.5ZM2215.65 1320.5V1224.98H2216.77V1320.5ZM2216.77 1320.5V1208.12H2217.89V1320.5ZM2217.89 1320.5V1056.41H2219.01V1320.5ZM2219.01 1320.5V1062.03H2220.13V1320.5ZM2220.13 1320.5V1224.98H2221.25V1320.5ZM2221.25 1320.5V1253.07H2222.38V1320.5ZM2222.38 1320.5V1241.83H2223.50V1320.5ZM2223.50 1320.5V1264.31H2224.62V1320.5ZM2224.62 1320.5V1224.98H2225.74V1320.5ZM2225.74 1320.5V1062.03H2226.86V1320.5ZM2226.86 1320.5V1191.26H2227.98V1320.5ZM2227.98 1320.5V1174.41H2229.10V1320.5ZM2229.10 1320.5V1157.55H2230.22V1320.5ZM2230.22 1320.5V1095.74H2231.34V1320.5ZM2231.34 1320.5V1180.03H2232.47V1320.5ZM2232.47 1320.5V1253.07H2233.59V1320.5ZM2233.59 1320.5V1224.98H2234.71V1320.5ZM2234.71 1320.5V1247.45H2235.83V1320.5ZM2235.83 1320.5V1275.55H2236.95V1320.5ZM2236.95 1320.5V1269.93H2238.07V1320.5ZM2238.07 1320.5V1191.26H2239.19V1320.5ZM2239.19 1320.5V1123.84H2240.31V1320.5ZM2240.31 1320.5V1118.22H2241.44V1320.5ZM2241.44 1320.5V1236.21H2242.56V1320.5ZM2242.56 1320.5V1275.55H2243.68V1320.5ZM2243.68 1320.5V1213.74H2244.80V1320.5ZM2244.80 1320.5V1196.88H2245.92V1320.5ZM2245.92 1320.5V1039.55H2247.04V1320.5ZM2247.04 1320.5V1067.64H2248.16V1320.5ZM2248.16 1320.5V1219.36H2249.28V1320.5ZM2249.28 1320.5V1253.07H2250.40V1320.5ZM2250.40 1320.5V1269.93H2251.53V1320.5ZM2251.53 1320.5V1253.07H2252.65V1320.5ZM2252.65 1320.5V1236.21H2253.77V1320.5ZM2253.77 1320.5V1185.64H2254.89V1320.5ZM2254.89 1320.5V1236.21H2256.01V1320.5ZM2256.01 1320.5V1247.45H2257.13V1320.5ZM2257.13 1320.5V1247.45H2258.25V1320.5ZM2258.25 1320.5V1281.17H2259.37V1320.5ZM2259.37 1320.5V1264.31H2260.50V1320.5ZM2260.50 1320.5V1281.17H2261.62V1320.5ZM2261.62 1320.5V1275.55H2262.74V1320.5ZM2262.74 1320.5V1264.31H2263.86V1320.5ZM2263.86 1320.5V1275.55H2264.98V1320.5ZM2264.98 1320.5V1264.31H2266.10V1320.5ZM2266.10 1320.5V1281.17H2267.22V1320.5ZM2267.22 1320.5V1269.93H2268.34V1320.5ZM2268.34 1320.5V1275.55H2269.46V1320.5ZM2269.46 1320.5V1281.17H2270.59V1320.5ZM2270.59 1320.5V1258.69H2271.71V1320.5ZM2271.71 1320.5V1185.64H2272.83V1320.5ZM2272.83 1320.5V1230.60H2273.95V1320.5ZM2273.95 1320.5V1112.60H2275.07V1320.5ZM2275.07 1320.5V1157.55H2276.19V1320.5ZM2276.19 1320.5V1224.98H2277.31V1320.5ZM2277.31 1320.5V1247.45H2278.43V1320.5ZM2278.43 1320.5V1241.83H2279.56V1320.5ZM2279.56 1320.5V1264.31H2280.68V1320.5ZM2280.68 1320.5V1269.93H2281.80V1320.5ZM2281.80 1320.5V1241.83H2282.92V1320.5ZM2282.92 1320.5V1269.93H2284.04V1320.5ZM2284.04 1320.5V1258.69H2285.16V1320.5ZM2285.16 1320.5V1264.31H2286.28V1320.5ZM2286.28 1320.5V1281.17H2287.40V1320.5ZM2287.40 1320.5V1258.69H2288.52V1320.5ZM2288.52 1320.5V1281.17H2289.65V1320.5ZM2289.65 1320.5V1281.17H2290.77V1320.5ZM2290.77 1320.5V1135.07H2291.89V1320.5ZM2291.89 1320.5V1191.26H2293.01V1320.5ZM2293.01 1320.5V1118.22H2294.13V1320.5ZM2294.13 1320.5V1213.74H2295.25V1320.5ZM2295.25 1320.5V1196.88H2296.37V1320.5ZM2296.37 1320.5V1236.21H2297.49V1320.5ZM2297.49 1320.5V1258.69H2298.62V1320.5ZM2298.62 1320.5V1236.21H2299.74V1320.5ZM2299.74 1320.5V1281.17H2300.86V1320.5ZM2300.86 1320.5V1269.93H2301.98V1320.5ZM2301.98 1320.5V1241.83H2303.10V1320.5ZM2303.10 1320.5V1247.45H2304.22V1320.5ZM2304.22 1320.5V1247.45H2305.34V1320.5ZM2305.34 1320.5V1269.93H2306.46V1320.5ZM2306.46 1320.5V1281.17H2307.58V1320.5ZM2307.58 1320.5V1258.69H2308.71V1320.5ZM2308.71 1320.5V1281.17H2309.83V1320.5ZM2309.83 1320.5V1269.93H2310.95V1320.5ZM2310.95 1320.5V1264.31H2312.07V1320.5Z" fill="#24916f"/>
<line x1="155.0" y1="814.8" x2="155.0" y2="1321.5" stroke="#6a6a6a" stroke-width="1.8"/>
<line x1="155.6" y1="1321.6" x2="2415.9" y2="1321.6" stroke="#707070" stroke-width="1.2"/>
<line x1="156.00" y1="1322" x2="156.00" y2="1332.2" stroke="#8a8a8a" stroke-width="1"/>
<line x1="478.90" y1="1322" x2="478.90" y2="1332.2" stroke="#8a8a8a" stroke-width="1"/>
<line x1="801.80" y1="1322" x2="801.80" y2="1332.2" stroke="#8a8a8a" stroke-width="1"/>
<line x1="1124.70" y1="1322" x2="1124.70" y2="1332.2" stroke="#8a8a8a" stroke-width="1"/>
<line x1="1447.60" y1="1322" x2="1447.60" y2="1332.2" stroke="#8a8a8a" stroke-width="1"/>
<line x1="1770.50" y1="1322" x2="1770.50" y2="1332.2" stroke="#8a8a8a" stroke-width="1"/>
<line x1="2093.40" y1="1322" x2="2093.40" y2="1332.2" stroke="#8a8a8a" stroke-width="1"/>
<text x="132.6" y="1326.5" font-size="20.4" fill="#3c3c3c" text-anchor="end" font-weight="normal" textLength="11.4" lengthAdjust="spacingAndGlyphs" stroke="#3c3c3c" stroke-width="0.3">0</text>
<text x="132.6" y="1270.3" font-size="20.4" fill="#3c3c3c" text-anchor="end" font-weight="normal" textLength="23.4" lengthAdjust="spacingAndGlyphs" stroke="#3c3c3c" stroke-width="0.3">10</text>
<text x="132.6" y="1214.1" font-size="20.4" fill="#3c3c3c" text-anchor="end" font-weight="normal" textLength="23.4" lengthAdjust="spacingAndGlyphs" stroke="#3c3c3c" stroke-width="0.3">20</text>
<text x="132.6" y="1157.9" font-size="20.4" fill="#3c3c3c" text-anchor="end" font-weight="normal" textLength="23.4" lengthAdjust="spacingAndGlyphs" stroke="#3c3c3c" stroke-width="0.3">30</text>
<text x="132.6" y="1101.7" font-size="20.4" fill="#3c3c3c" text-anchor="end" font-weight="normal" textLength="23.4" lengthAdjust="spacingAndGlyphs" stroke="#3c3c3c" stroke-width="0.3">40</text>
<text x="132.6" y="1045.5" font-size="20.4" fill="#3c3c3c" text-anchor="end" font-weight="normal" textLength="23.4" lengthAdjust="spacingAndGlyphs" stroke="#3c3c3c" stroke-width="0.3">50</text>
<text x="132.6" y="989.4" font-size="20.4" fill="#3c3c3c" text-anchor="end" font-weight="normal" textLength="23.4" lengthAdjust="spacingAndGlyphs" stroke="#3c3c3c" stroke-width="0.3">60</text>
<text x="132.6" y="933.2" font-size="20.4" fill="#3c3c3c" text-anchor="end" font-weight="normal" textLength="23.4" lengthAdjust="spacingAndGlyphs" stroke="#3c3c3c" stroke-width="0.3">70</text>
<text x="132.6" y="877.0" font-size="20.4" fill="#3c3c3c" text-anchor="end" font-weight="normal" textLength="23.4" lengthAdjust="spacingAndGlyphs" stroke="#3c3c3c" stroke-width="0.3">80</text>
<text x="132.6" y="820.8" font-size="20.4" fill="#3c3c3c" text-anchor="end" font-weight="normal" textLength="23.4" lengthAdjust="spacingAndGlyphs" stroke="#3c3c3c" stroke-width="0.3">90</text>
<text x="155.6" y="1356.6" font-size="20" fill="#111" text-anchor="middle" font-weight="normal" textLength="74.0" lengthAdjust="spacingAndGlyphs" stroke="#111" stroke-width="0.45">ven. 10</text>
<text x="478.5" y="1356.6" font-size="20" fill="#111" text-anchor="middle" font-weight="normal" textLength="80.2" lengthAdjust="spacingAndGlyphs" stroke="#111" stroke-width="0.45">sam. 11</text>
<text x="801.4" y="1356.6" font-size="20" fill="#111" text-anchor="middle" font-weight="normal" textLength="75.7" lengthAdjust="spacingAndGlyphs" stroke="#111" stroke-width="0.45">dim. 12</text>
<text x="1124.3" y="1356.6" font-size="20" fill="#111" text-anchor="middle" font-weight="normal" textLength="68.1" lengthAdjust="spacingAndGlyphs" stroke="#111" stroke-width="0.45">lun. 13</text>
<text x="1447.2" y="1356.6" font-size="20" fill="#111" text-anchor="middle" font-weight="normal" textLength="75.6" lengthAdjust="spacingAndGlyphs" stroke="#111" stroke-width="0.45">mar. 14</text>
<text x="1770.1" y="1356.6" font-size="20" fill="#111" text-anchor="middle" font-weight="normal" textLength="75.7" lengthAdjust="spacingAndGlyphs" stroke="#111" stroke-width="0.45">mer. 15</text>
<text x="2093.0" y="1356.6" font-size="20" fill="#111" text-anchor="middle" font-weight="normal" textLength="72.6" lengthAdjust="spacingAndGlyphs" stroke="#111" stroke-width="0.45">jeu. 16</text>
<text transform="translate(85.8,1067.2) rotate(-90)" font-size="24" fill="#3c3c3c" text-anchor="middle" textLength="29" lengthAdjust="spacingAndGlyphs">kW</text>
<rect x="1047.5" y="542.5" width="522" height="69" rx="8" ry="8" fill="#fff" fill-opacity="0.9"/>
<text x="1171.7" y="588.6" font-size="30" fill="#111" text-anchor="start" font-weight="bold" textLength="283.5" lengthAdjust="spacingAndGlyphs" >jeudi 16 avril 2026</text>
<rect x="1990.7" y="45" width="415" height="53" rx="7" fill="#fff"/>
<text x="2112.5" y="89.2" font-size="26" fill="#000" text-anchor="start" font-weight="bold" textLength="171.2" lengthAdjust="spacingAndGlyphs" >LHB-site-L654</text>
<rect x="1992.2" y="108.6" width="411.8" height="57.7" rx="10" ry="10" fill="#fff" stroke="#7f7f7f" stroke-width="3"/><text x="2052.5" y="148.2" font-size="28.5" fill="#000" text-anchor="start" font-weight="normal" textLength="310.5" lengthAdjust="spacingAndGlyphs" stroke="#000" stroke-width="0.25">Consommation: 312 kWh</text>
<rect x="1992.2" y="178.4" width="411.8" height="58.0" rx="10" ry="10" fill="#fff" stroke="#7f7f7f" stroke-width="3"/><text x="2113.6" y="218.0" font-size="28.5" fill="#000" text-anchor="start" font-weight="normal" textLength="188.3" lengthAdjust="spacingAndGlyphs" stroke="#000" stroke-width="0.25">P Max :&#160; 65 kW</text>
<rect x="1992.2" y="249.0" width="411.8" height="57.1" rx="10" ry="10" fill="#fff" stroke="#7f7f7f" stroke-width="3"/><text x="2128.5" y="288.6" font-size="28.5" fill="#000" text-anchor="start" font-weight="normal" textLength="159.5" lengthAdjust="spacingAndGlyphs" stroke="#000" stroke-width="0.25">P min : 1 kW</text>
<rect x="563.2" y="806.3" width="409.9" height="56.8" rx="10" ry="10" fill="#fff" stroke="#7f7f7f" stroke-width="3"/><text x="610.0" y="846.6" font-size="28.5" fill="#000" text-anchor="start" font-weight="normal" textLength="335.0" lengthAdjust="spacingAndGlyphs" stroke="#000" stroke-width="0.25">Consommation: 1 534 kWh</text>
<rect x="1099.7" y="806.3" width="411.8" height="56.8" rx="10" ry="10" fill="#fff" stroke="#7f7f7f" stroke-width="3"/><text x="1221.8" y="846.6" font-size="28.5" fill="#000" text-anchor="start" font-weight="normal" textLength="188.3" lengthAdjust="spacingAndGlyphs" stroke="#000" stroke-width="0.25">P Max :&#160; 81 kW</text>
<rect x="1610.0" y="806.3" width="410.7" height="56.8" rx="10" ry="10" fill="#fff" stroke="#7f7f7f" stroke-width="3"/><text x="1747.0" y="846.6" font-size="28.5" fill="#000" text-anchor="start" font-weight="normal" textLength="158.4" lengthAdjust="spacingAndGlyphs" stroke="#000" stroke-width="0.25">P min : 0 kW</text>
<rect x="176.5" y="49" width="481.5" height="77.8" fill="#0b0b19"/>
<defs><linearGradient id="ecog" gradientUnits="userSpaceOnUse" x1="0" y1="79" x2="0" y2="110"><stop offset="0" stop-color="#00f3cb"/><stop offset="0.47" stop-color="#00efc7"/><stop offset="0.57" stop-color="#00c6a2"/><stop offset="1" stop-color="#00b793"/></linearGradient></defs>
<g fill="none" stroke="url(#ecog)" stroke-width="7" stroke-linecap="round"><path d="M192 94.8 H210.3 A9.2 12 0 1 0 206.6 104.6"/><path d="M236.4 87.2 A8.7 12 0 1 0 236.4 102.4"/><ellipse cx="257.15" cy="94.75" rx="9.95" ry="12"/></g>
<path d="M198.5 75.3 L205.5 71.3" stroke="#00f0c8" stroke-width="5.5" stroke-linecap="round"/>
<g fill="none" stroke="#fff" stroke-width="7" stroke-linecap="round" stroke-linejoin="round"><path d="M276.3 84 L283.6 106.3 L291.3 84.5 L298.9 106.3 L313.8 68"/><path d="M316.5 86.3 Q324 77.8 331.5 82.3 Q334.8 84.6 334.8 91 V106.3"/><ellipse cx="322" cy="101.3" rx="6.9" ry="5.6" stroke-width="6.2"/><path d="M346.4 75.6 V101.5 Q346.4 106.3 352.2 106.3"/><path d="M361.6 75.6 V101.5 Q361.6 106.3 367.4 106.3"/><path d="M340.6 83 H370.8"/></g>
<ellipse cx="433.7" cy="89" rx="25.8" ry="28.2" fill="#00b2e2"/>
<text x="434" y="96.7" font-size="23" fill="#fff" text-anchor="middle" textLength="31.5" lengthAdjust="spacingAndGlyphs">Rte</text>
<text x="468.4" y="78.8" font-size="12.5" font-weight="bold" fill="#00a0d6" textLength="47.7" lengthAdjust="spacingAndGlyphs">Le réseau</text>
<text x="468.4" y="92" font-size="12.5" font-weight="bold" fill="#00a0d6" textLength="60.9" lengthAdjust="spacingAndGlyphs">de transport</text>
<text x="468.4" y="105.2" font-size="12.5" font-weight="bold" fill="#00a0d6" textLength="56.7" lengthAdjust="spacingAndGlyphs">d’électricité</text>
<rect x="546.2" y="61" width="100.8" height="56.3" fill="#fff"/>
<rect x="553" y="68.7" width="8.5" height="7" fill="#2b3a8c"/><rect x="563" y="68.7" width="8.5" height="7" fill="#e1000f"/>
<text x="552.5" y="86" font-size="8" font-weight="bold" fill="#111" textLength="44.5" lengthAdjust="spacingAndGlyphs">RÉPUBLIQUE</text>
<text x="552.5" y="93.5" font-size="8" font-weight="bold" fill="#111" textLength="41" lengthAdjust="spacingAndGlyphs">FRANÇAISE</text>
<text x="553" y="101" font-size="4" font-style="italic" fill="#555">Liberté</text><text x="553" y="105.5" font-size="4" font-style="italic" fill="#555">Égalité</text><text x="553" y="110" font-size="4" font-style="italic" fill="#555">Fraternité</text>
<rect x="607.4" y="66.6" width="34.3" height="45" fill="#fff" stroke="#4a78c8" stroke-width="1"/>
<text x="624.5" y="74.8" font-size="7" font-weight="bold" fill="#e3001b" text-anchor="middle" textLength="25" lengthAdjust="spacingAndGlyphs">ADEME</text>
<circle cx="624.3" cy="87.3" r="8.3" fill="#2b55b0"/><path d="M620 83 q3 -2 5 1 q-1 3 -4 2 z M626 88 q3 0 3 3 q-2 2 -4 0 z" fill="#7d9ad6"/>
<g fill="#e53a3a" opacity="0.75"><rect x="612" y="99.3" width="25" height="1"/><rect x="612" y="102.5" width="25" height="1"/><rect x="612" y="105.7" width="25" height="1"/></g>
<g fill="#d9d9d9">
<rect x="169" y="135.6" width="492" height="3"/>
<rect x="169" y="253.4" width="492" height="5.2"/>
<rect x="169" y="135.6" width="3.6" height="123"/>
<rect x="655.8" y="135.6" width="5.2" height="123"/>
<rect x="289" y="135.6" width="5.5" height="123"/>
<rect x="411.4" y="135.6" width="5.5" height="123"/>
<rect x="533.2" y="135.6" width="5.4" height="123"/>
<rect x="169" y="188.9" width="492" height="5.8"/>
</g>
<defs><linearGradient id="imgg" x1="0" y1="0" x2="0" y2="1"><stop offset="0" stop-color="#00c9a9"/><stop offset="1" stop-color="#00b597"/></linearGradient></defs>
<rect x="180" y="195" width="105.8" height="54.8" fill="url(#imgg)"/><path d="M195.87 195.00 L285.80 195.00 L285.80 211.44 C275.22 216.92 264.64 219.66 251.94 219.39 C232.90 218.56 211.74 207.06 195.87 195.00 Z" fill="#00f0c8"/><path d="M207.51 195.00 L285.80 195.00 L285.80 197.74 C275.22 204.32 264.64 206.78 250.89 206.23 C232.90 205.41 218.09 201.03 207.51 195.00 Z" fill="#00a48b"/>
<rect x="302" y="196" width="106" height="55.9" fill="url(#imgg)"/><path d="M317.90 196.00 L408.00 196.00 L408.00 212.77 C397.40 218.36 386.80 221.16 374.08 220.88 C355.00 220.04 333.80 208.30 317.90 196.00 Z" fill="#00f0c8"/><path d="M329.56 196.00 L408.00 196.00 L408.00 198.79 C397.40 205.50 386.80 208.02 373.02 207.46 C355.00 206.62 340.16 202.15 329.56 196.00 Z" fill="#00a48b"/>
<rect x="424.2" y="196" width="105.6" height="55.4" fill="url(#imgg)"/><path d="M440.04 196.00 L529.80 196.00 L529.80 212.62 C519.24 218.16 508.68 220.93 496.01 220.65 C477.00 219.82 455.88 208.19 440.04 196.00 Z" fill="#00f0c8"/><path d="M451.66 196.00 L529.80 196.00 L529.80 198.77 C519.24 205.42 508.68 207.91 494.95 207.36 C477.00 206.53 462.22 202.09 451.66 196.00 Z" fill="#00a48b"/>
<rect x="544" y="196" width="105.7" height="55.4" fill="url(#imgg)"/><path d="M559.86 196.00 L649.70 196.00 L649.70 212.62 C639.13 218.16 628.56 220.93 615.88 220.65 C596.85 219.82 575.71 208.19 559.86 196.00 Z" fill="#00f0c8"/><path d="M571.48 196.00 L649.70 196.00 L649.70 198.77 C639.13 205.42 628.56 207.91 614.82 207.36 C596.85 206.53 582.05 202.09 571.48 196.00 Z" fill="#00a48b"/>
<path d="M237.0 150.8 V169.6 L234.0 173 H228.6 L225.0 168.4" fill="none" stroke="#050505" stroke-width="3.7" stroke-linejoin="round"/>
<path d="M326.6 150.8 V169.6 L323.6 173 H318.2 L314.6 168.4" fill="none" stroke="#050505" stroke-width="3.7" stroke-linejoin="round"/><path d="M346.8 164 h14.2 M353.9 154.9 v18.3" stroke="#111" stroke-width="1.5"/><path d="M387.6 150.8 V174.7 M387.6 151.5 L380.8 158.2" fill="none" stroke="#111" stroke-width="2.2"/>
<path d="M449.5 150.8 V169.6 L446.5 173 H441.1 L437.5 168.4" fill="none" stroke="#050505" stroke-width="3.7" stroke-linejoin="round"/><path d="M468.9 164 h14.2 M476.0 154.9 v18.3" stroke="#111" stroke-width="1.5"/><text x="500.9" y="174.7" font-size="33.2" fill="#050505" text-anchor="start" font-weight="bold" textLength="16.2" lengthAdjust="spacingAndGlyphs" >2</text>
<path d="M571.3 150.8 V169.6 L568.3 173 H562.9 L559.3 168.4" fill="none" stroke="#050505" stroke-width="3.7" stroke-linejoin="round"/><path d="M590.8 164 h14.2 M597.9 154.9 v18.3" stroke="#111" stroke-width="1.5"/><text x="622.8" y="174.7" font-size="33.2" fill="#050505" text-anchor="start" font-weight="bold" textLength="16.2" lengthAdjust="spacingAndGlyphs" >3</text>
<rect x="2322" y="1322" width="116" height="57.5" fill="#fff"/>
<g fill="none" stroke="#0b6db8" stroke-width="4.8"><path d="M2361.3 1341.8 A12.6 12.8 0 1 0 2361.9 1351" stroke-linecap="round"/><path d="M2348.6 1350.9 H2364.2"/><path d="M2369.6 1346.2 Q2369.8 1340.6 2376.4 1340.6 Q2383.2 1340.6 2383.2 1346.4 Q2383.2 1349.8 2378.6 1354 L2372 1360.6 H2385.8" stroke-linecap="round" stroke-linejoin="round"/></g>
<path d="M2392 1324.8 L2393.9 1325.3 L2391.3 1335.5 L2400 1338.3 L2390.4 1363 L2389 1362.6 L2394 1341.8 L2383.6 1338.7 Z" fill="#e8592b"/>
<text x="2392.4" y="1334.9" font-size="8.2" font-weight="bold" fill="#e8592b" textLength="31.6" lengthAdjust="spacingAndGlyphs">FRANCE</text>
<g fill="#f09120"><path d="M2403.8 1339 L2424.4 1339 L2418.9 1344.5 L2400.8 1344.5 Z"/><path d="M2398.7 1348.3 L2418.1 1348.3 L2412.6 1353.8 L2396.6 1353.8 Z"/><path d="M2395 1357.1 L2416.8 1357.1 L2411.3 1363 L2392.9 1363 Z"/></g>
<rect x="2339.5" y="1366.2" width="74.5" height="1.2" fill="#2a7cc4" opacity="0.35"/>
</svg>
</body></html>
